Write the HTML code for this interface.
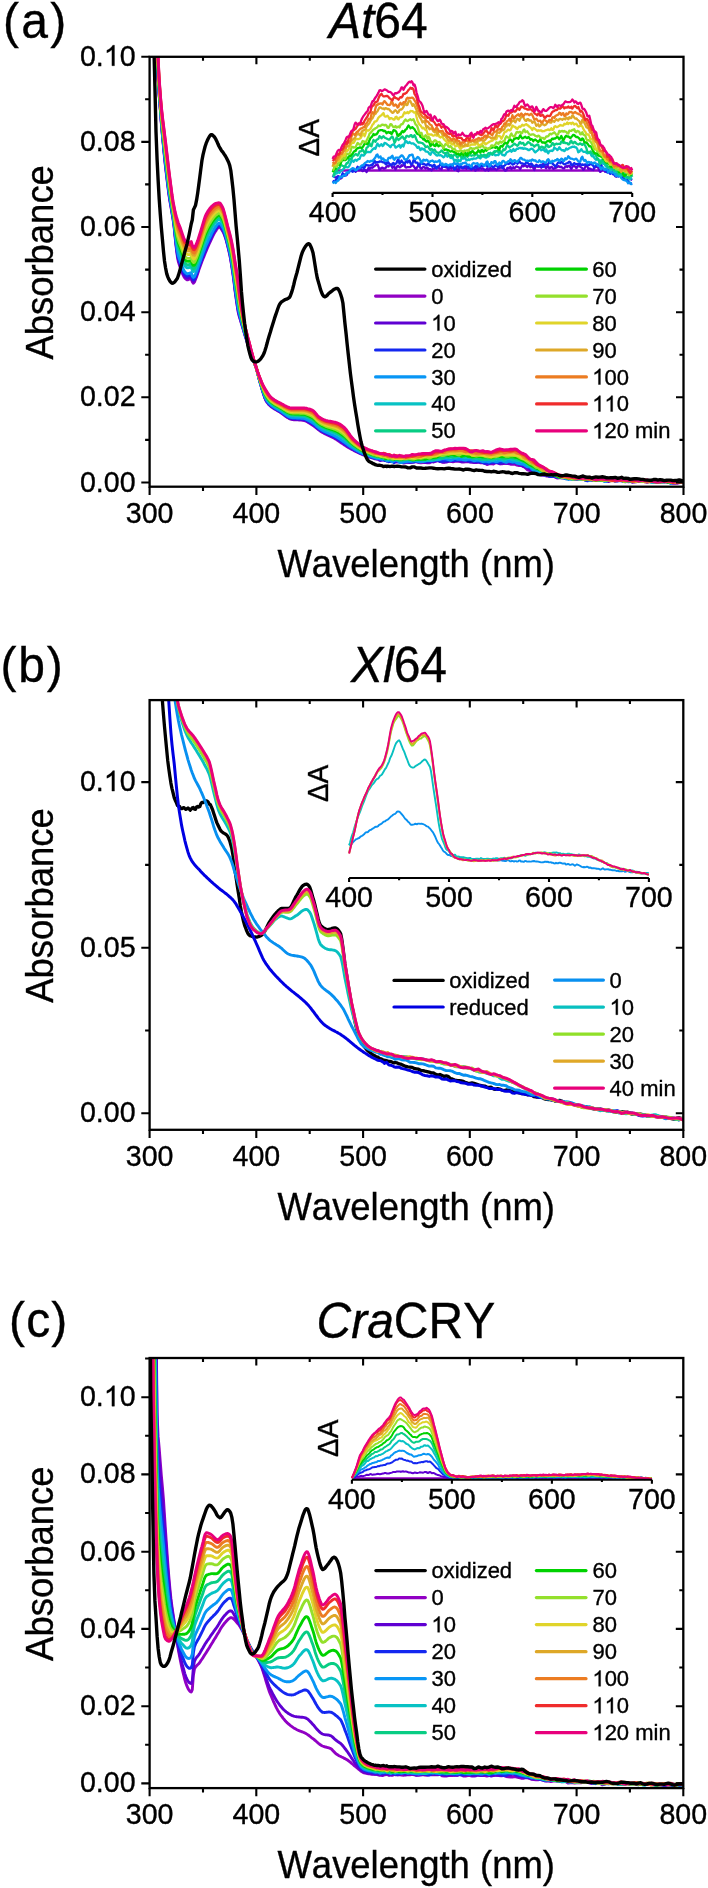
<!DOCTYPE html>
<html><head><meta charset="utf-8"><style>
html,body{margin:0;padding:0;background:#fff;}
svg{display:block;will-change:transform;}
text{font-family:"Liberation Sans", sans-serif;fill:#000;font-kerning:none;white-space:pre;stroke:#000;stroke-width:0.35px;}
</style></head><body>
<svg width="708" height="1888" viewBox="0 0 708 1888">
<rect width="708" height="1888" fill="#fff"/>
<defs><clipPath id="ca"><rect x="149.6" y="56.8" width="533.9" height="429.9"/></clipPath><clipPath id="cb"><rect x="149.6" y="700.1" width="533.7" height="429.6"/></clipPath><clipPath id="cc"><rect x="149.6" y="1358.0" width="533.7" height="430.1"/></clipPath></defs>
<path d="M149.6 -315.9l1.1 53.3l1 53.2l1.1 53.2l1.1 53.2l1 53.2l1.1 63l1.1 43.5l1 22.8l1.1 16.7l1.1 13.5l1 13.1l1.1 12.6l1.1 11.5l1 10.7l1.1 9.9l1.1 9.5l1.1 8.8l1 8.1l1.1 7.2l1.1 6.2l1 5.9l1.1 6.4l1.1 8.3l1 10.1l1.1 10.2l1.1 8.5l1 5.2l1.1 3.5l1.1 2.8l1 2.9l1.1 3.1l1.1 2.2l1 1.5l1.1 1.2l1.1 .7l1 -.1l1.1 -.5l1.1 -.4l1 -.3l1.1 3.4l1.1 1.3l1 -1.1l1.1 -2.6l1.1 -2.7l1.1 -3.2l1 -3.3l1.1 -3.1l1.1 -2.9l1 -2.8l1.1 -2.8l1.1 -2.6l1 -2.7l1.1 -2.5l1.1 -2.6l1 -2.4l1.1 -2.4l1.1 -2.4l1 -2.3l1.1 -2.3l1.1 -2.1l1 -1.9l1.1 -1.6l1.1 -1.8l1 -1.4l1.1 -.7l1.1 .4l1 1.3l1.1 1.7l1.1 1.9l1 2.4l1.1 3.1l1.1 3.6l1 4.1l1.1 4.4l1.1 4.7l1.1 5.7l1 6.5l1.1 7.1l1.1 8.1l1 8.6l1.1 7.9l1.1 7.6l1 6.1l1.1 4.4l1.1 3.6l1 3.3l1.1 3.6l1.1 3.6l1 3.5l1.1 3.4l1.1 3.4l1 3.4l1.1 3.3l1.1 3.3l1 3.2l1.1 3.1l1.1 2.8l1 2.5l1.1 2.6l1.1 3l1 4l1.1 4.4l1.1 4.4l1.1 3.7l1 3.6l1.1 3.6l1.1 3.4l1 2.9l1.1 2.5l1.1 1.7l1 1.3l1.1 1.2l1.1 1l1 .9l1.1 .8l1.1 .7l1 .7l1.1 .6l1.1 .6l1 .6l1.1 .7l1.1 .6l1 .7l1.1 .8l1.1 .8l1 .8l1.1 .8l1.1 .7l1 .8l1.1 .6l1.1 .6l1 .4l1.1 .3l1.1 .2l1.1 .1l1 .1l1.1 0l1.1 .1l1 0l1.1 .1l1.1 0l1 .1l1.1 .1l1.1 .1l1 .3l1.1 .4l1.1 .5l1 .5l1.1 .7l1.1 .7l1 .7l1.1 .7l1.1 .6l1 .8l1.1 .8l1.1 .9l1 .8l1.1 .9l1.1 .8l1 .8l1.1 .7l1.1 .6l1.1 .6l1 .6l1.1 .5l1.1 .5l1 .5l1.1 .5l1.1 .5l1 .5l1.1 .5l1.1 .6l1 .5l1.1 .7l1.1 .6l1 .7l1.1 .7l1.1 .7l1 .8l1.1 .7l1.1 .7l1 .8l1.1 .7l1.1 .7l1 .7l1.1 .6l1.1 .6l1 .6l1.1 .6l1.1 .6l1 .5l1.1 .6l1.1 .5l1.1 .6l1 .5l1.1 .5l1.1 .5l1 .5l1.1 .4l1.1 .4l1 .4l1.1 .4l1.1 .4l1 .4l1.1 .4l1.1 .3l1 .2l1.1 .5l1.1 .3l1 .2l1.1 .6l1.1 0l1 -.4l1.1 .6l1.1 .7l1 .1l1.1 .1l1.1 0l1 -.4l1.1 .3l1.1 .4l1.1 -.4l1 .7l1.1 .8l1.1 .1l1 -.3l1.1 -.3l1.1 .1l1 0l1.1 .6l2.1 .1l2.2 .2l2.1 .5l2.1 .7l2.2 -.6l2.1 -.4l2.1 .5l2.2 -.3l2.1 -.5l2.2 -.1l2.1 .9l2.1 .1l2.2 -.2l2.1 -.1l2.1 .4l2.2 .1l2.1 -1.3l2.1 -.4l2.2 0l2.1 -1.1l2.1 .4l2.2 1.7l2.1 0l2.1 -1.1l2.2 -.5l2.1 .8l2.2 .4l2.1 -.5l2.1 -.1l2.2 0l2.1 .5l2.1 .3l2.2 -.1l2.1 -.4l2.1 .3l2.2 .3l2.1 .5l2.1 -.1l2.2 -.3l2.1 .7l2.2 -.4l2.1 .8l2.1 1.2l2.2 -.7l2.1 -.2l2.1 .5l2.2 -1.3l2.1 0l2.1 1l2.2 0l2.1 -.4l2.1 -.2l2.2 .4l2.1 .6l2.2 .2l2.1 -.3l2.1 1l2.2 .4l2.1 0l2.1 .5l2.2 1.9l2.1 2l2.1 .6l2.2 .7l2.1 .5l2.1 .6l2.2 .6l2.1 .5l2.2 .7l2.1 1.2l2.1 .8l2.2 -.1l2.1 0l2.1 .2l2.2 1.1l2.1 .8l2.1 -.3l2.2 -.1l2.1 -.2l2.1 .3l2.2 1l2.1 0l2.1 -.2l2.2 .2l2.1 .3l2.2 -.5l2.1 0l2.1 .4l2.2 .5l2.1 .1l2.1 0l2.2 .9l2.1 -.2l2.1 -.8l2.2 .3l2.1 .3l2.1 -.4l2.2 .2l2.1 1.2l2.2 -.2l2.1 -.8l2.1 -.3l2.2 .3l2.1 0l2.1 -.5l2.2 1l2.1 .2l2.1 -.1l2.2 1l2.1 -.2l2.1 -.3l2.2 .7l2.1 -.2l2.2 -.9l2.1 -.4l2.1 .3l2.2 1.2l2.1 .4l2.1 -.9l2.2 -.6l2.1 .2l2.1 .5l2.2 .2l2.1 .1l2.1 .2l2.2 -.1l2.1 -.1l2.2 .3l2.1 0l2.1 .2l2.2 .9l2.1 .1l2.1 -.7l2.2 -.8l2.1 .2" stroke="#9100c4" stroke-width="2.90" fill="none" stroke-linejoin="round" stroke-linecap="round" clip-path="url(#ca)"/>
<path d="M149.6 -318.7l1.1 53.3l1 53.2l1.1 53.3l1.1 53.2l1 53.3l1.1 62.5l1.1 44.5l1 23.8l1.1 17l1.1 13.5l1 13.1l1.1 12.5l1.1 11.4l1 10.4l1.1 10l1.1 9.4l1.1 8.8l1 8.2l1.1 7.3l1.1 6.2l1 6l1.1 6.5l1.1 8.1l1 9.9l1.1 9.9l1.1 8.3l1 5.1l1.1 3.4l1.1 2.8l1 3l1.1 3l1.1 2.3l1 1.5l1.1 1.2l1.1 .7l1 -.1l1.1 -.4l1.1 -.4l1 -.3l1.1 3.4l1.1 1.3l1 -1l1.1 -2.6l1.1 -2.7l1.1 -3.1l1 -3.4l1.1 -3.1l1.1 -2.9l1 -2.8l1.1 -2.8l1.1 -2.8l1 -2.6l1.1 -2.6l1.1 -2.5l1 -2.4l1.1 -2.3l1.1 -2.3l1 -2.3l1.1 -2.2l1.1 -2.1l1 -1.8l1.1 -1.6l1.1 -1.7l1 -1.3l1.1 -.7l1.1 .4l1 1.3l1.1 1.7l1.1 1.9l1 2.5l1.1 3.1l1.1 3.7l1 4.1l1.1 4.3l1.1 4.7l1.1 5.7l1 6.4l1.1 7l1.1 8l1 8.6l1.1 7.8l1.1 7.5l1 6.2l1.1 4.6l1.1 3.8l1 3.6l1.1 3.7l1.1 3.7l1 3.6l1.1 3.5l1.1 3.4l1 3.4l1.1 3.4l1.1 3.3l1 3.3l1.1 3.1l1.1 2.8l1 2.6l1.1 2.6l1.1 3.1l1 3.9l1.1 4.4l1.1 4.3l1.1 3.6l1 3.6l1.1 3.5l1.1 3.3l1 3l1.1 2.4l1.1 1.7l1 1.3l1.1 1.2l1.1 1l1 .9l1.1 .8l1.1 .7l1 .7l1.1 .7l1.1 .6l1 .6l1.1 .6l1.1 .7l1 .6l1.1 .8l1.1 .8l1 .8l1.1 .8l1.1 .7l1 .7l1.1 .7l1.1 .5l1 .5l1.1 .2l1.1 .2l1.1 .1l1 .1l1.1 0l1.1 .1l1 0l1.1 .1l1.1 0l1 .1l1.1 .1l1.1 .1l1 .3l1.1 .3l1.1 .5l1 .6l1.1 .6l1.1 .7l1 .6l1.1 .7l1.1 .7l1 .7l1.1 .9l1.1 .9l1 .9l1.1 .8l1.1 .9l1 .7l1.1 .7l1.1 .6l1.1 .6l1 .6l1.1 .5l1.1 .5l1 .5l1.1 .5l1.1 .5l1 .4l1.1 .5l1.1 .6l1 .5l1.1 .6l1.1 .7l1 .6l1.1 .7l1.1 .7l1 .8l1.1 .7l1.1 .8l1 .7l1.1 .7l1.1 .8l1 .7l1.1 .6l1.1 .7l1 .6l1.1 .7l1.1 .6l1 .6l1.1 .6l1.1 .5l1.1 .6l1 .5l1.1 .6l1.1 .5l1 .5l1.1 .4l1.1 .5l1 .4l1.1 .4l1.1 .4l1 .3l1.1 .4l1.1 .4l1 .2l1.1 .3l1.1 .4l1 .1l1.1 .3l1.1 .7l1 .3l1.1 .1l1.1 .7l1 .6l1.1 -.3l1.1 -.4l1 -.2l1.1 -.1l1.1 .8l1.1 .6l1 0l1.1 .4l1.1 -.2l1 -.3l1.1 .7l1.1 .4l1 .2l1.1 0l2.1 -.4l2.2 .1l2.1 -.2l2.1 -.8l2.2 .7l2.1 .7l2.1 -.1l2.2 -.6l2.1 -.3l2.2 .5l2.1 -.2l2.1 -.7l2.2 .3l2.1 1.2l2.1 .2l2.2 -.6l2.1 -.2l2.1 .4l2.2 -1.2l2.1 -.4l2.1 1.1l2.2 .1l2.1 .4l2.1 0l2.2 -.7l2.1 -.4l2.2 .1l2.1 -.4l2.1 -.4l2.2 .6l2.1 .9l2.1 -.3l2.2 -.6l2.1 .3l2.1 .8l2.2 .1l2.1 .3l2.1 -.2l2.2 -.5l2.1 .5l2.2 .5l2.1 .6l2.1 -.8l2.2 -.6l2.1 .8l2.1 .2l2.2 -.7l2.1 .7l2.1 .8l2.2 -.3l2.1 -.3l2.1 .2l2.2 .1l2.1 0l2.2 -.3l2.1 -.5l2.1 .9l2.2 .7l2.1 .9l2.1 1.4l2.2 .5l2.1 .9l2.1 1.2l2.2 1.2l2.1 .7l2.1 .3l2.2 1.5l2.1 1.7l2.2 .9l2.1 -.2l2.1 -.1l2.2 1.1l2.1 .3l2.1 -.5l2.2 .4l2.1 .9l2.1 0l2.2 -.6l2.1 .1l2.1 1.1l2.2 .5l2.1 -.2l2.1 .6l2.2 .4l2.1 -.1l2.2 .1l2.1 -.1l2.1 -.2l2.2 0l2.1 .7l2.1 .4l2.2 -.6l2.1 -.1l2.1 .3l2.2 .5l2.1 -.5l2.1 -.6l2.2 .5l2.1 1.5l2.2 .5l2.1 -.9l2.1 -.1l2.2 .9l2.1 -.3l2.1 -.9l2.2 .7l2.1 .3l2.1 -.1l2.2 -.3l2.1 .5l2.1 1l2.2 -.5l2.1 -.3l2.2 -1l2.1 .1l2.1 .8l2.2 -.1l2.1 .5l2.1 -.3l2.2 -.8l2.1 .3l2.1 .4l2.2 -.2l2.1 .2l2.1 0l2.2 -.6l2.1 .7l2.2 1.1l2.1 0l2.1 .7l2.2 -.3l2.1 -1.4l2.1 -.3l2.2 .3l2.1 .2" stroke="#5f00d2" stroke-width="2.90" fill="none" stroke-linejoin="round" stroke-linecap="round" clip-path="url(#ca)"/>
<path d="M149.6 -321.5l1.1 53.3l1 53.3l1.1 53.2l1.1 53.3l1 53.3l1.1 62l1.1 45.6l1 24.8l1.1 17.2l1.1 13.7l1 12.9l1.1 12.4l1.1 11.3l1 10.3l1.1 9.9l1.1 9.4l1.1 8.9l1 8.1l1.1 7.4l1.1 6.4l1 6.1l1.1 6.5l1.1 8l1 9.6l1.1 9.6l1.1 8l1 5.1l1.1 3.3l1.1 2.8l1 3l1.1 3l1.1 2.4l1 1.5l1.1 1.2l1.1 .7l1 -.1l1.1 -.4l1.1 -.3l1 -.4l1.1 3.4l1.1 1.4l1 -.9l1.1 -2.6l1.1 -2.7l1.1 -3.1l1 -3.3l1.1 -3.1l1.1 -3l1 -2.8l1.1 -2.9l1.1 -2.8l1 -2.7l1.1 -2.5l1.1 -2.5l1 -2.3l1.1 -2.3l1.1 -2.3l1 -2.2l1.1 -2.2l1.1 -2l1 -1.7l1.1 -1.6l1.1 -1.6l1 -1.3l1.1 -.6l1.1 .4l1 1.3l1.1 1.7l1.1 1.9l1 2.6l1.1 3.2l1.1 3.7l1 4.1l1.1 4.3l1.1 4.7l1.1 5.5l1 6.4l1.1 6.9l1.1 8l1 8.4l1.1 7.7l1.1 7.5l1 6.3l1.1 4.9l1.1 4l1 3.7l1.1 3.9l1.1 3.8l1 3.6l1.1 3.6l1.1 3.5l1 3.4l1.1 3.5l1.1 3.3l1 3.3l1.1 3.2l1.1 2.9l1 2.6l1.1 2.7l1.1 3.1l1 3.9l1.1 4.3l1.1 4.2l1.1 3.6l1 3.5l1.1 3.5l1.1 3.2l1 2.9l1.1 2.4l1.1 1.7l1 1.3l1.1 1.2l1.1 1l1 .9l1.1 .8l1.1 .8l1 .7l1.1 .6l1.1 .6l1 .6l1.1 .7l1.1 .6l1 .7l1.1 .7l1.1 .8l1 .8l1.1 .7l1.1 .8l1 .7l1.1 .6l1.1 .6l1 .4l1.1 .3l1.1 .1l1.1 .1l1 .1l1.1 0l1.1 .1l1 0l1.1 .1l1.1 0l1 .1l1.1 .1l1.1 .1l1 .2l1.1 .4l1.1 .4l1 .6l1.1 .6l1.1 .7l1 .6l1.1 .7l1.1 .6l1 .8l1.1 .9l1.1 .9l1 .9l1.1 .9l1.1 .8l1 .8l1.1 .6l1.1 .7l1.1 .5l1 .6l1.1 .5l1.1 .5l1 .5l1.1 .4l1.1 .5l1 .5l1.1 .5l1.1 .5l1 .5l1.1 .6l1.1 .6l1 .7l1.1 .6l1.1 .8l1 .7l1.1 .7l1.1 .8l1 .7l1.1 .8l1.1 .7l1 .8l1.1 .7l1.1 .7l1 .7l1.1 .6l1.1 .7l1 .6l1.1 .6l1.1 .6l1.1 .6l1 .6l1.1 .5l1.1 .5l1 .5l1.1 .5l1.1 .5l1 .4l1.1 .4l1.1 .4l1 .4l1.1 .3l1.1 .5l1 .3l1.1 .3l1.1 .5l1 .2l1.1 .2l1.1 .4l1 .1l1.1 .1l1.1 .3l1 .4l1.1 0l1.1 0l1 .7l1.1 .5l1.1 0l1.1 .6l1 0l1.1 .6l1.1 -.4l1 -.5l1.1 .3l1.1 .6l1 .8l1.1 -1.4l2.1 -.9l2.2 1.1l2.1 .8l2.1 .1l2.2 -.3l2.1 -.1l2.1 .3l2.2 -.2l2.1 .1l2.2 -.8l2.1 -.2l2.1 .5l2.2 .1l2.1 .3l2.1 -.7l2.2 .1l2.1 -.1l2.1 -.6l2.2 -.4l2.1 .2l2.1 .6l2.2 .3l2.1 -.4l2.1 -.2l2.2 -.1l2.1 -.5l2.2 .1l2.1 .4l2.1 -.4l2.2 -.5l2.1 .2l2.1 .2l2.2 -.1l2.1 .6l2.1 .4l2.2 0l2.1 .1l2.1 .1l2.2 .7l2.1 -.2l2.2 .8l2.1 .5l2.1 0l2.2 .3l2.1 -.9l2.1 -.4l2.2 .4l2.1 .2l2.1 -.2l2.2 -.1l2.1 -.8l2.1 0l2.2 -.1l2.1 .2l2.2 .6l2.1 -.2l2.1 .7l2.2 1l2.1 .3l2.1 .3l2.2 1.3l2.1 .8l2.1 1l2.2 2.3l2.1 .9l2.1 .5l2.2 .6l2.1 .6l2.2 1.1l2.1 .5l2.1 1l2.2 1.2l2.1 .4l2.1 -.2l2.2 0l2.1 .5l2.1 .6l2.2 .4l2.1 .4l2.1 .6l2.2 -.6l2.1 -.6l2.1 1.3l2.2 .1l2.1 -.5l2.2 .2l2.1 -.1l2.1 .2l2.2 1.6l2.1 .5l2.1 -1.3l2.2 -.7l2.1 .3l2.1 .8l2.2 -.1l2.1 -.6l2.1 .7l2.2 .7l2.1 -.4l2.2 -.7l2.1 -.4l2.1 .2l2.2 -.2l2.1 .6l2.1 .7l2.2 -.1l2.1 1.1l2.1 .3l2.2 -1.1l2.1 -.1l2.1 1l2.2 -.5l2.1 -.8l2.2 .3l2.1 -.2l2.1 .7l2.2 -.2l2.1 -1l2.1 .9l2.2 .4l2.1 .3l2.1 .2l2.2 0l2.1 .4l2.1 -.7l2.2 -.4l2.1 .6l2.2 .1l2.1 .5l2.1 -.4l2.2 -.2l2.1 .7l2.1 .4l2.2 -.5l2.1 .7" stroke="#1428f0" stroke-width="2.90" fill="none" stroke-linejoin="round" stroke-linecap="round" clip-path="url(#ca)"/>
<path d="M149.6 -324.8l1.1 53.3l1 53.3l1.1 53.3l1.1 53.3l1 53.3l1.1 61.4l1.1 46.9l1 26l1.1 17.5l1.1 13.7l1 12.9l1.1 12.3l1.1 11.1l1 10.2l1.1 9.7l1.1 9.5l1.1 8.8l1 8.3l1.1 7.4l1.1 6.6l1 6.2l1.1 6.5l1.1 7.9l1 9.3l1.1 9.2l1.1 7.7l1 4.9l1.1 3.3l1.1 2.8l1 3l1.1 3.1l1.1 2.4l1 1.6l1.1 1.1l1.1 .7l1 0l1.1 -.4l1.1 -.3l1 -.4l1.1 3.4l1.1 1.4l1 -.8l1.1 -2.5l1.1 -2.7l1.1 -3.1l1 -3.3l1.1 -3.1l1.1 -3l1 -2.9l1.1 -2.9l1.1 -2.9l1 -2.7l1.1 -2.5l1.1 -2.4l1 -2.4l1.1 -2.2l1.1 -2.2l1 -2.2l1.1 -2l1.1 -2l1 -1.7l1.1 -1.4l1.1 -1.5l1 -1.3l1.1 -.6l1.1 .5l1 1.2l1.1 1.8l1.1 1.9l1 2.6l1.1 3.3l1.1 3.8l1 4.1l1.1 4.3l1.1 4.6l1.1 5.5l1 6.2l1.1 6.8l1.1 7.9l1 8.3l1.1 7.7l1.1 7.4l1 6.4l1.1 5.2l1.1 4.3l1 3.9l1.1 4l1.1 3.9l1 3.8l1.1 3.7l1.1 3.5l1 3.5l1.1 3.5l1.1 3.4l1 3.4l1.1 3.2l1.1 3l1 2.6l1.1 2.8l1.1 3.1l1 3.8l1.1 4.3l1.1 4l1.1 3.6l1 3.4l1.1 3.4l1.1 3.2l1 2.8l1.1 2.3l1.1 1.8l1 1.3l1.1 1.2l1.1 1l1 1l1.1 .8l1.1 .7l1 .7l1.1 .7l1.1 .6l1 .6l1.1 .6l1.1 .6l1 .7l1.1 .7l1.1 .8l1 .8l1.1 .7l1.1 .8l1 .7l1.1 .6l1.1 .5l1 .4l1.1 .3l1.1 .1l1.1 .1l1 .1l1.1 0l1.1 .1l1 0l1.1 .1l1.1 0l1 .1l1.1 .1l1.1 .1l1 .2l1.1 .3l1.1 .5l1 .5l1.1 .6l1.1 .6l1 .6l1.1 .7l1.1 .6l1 .8l1.1 .9l1.1 .9l1 1l1.1 .9l1.1 .8l1 .8l1.1 .6l1.1 .7l1.1 .5l1 .6l1.1 .5l1.1 .5l1 .4l1.1 .5l1.1 .4l1 .5l1.1 .4l1.1 .5l1 .5l1.1 .6l1.1 .6l1 .6l1.1 .7l1.1 .7l1 .7l1.1 .8l1.1 .7l1 .8l1.1 .7l1.1 .8l1 .8l1.1 .8l1.1 .7l1 .8l1.1 .7l1.1 .7l1 .7l1.1 .6l1.1 .6l1.1 .6l1 .6l1.1 .6l1.1 .5l1 .5l1.1 .5l1.1 .5l1 .4l1.1 .4l1.1 .4l1 .4l1.1 .4l1.1 .4l1 .3l1.1 .3l1.1 .4l1 .3l1.1 .5l1.1 .3l1 .2l1.1 -.1l1.1 .3l1 .5l1.1 0l1.1 .5l1 -1l1.1 -.2l1.1 1.2l1.1 1.1l1 .2l1.1 -.4l1.1 -.5l1 .6l1.1 1.3l1.1 -.4l1 -.7l1.1 -.5l2.1 .5l2.2 1.8l2.1 0l2.1 -.5l2.2 -.1l2.1 -.8l2.1 .3l2.2 -.1l2.1 -.6l2.2 .5l2.1 .5l2.1 0l2.2 -.2l2.1 -.5l2.1 -.7l2.2 .2l2.1 .1l2.1 -.7l2.2 -.3l2.1 .1l2.1 -.4l2.2 -.5l2.1 -.1l2.1 .4l2.2 .6l2.1 .6l2.2 -.9l2.1 -1.1l2.1 .9l2.2 .2l2.1 -.4l2.1 .9l2.2 .2l2.1 -.9l2.1 -.1l2.2 .8l2.1 .9l2.1 -.5l2.2 -.3l2.1 .9l2.2 .7l2.1 -.3l2.1 .1l2.2 .6l2.1 -.9l2.1 -.3l2.2 .9l2.1 -.2l2.1 -1l2.2 .1l2.1 1.1l2.1 .7l2.2 -1.2l2.1 .4l2.2 .4l2.1 -.4l2.1 1.4l2.2 .7l2.1 .4l2.1 .2l2.2 1.4l2.1 1.2l2.1 -.3l2.2 2.3l2.1 2.2l2.1 .5l2.2 .2l2.1 .7l2.2 1.7l2.1 .7l2.1 0l2.2 -.5l2.1 .5l2.1 .1l2.2 -.2l2.1 1.3l2.1 .7l2.2 .2l2.1 .6l2.1 1.1l2.2 .8l2.1 -.6l2.1 .2l2.2 -.2l2.1 -.4l2.2 .7l2.1 -.2l2.1 -.4l2.2 .1l2.1 .2l2.1 1.3l2.2 -.3l2.1 -.4l2.1 0l2.2 -.5l2.1 -.1l2.1 1.1l2.2 1.5l2.1 -.3l2.2 -1.2l2.1 .2l2.1 .2l2.2 .1l2.1 .3l2.1 -.2l2.2 .2l2.1 -.3l2.1 -.3l2.2 -.4l2.1 .1l2.1 .2l2.2 .2l2.1 .2l2.2 .2l2.1 .6l2.1 -.5l2.2 -.5l2.1 .3l2.1 .7l2.2 1.1l2.1 .1l2.1 -.8l2.2 .4l2.1 -.4l2.1 0l2.2 .4l2.1 -1.6l2.2 1.4l2.1 1.7l2.1 -1.3l2.2 -.5l2.1 .4l2.1 0l2.2 -.4l2.1 -.3" stroke="#0896f5" stroke-width="2.90" fill="none" stroke-linejoin="round" stroke-linecap="round" clip-path="url(#ca)"/>
<path d="M149.6 -333.7l1.1 53.3l1 53.4l1.1 53.4l1.1 53.3l1 53.4l1.1 60l1.1 50.1l1 29.3l1.1 18.2l1.1 14l1 12.8l1.1 11.9l1.1 10.6l1 9.8l1.1 9.6l1.1 9.3l1.1 9l1 8.4l1.1 7.6l1.1 7l1 6.5l1.1 6.7l1.1 7.4l1 8.4l1.1 8.3l1.1 7l1 4.5l1.1 3.2l1.1 2.8l1 3l1.1 3.1l1.1 2.5l1 1.7l1.1 1.2l1.1 .7l1 0l1.1 -.2l1.1 -.3l1 -.5l1.1 3.5l1.1 1.4l1 -.6l1.1 -2.3l1.1 -2.7l1.1 -2.9l1 -3.3l1.1 -3.2l1.1 -3.1l1 -3l1.1 -3.1l1.1 -3l1 -2.8l1.1 -2.5l1.1 -2.3l1 -2.2l1.1 -2.1l1.1 -2.1l1 -1.9l1.1 -1.9l1.1 -1.7l1 -1.5l1.1 -1.3l1.1 -1.3l1 -1.1l1.1 -.4l1.1 .4l1 1.3l1.1 1.7l1.1 2.1l1 2.7l1.1 3.5l1.1 3.9l1 4.1l1.1 4.3l1.1 4.5l1.1 5.3l1 5.9l1.1 6.6l1.1 7.7l1 8l1.1 7.4l1.1 7.2l1 6.7l1.1 5.9l1.1 5.1l1 4.5l1.1 4.4l1.1 4.3l1 4.1l1.1 3.9l1.1 3.7l1 3.6l1.1 3.5l1.1 3.6l1 3.5l1.1 3.4l1.1 3.1l1 2.9l1.1 2.9l1.1 3.2l1 3.7l1.1 4l1.1 3.8l1.1 3.4l1 3.3l1.1 3.2l1.1 2.9l1 2.7l1.1 2.2l1.1 1.7l1 1.4l1.1 1.2l1.1 1.1l1 1l1.1 .8l1.1 .8l1 .7l1.1 .6l1.1 .7l1 .6l1.1 .5l1.1 .7l1 .6l1.1 .7l1.1 .7l1 .8l1.1 .7l1.1 .7l1 .7l1.1 .5l1.1 .5l1 .4l1.1 .3l1.1 .1l1.1 0l1 .1l1.1 0l1.1 .1l1 0l1.1 0l1.1 .1l1 0l1.1 .1l1.1 .1l1 .2l1.1 .3l1.1 .4l1 .4l1.1 .6l1.1 .5l1 .6l1.1 .6l1.1 .6l1 .8l1.1 1l1.1 1l1 1l1.1 .9l1.1 .9l1 .7l1.1 .7l1.1 .6l1.1 .5l1 .6l1.1 .4l1.1 .5l1 .4l1.1 .4l1.1 .4l1 .4l1.1 .5l1.1 .4l1 .4l1.1 .5l1.1 .6l1 .6l1.1 .6l1.1 .7l1 .7l1.1 .7l1.1 .8l1 .8l1.1 .8l1.1 .9l1 .9l1.1 .9l1.1 .9l1 .9l1.1 .8l1.1 .8l1 .8l1.1 .7l1.1 .7l1.1 .7l1 .6l1.1 .6l1.1 .6l1 .6l1.1 .5l1.1 .5l1 .5l1.1 .4l1.1 .4l1 .5l1.1 .3l1.1 .4l1 .4l1.1 .2l1.1 .4l1 .6l1.1 .1l1.1 .4l1 .7l1.1 -.2l1.1 .2l1 0l1.1 -.7l1.1 .2l1 .6l1.1 .5l1.1 .2l1.1 .3l1 -.5l1.1 .4l1.1 .4l1 -.3l1.1 .5l1.1 -.1l1 -.2l1.1 .1l2.1 .7l2.2 .7l2.1 .2l2.1 -.6l2.2 -.5l2.1 0l2.1 .5l2.2 -.5l2.1 .3l2.2 .5l2.1 -.8l2.1 .2l2.2 .6l2.1 0l2.1 -.1l2.2 -.2l2.1 -.1l2.1 .2l2.2 -.8l2.1 -.1l2.1 -.2l2.2 -.7l2.1 -.7l2.1 -.3l2.2 .4l2.1 -.6l2.2 -.2l2.1 .5l2.1 -.2l2.2 -.9l2.1 -.1l2.1 1.3l2.2 0l2.1 .1l2.1 -.4l2.2 .5l2.1 .9l2.1 .3l2.2 -.2l2.1 .1l2.2 .8l2.1 .1l2.1 -.1l2.2 -.5l2.1 1.2l2.1 -.1l2.2 -1.3l2.1 .2l2.1 -.3l2.2 .5l2.1 1.1l2.1 -.8l2.2 -1.4l2.1 .7l2.2 1.1l2.1 .1l2.1 .5l2.2 .1l2.1 .3l2.1 .9l2.2 .8l2.1 2l2.1 1.4l2.2 1.5l2.1 1.3l2.1 -.1l2.2 1.3l2.1 1.9l2.2 .7l2.1 -.4l2.1 .7l2.2 1.7l2.1 .3l2.1 -.3l2.2 1.2l2.1 .8l2.1 -.3l2.2 .1l2.1 .5l2.1 .6l2.2 .6l2.1 .5l2.1 .4l2.2 -.9l2.1 .1l2.2 1l2.1 .2l2.1 .1l2.2 -.3l2.1 -.6l2.1 .6l2.2 .1l2.1 -1.1l2.1 .8l2.2 .7l2.1 -.5l2.1 -.2l2.2 -.3l2.1 .2l2.2 .4l2.1 .7l2.1 -.7l2.2 .2l2.1 .5l2.1 -.6l2.2 .7l2.1 .5l2.1 -.8l2.2 .8l2.1 .4l2.1 -.6l2.2 .5l2.1 .5l2.2 -.2l2.1 -.1l2.1 0l2.2 .1l2.1 .1l2.1 -.5l2.2 1.1l2.1 .3l2.1 -.6l2.2 .8l2.1 .1l2.1 -1.1l2.2 .2l2.1 -.1l2.2 .2l2.1 1l2.1 -.6l2.2 -.6l2.1 .3l2.1 .3l2.2 -.4l2.1 .3" stroke="#08c2c4" stroke-width="2.90" fill="none" stroke-linejoin="round" stroke-linecap="round" clip-path="url(#ca)"/>
<path d="M149.6 -338.2l1.1 53.4l1 53.4l1.1 53.4l1.1 53.4l1 53.4l1.1 59.2l1.1 51.9l1 30.8l1.1 18.6l1.1 14.2l1 12.6l1.1 11.8l1.1 10.3l1 9.7l1.1 9.4l1.1 9.4l1.1 9l1 8.4l1.1 7.8l1.1 7.1l1 6.7l1.1 6.7l1.1 7.2l1 8.1l1.1 7.8l1.1 6.5l1 4.4l1.1 3.2l1.1 2.7l1 3l1.1 3.2l1.1 2.5l1 1.8l1.1 1.1l1.1 .7l1 .2l1.1 -.2l1.1 -.4l1 -.5l1.1 3.5l1.1 1.5l1 -.5l1.1 -2.2l1.1 -2.6l1.1 -3l1 -3.2l1.1 -3.3l1.1 -3.1l1 -3.1l1.1 -3.1l1.1 -3.1l1 -2.8l1.1 -2.5l1.1 -2.3l1 -2.2l1.1 -2l1.1 -1.9l1 -1.9l1.1 -1.8l1.1 -1.6l1 -1.4l1.1 -1.2l1.1 -1.2l1 -.9l1.1 -.5l1.1 .5l1 1.3l1.1 1.7l1.1 2.1l1 2.8l1.1 3.6l1.1 3.9l1 4.2l1.1 4.3l1.1 4.4l1.1 5.2l1 5.8l1.1 6.4l1.1 7.6l1 7.8l1.1 7.3l1.1 7.2l1 6.8l1.1 6.3l1.1 5.4l1 4.8l1.1 4.7l1.1 4.4l1 4.3l1.1 4l1.1 3.8l1 3.6l1.1 3.6l1.1 3.6l1 3.6l1.1 3.5l1.1 3.2l1 3l1.1 3l1.1 3.2l1 3.6l1.1 3.9l1.1 3.7l1.1 3.3l1 3.2l1.1 3.1l1.1 2.8l1 2.6l1.1 2.2l1.1 1.7l1 1.4l1.1 1.3l1.1 1.1l1 .9l1.1 .9l1.1 .8l1 .7l1.1 .6l1.1 .6l1 .6l1.1 .6l1.1 .6l1 .7l1.1 .6l1.1 .7l1 .8l1.1 .7l1.1 .7l1 .6l1.1 .6l1.1 .4l1 .4l1.1 .2l1.1 .1l1.1 .1l1 0l1.1 .1l1.1 0l1 0l1.1 .1l1.1 0l1 .1l1.1 0l1.1 .1l1 .2l1.1 .2l1.1 .4l1 .5l1.1 .5l1.1 .5l1 .6l1.1 .5l1.1 .6l1 .9l1.1 .9l1.1 1.1l1 1l1.1 1l1.1 .8l1 .7l1.1 .7l1.1 .6l1.1 .6l1 .5l1.1 .4l1.1 .5l1 .4l1.1 .4l1.1 .3l1 .4l1.1 .4l1.1 .4l1 .4l1.1 .5l1.1 .5l1 .6l1.1 .6l1.1 .7l1 .7l1.1 .7l1.1 .8l1 .8l1.1 .8l1.1 .9l1 1l1.1 1l1.1 1l1 .9l1.1 .9l1.1 .9l1 .8l1.1 .7l1.1 .8l1.1 .7l1 .7l1.1 .6l1.1 .6l1 .6l1.1 .6l1.1 .5l1 .5l1.1 .4l1.1 .5l1 .4l1.1 .4l1.1 .3l1 .3l1.1 .6l1.1 .2l1 .6l1.1 .4l1.1 -.2l1 .3l1.1 .2l1.1 -.1l1 .6l1.1 .3l1.1 -.1l1 .9l1.1 .8l1.1 -.2l1.1 .1l1 0l1.1 .5l1.1 0l1 .3l1.1 -.2l1.1 -.7l1 -.1l1.1 .1l2.1 .9l2.2 .7l2.1 -.4l2.1 -.5l2.2 .1l2.1 -.4l2.1 -.3l2.2 .2l2.1 -.2l2.2 -.1l2.1 .6l2.1 -.4l2.2 -.5l2.1 -.4l2.1 1l2.2 -.1l2.1 -.4l2.1 .6l2.2 -1.1l2.1 -.9l2.1 .3l2.2 .8l2.1 -1l2.1 -1l2.2 .5l2.1 .1l2.2 .1l2.1 -.4l2.1 -.7l2.2 -.2l2.1 .7l2.1 .4l2.2 -1.4l2.1 .5l2.1 1.1l2.2 1.1l2.1 .1l2.1 -.5l2.2 .6l2.1 .8l2.2 0l2.1 -.1l2.1 .3l2.2 -.5l2.1 -.2l2.1 .1l2.2 -.6l2.1 .4l2.1 -.3l2.2 -.1l2.1 .8l2.1 -.5l2.2 -.7l2.1 -.1l2.2 .5l2.1 .6l2.1 .4l2.2 .8l2.1 .5l2.1 .9l2.2 .9l2.1 1.4l2.1 1.8l2.2 .6l2.1 1.5l2.1 1.5l2.2 -.5l2.1 .7l2.2 1.5l2.1 1.2l2.1 2.4l2.2 .1l2.1 -.3l2.1 .7l2.2 .7l2.1 .9l2.1 .9l2.2 -.2l2.1 .4l2.1 .4l2.2 -.3l2.1 1.1l2.1 .3l2.2 -.6l2.1 -.4l2.2 .3l2.1 .4l2.1 .7l2.2 -.4l2.1 -.1l2.1 .8l2.2 .1l2.1 0l2.1 .5l2.2 .1l2.1 -.2l2.1 .1l2.2 .4l2.1 -.9l2.2 -.1l2.1 .7l2.1 -.5l2.2 -.2l2.1 -.6l2.1 .3l2.2 .5l2.1 .5l2.1 -.3l2.2 .5l2.1 .7l2.1 -.6l2.2 -.3l2.1 -.1l2.2 -.1l2.1 .1l2.1 .6l2.2 .2l2.1 -.5l2.1 0l2.2 .3l2.1 .2l2.1 1.1l2.2 .3l2.1 -.8l2.1 -.8l2.2 -.4l2.1 0l2.2 .9l2.1 .5l2.1 -.3l2.2 .2l2.1 0l2.1 .8l2.2 -.2l2.1 -.6" stroke="#08cd84" stroke-width="2.90" fill="none" stroke-linejoin="round" stroke-linecap="round" clip-path="url(#ca)"/>
<path d="M149.6 -343.2l1.1 53.4l1 53.5l1.1 53.4l1.1 53.4l1 53.5l1.1 58.4l1.1 53.7l1 32.7l1.1 19l1.1 14.2l1 12.6l1.1 11.6l1.1 10.1l1 9.4l1.1 9.3l1.1 9.4l1.1 9l1 8.5l1.1 7.9l1.1 7.3l1 7l1.1 6.7l1.1 7l1 7.5l1.1 7.3l1.1 6.1l1 4.2l1.1 3.1l1.1 2.8l1 3l1.1 3.1l1.1 2.7l1 1.8l1.1 1.1l1.1 .7l1 .2l1.1 -.1l1.1 -.3l1 -.6l1.1 3.5l1.1 1.5l1 -.3l1.1 -2.1l1.1 -2.7l1.1 -2.9l1 -3.2l1.1 -3.3l1.1 -3.2l1 -3.1l1.1 -3.2l1.1 -3.2l1 -2.8l1.1 -2.5l1.1 -2.3l1 -2.1l1.1 -1.9l1.1 -1.9l1 -1.7l1.1 -1.7l1.1 -1.5l1 -1.3l1.1 -1.1l1.1 -1l1 -.9l1.1 -.4l1.1 .5l1 1.3l1.1 1.7l1.1 2.2l1 2.9l1.1 3.7l1.1 4l1 4.2l1.1 4.2l1.1 4.4l1.1 5l1 5.7l1.1 6.3l1.1 7.4l1 7.7l1.1 7.1l1.1 7.2l1 6.9l1.1 6.8l1.1 5.8l1 5.1l1.1 4.9l1.1 4.7l1 4.4l1.1 4.1l1.1 3.9l1 3.7l1.1 3.6l1.1 3.7l1 3.7l1.1 3.6l1.1 3.3l1 3.1l1.1 3l1.1 3.2l1 3.6l1.1 3.8l1.1 3.6l1.1 3.2l1 3.1l1.1 2.9l1.1 2.8l1 2.4l1.1 2.1l1.1 1.8l1 1.4l1.1 1.3l1.1 1.1l1 1l1.1 .9l1.1 .7l1 .7l1.1 .7l1.1 .6l1 .6l1.1 .6l1.1 .6l1 .6l1.1 .7l1.1 .7l1 .7l1.1 .7l1.1 .6l1 .6l1.1 .6l1.1 .5l1 .3l1.1 .2l1.1 .1l1.1 0l1 .1l1.1 0l1.1 0l1 .1l1.1 0l1.1 0l1 .1l1.1 0l1.1 .1l1 .1l1.1 .3l1.1 .3l1 .4l1.1 .5l1.1 .5l1 .6l1.1 .5l1.1 .6l1 .8l1.1 1l1.1 1.1l1 1.1l1.1 1l1.1 .8l1 .7l1.1 .7l1.1 .6l1.1 .5l1 .5l1.1 .5l1.1 .4l1 .4l1.1 .4l1.1 .3l1 .4l1.1 .3l1.1 .4l1 .4l1.1 .4l1.1 .5l1 .5l1.1 .6l1.1 .7l1 .7l1.1 .7l1.1 .8l1 .8l1.1 .9l1.1 .9l1 1.1l1.1 1l1.1 1.1l1 1l1.1 1l1.1 .9l1 .9l1.1 .8l1.1 .7l1.1 .8l1 .7l1.1 .7l1.1 .7l1 .6l1.1 .6l1.1 .5l1 .5l1.1 .4l1.1 .5l1 .4l1.1 .4l1.1 .4l1 .4l1.1 .3l1.1 .4l1 .3l1.1 .2l1.1 .5l1 .3l1.1 .1l1.1 -.1l1 .3l1.1 .7l1.1 0l1 -.2l1.1 .5l1.1 1.5l1.1 -.2l1 -.6l1.1 .4l1.1 -1l1 .1l1.1 .9l1.1 .6l1 .3l1.1 -.8l2.1 .2l2.2 .4l2.1 -.1l2.1 -.1l2.2 -.3l2.1 -.1l2.1 .7l2.2 .8l2.1 -.1l2.2 -.8l2.1 .1l2.1 .2l2.2 0l2.1 -.1l2.1 -.8l2.2 -.5l2.1 -.1l2.1 -.3l2.2 -.3l2.1 -.7l2.1 -1.2l2.2 -.3l2.1 -.2l2.1 0l2.2 .6l2.1 -1l2.2 .1l2.1 .8l2.1 -.3l2.2 .4l2.1 .8l2.1 -.9l2.2 -.1l2.1 1l2.1 .1l2.2 .4l2.1 -.2l2.1 -.3l2.2 .2l2.1 .1l2.2 .5l2.1 -.1l2.1 -.3l2.2 .8l2.1 .3l2.1 -.2l2.2 -.9l2.1 -.6l2.1 .4l2.2 .2l2.1 -.1l2.1 .3l2.2 .2l2.1 -.4l2.2 0l2.1 .5l2.1 .3l2.2 .9l2.1 1.2l2.1 .8l2.2 1.2l2.1 1.4l2.1 1.5l2.2 1.3l2.1 .9l2.1 1.2l2.2 1l2.1 1.2l2.2 .9l2.1 -.3l2.1 1.4l2.2 1.6l2.1 -.3l2.1 .6l2.2 .7l2.1 1.5l2.1 1.1l2.2 -1l2.1 .4l2.1 .8l2.2 .8l2.1 0l2.1 -1.4l2.2 .6l2.1 .9l2.2 -.1l2.1 -.5l2.1 .4l2.2 1.6l2.1 -.8l2.1 -.1l2.2 .6l2.1 .6l2.1 .4l2.2 -.9l2.1 .4l2.1 .3l2.2 -.6l2.1 .2l2.2 .1l2.1 -.9l2.1 1l2.2 .7l2.1 -1l2.1 .3l2.2 -.3l2.1 -.5l2.1 .4l2.2 .4l2.1 .3l2.1 .7l2.2 -.1l2.1 -.2l2.2 .5l2.1 -.5l2.1 -.1l2.2 .1l2.1 .4l2.1 .6l2.2 -.3l2.1 -.7l2.1 .1l2.2 .3l2.1 .3l2.1 .3l2.2 -.5l2.1 .5l2.2 .6l2.1 -.5l2.1 .2l2.2 .1l2.1 -.5l2.1 .2l2.2 -.1l2.1 -.2" stroke="#00d200" stroke-width="2.90" fill="none" stroke-linejoin="round" stroke-linecap="round" clip-path="url(#ca)"/>
<path d="M149.6 -347.7l1.1 53.5l1 53.5l1.1 53.4l1.1 53.5l1 53.5l1.1 57.6l1.1 55.4l1 34.3l1.1 19.4l1.1 14.4l1 12.5l1.1 11.3l1.1 9.9l1 9.2l1.1 9.3l1.1 9.3l1.1 9.1l1 8.6l1.1 8l1.1 7.5l1 7.1l1.1 6.8l1.1 6.7l1 7.2l1.1 6.8l1.1 5.7l1 4l1.1 3.1l1.1 2.7l1 3l1.1 3.2l1.1 2.7l1 1.9l1.1 1.1l1.1 .7l1 .2l1.1 0l1.1 -.3l1 -.7l1.1 3.6l1.1 1.5l1 -.2l1.1 -2l1.1 -2.6l1.1 -2.9l1 -3.2l1.1 -3.3l1.1 -3.3l1 -3.1l1.1 -3.3l1.1 -3.3l1 -2.9l1.1 -2.5l1.1 -2.2l1 -2l1.1 -1.9l1.1 -1.7l1 -1.7l1.1 -1.5l1.1 -1.5l1 -1.2l1.1 -1l1.1 -.9l1 -.8l1.1 -.3l1.1 .4l1 1.4l1.1 1.7l1.1 2.2l1 3l1.1 3.8l1.1 4.1l1 4.2l1.1 4.2l1.1 4.3l1.1 4.9l1 5.5l1.1 6.2l1.1 7.3l1 7.5l1.1 7.1l1.1 7l1 7.1l1.1 7.1l1.1 6.2l1 5.4l1.1 5.2l1.1 4.8l1 4.5l1.1 4.3l1.1 3.9l1 3.8l1.1 3.7l1.1 3.8l1 3.7l1.1 3.7l1.1 3.4l1 3.1l1.1 3.2l1.1 3.2l1 3.6l1.1 3.6l1.1 3.4l1.1 3.2l1 3l1.1 2.8l1.1 2.7l1 2.3l1.1 2.1l1.1 1.7l1 1.5l1.1 1.3l1.1 1.2l1 1l1.1 .8l1.1 .8l1 .7l1.1 .7l1.1 .6l1 .6l1.1 .6l1.1 .6l1 .6l1.1 .6l1.1 .7l1 .7l1.1 .6l1.1 .7l1 .6l1.1 .5l1.1 .5l1 .3l1.1 .2l1.1 .1l1.1 0l1 0l1.1 .1l1.1 0l1 0l1.1 0l1.1 .1l1 0l1.1 0l1.1 .1l1 .1l1.1 .3l1.1 .3l1 .4l1.1 .4l1.1 .5l1 .5l1.1 .5l1.1 .6l1 .8l1.1 1.1l1.1 1.1l1 1.1l1.1 1l1.1 .9l1 .7l1.1 .6l1.1 .6l1.1 .5l1 .5l1.1 .5l1.1 .4l1 .3l1.1 .4l1.1 .3l1 .3l1.1 .4l1.1 .3l1 .4l1.1 .4l1.1 .4l1 .5l1.1 .6l1.1 .6l1 .7l1.1 .8l1.1 .8l1 .8l1.1 .9l1.1 1l1 1.1l1.1 1.1l1.1 1.2l1 1.1l1.1 1l1.1 1l1 .9l1.1 .8l1.1 .8l1.1 .8l1 .8l1.1 .7l1.1 .7l1 .6l1.1 .6l1.1 .6l1 .5l1.1 .4l1.1 .5l1 .4l1.1 .4l1.1 .5l1 .4l1.1 .3l1.1 .6l1 .4l1.1 .1l1.1 .4l1 .5l1.1 -.2l1.1 .1l1 .5l1.1 .3l1.1 -.1l1 .7l1.1 0l1.1 -.7l1.1 .8l1 .8l1.1 .3l1.1 -.5l1 .2l1.1 .7l1.1 .4l1 -.6l1.1 -.5l2.1 .6l2.2 -.7l2.1 -.1l2.1 1l2.2 .1l2.1 -.8l2.1 .4l2.2 .6l2.1 -.1l2.2 -.8l2.1 -.5l2.1 .5l2.2 -.3l2.1 -.9l2.1 .4l2.2 .7l2.1 -1l2.1 -1.9l2.2 -.5l2.1 .3l2.1 .1l2.2 .4l2.1 -.3l2.1 -.8l2.2 -.2l2.1 -.3l2.2 -.3l2.1 -.1l2.1 1l2.2 .6l2.1 -1.3l2.1 -.4l2.2 .4l2.1 .1l2.1 .2l2.2 .7l2.1 .8l2.1 .4l2.2 -.4l2.1 -.1l2.2 0l2.1 .7l2.1 .5l2.2 .4l2.1 -.2l2.1 -.2l2.2 .1l2.1 -.6l2.1 -1.1l2.2 -.6l2.1 1l2.1 .9l2.2 -.2l2.1 -.3l2.2 -.2l2.1 -.3l2.1 .5l2.2 1.3l2.1 1.2l2.1 .7l2.2 1.2l2.1 1.6l2.1 1.4l2.2 .7l2.1 1.7l2.1 1.7l2.2 .5l2.1 1.6l2.2 1.5l2.1 .3l2.1 .7l2.2 .5l2.1 .3l2.1 .2l2.2 1.4l2.1 .8l2.1 .4l2.2 .9l2.1 -.2l2.1 .6l2.2 .8l2.1 .5l2.1 .8l2.2 .1l2.1 -.2l2.2 -.2l2.1 0l2.1 .4l2.2 -.3l2.1 0l2.1 .2l2.2 .3l2.1 .2l2.1 -.2l2.2 -.3l2.1 .5l2.1 -.3l2.2 -.4l2.1 1.3l2.2 -.7l2.1 -.8l2.1 1.4l2.2 -.3l2.1 .8l2.1 -.3l2.2 -.4l2.1 1.7l2.1 -.1l2.2 -.6l2.1 -.2l2.1 -.2l2.2 .3l2.1 0l2.2 -.4l2.1 .9l2.1 -.2l2.2 -.5l2.1 .6l2.1 -.4l2.2 .5l2.1 .7l2.1 -1l2.2 -.1l2.1 .4l2.1 -.2l2.2 .4l2.1 0l2.2 .4l2.1 .1l2.1 0l2.2 .3l2.1 0l2.1 -.1l2.2 -.5l2.1 -.2" stroke="#94e02c" stroke-width="2.90" fill="none" stroke-linejoin="round" stroke-linecap="round" clip-path="url(#ca)"/>
<path d="M149.6 -353.5l1.1 53.5l1 53.5l1.1 53.5l1.1 53.5l1 53.5l1.1 56.7l1.1 57.6l1 36.4l1.1 19.9l1.1 14.5l1 12.4l1.1 11.2l1.1 9.6l1 8.9l1.1 9.1l1.1 9.3l1.1 9.2l1 8.6l1.1 8.2l1.1 7.7l1 7.3l1.1 6.9l1.1 6.5l1 6.6l1.1 6.1l1.1 5.3l1 3.8l1.1 2.9l1.1 2.8l1 3l1.1 3.2l1.1 2.8l1 1.9l1.1 1.1l1.1 .7l1 .3l1.1 .1l1.1 -.3l1 -.8l1.1 3.6l1.1 1.6l1 0l1.1 -1.9l1.1 -2.7l1.1 -2.8l1 -3.2l1.1 -3.3l1.1 -3.3l1 -3.2l1.1 -3.4l1.1 -3.4l1 -3l1.1 -2.4l1.1 -2.2l1 -1.9l1.1 -1.8l1.1 -1.6l1 -1.6l1.1 -1.4l1.1 -1.3l1 -1.1l1.1 -.9l1.1 -.7l1 -.7l1.1 -.3l1.1 .5l1 1.3l1.1 1.8l1.1 2.2l1 3.2l1.1 3.8l1.1 4.2l1 4.3l1.1 4.1l1.1 4.3l1.1 4.7l1 5.3l1.1 6.1l1.1 7.2l1 7.3l1.1 6.8l1.1 7l1 7.3l1.1 7.6l1.1 6.7l1 5.7l1.1 5.5l1.1 5l1 4.8l1.1 4.4l1.1 4l1 3.9l1.1 3.7l1.1 3.9l1 3.8l1.1 3.8l1.1 3.5l1 3.3l1.1 3.2l1.1 3.3l1 3.5l1.1 3.4l1.1 3.3l1.1 3.1l1 2.9l1.1 2.7l1.1 2.5l1 2.2l1.1 2l1.1 1.8l1 1.4l1.1 1.4l1.1 1.2l1 1l1.1 .9l1.1 .8l1 .7l1.1 .6l1.1 .7l1 .5l1.1 .6l1.1 .6l1 .6l1.1 .6l1.1 .6l1 .7l1.1 .7l1.1 .6l1 .6l1.1 .5l1.1 .4l1 .3l1.1 .2l1.1 0l1.1 .1l1 0l1.1 0l1.1 0l1 .1l1.1 0l1.1 0l1 0l1.1 .1l1.1 0l1 .1l1.1 .2l1.1 .3l1 .3l1.1 .4l1.1 .5l1 .5l1.1 .5l1.1 .5l1 .9l1.1 1.1l1.1 1.1l1 1.2l1.1 1l1.1 .9l1 .7l1.1 .6l1.1 .6l1.1 .5l1 .5l1.1 .4l1.1 .4l1 .3l1.1 .4l1.1 .3l1 .2l1.1 .3l1.1 .3l1 .4l1.1 .3l1.1 .5l1 .4l1.1 .6l1.1 .6l1 .7l1.1 .7l1.1 .8l1 .8l1.1 1l1.1 1l1 1.2l1.1 1.2l1.1 1.3l1 1.2l1.1 1.1l1.1 1.1l1 .9l1.1 .9l1.1 .8l1.1 .9l1 .8l1.1 .7l1.1 .8l1 .7l1.1 .6l1.1 .6l1 .5l1.1 .4l1.1 .5l1 .4l1.1 .5l1.1 .4l1 .3l1.1 .5l1.1 .4l1 0l1.1 .2l1.1 .5l1 .5l1.1 .2l1.1 .4l1 .6l1.1 .1l1.1 -.1l1 0l1.1 .4l1.1 .7l1.1 0l1 0l1.1 0l1.1 -.5l1 -.1l1.1 1l1.1 .7l1 .4l1.1 0l2.1 -.2l2.2 .6l2.1 0l2.1 -.7l2.2 -.5l2.1 .2l2.1 -.5l2.2 .1l2.1 .6l2.2 -.5l2.1 .2l2.1 -.1l2.2 -1.1l2.1 -.1l2.1 -.4l2.2 0l2.1 0l2.1 .1l2.2 -.1l2.1 -.9l2.1 -.7l2.2 -1.1l2.1 -.2l2.1 -.1l2.2 .1l2.1 0l2.2 0l2.1 .1l2.1 -.4l2.2 -.2l2.1 0l2.1 .4l2.2 .6l2.1 -.2l2.1 .2l2.2 1.6l2.1 0l2.1 -.8l2.2 0l2.1 -.2l2.2 .9l2.1 .8l2.1 -.3l2.2 .7l2.1 .7l2.1 -1.3l2.2 -.8l2.1 .3l2.1 -.5l2.2 -.2l2.1 -.2l2.1 .3l2.2 .2l2.1 -.5l2.2 .2l2.1 .4l2.1 .3l2.2 .5l2.1 1.4l2.1 1.3l2.2 .8l2.1 .8l2.1 1.2l2.2 1.1l2.1 1.5l2.1 1.8l2.2 .5l2.1 1.1l2.2 2.2l2.1 1.1l2.1 .3l2.2 1.3l2.1 1l2.1 -.3l2.2 .6l2.1 1.3l2.1 1.4l2.2 1l2.1 .1l2.1 -.5l2.2 -.1l2.1 .4l2.1 .4l2.2 -.1l2.1 .2l2.2 1.1l2.1 0l2.1 .1l2.2 -.2l2.1 -.6l2.1 .2l2.2 1.1l2.1 .7l2.1 -.5l2.2 .2l2.1 .1l2.1 .2l2.2 .4l2.1 -.7l2.2 .2l2.1 0l2.1 -.6l2.2 -.2l2.1 .5l2.1 .6l2.2 0l2.1 -.1l2.1 .7l2.2 .1l2.1 -.8l2.1 .7l2.2 .9l2.1 -.3l2.2 -1.1l2.1 -.3l2.1 1l2.2 .3l2.1 .4l2.1 -.5l2.2 -.2l2.1 .3l2.1 .3l2.2 .3l2.1 -.1l2.1 -.1l2.2 -.9l2.1 -.2l2.2 .4l2.1 .1l2.1 .7l2.2 1l2.1 -.3l2.1 -.9l2.2 -.2l2.1 .2" stroke="#e0d42a" stroke-width="2.90" fill="none" stroke-linejoin="round" stroke-linecap="round" clip-path="url(#ca)"/>
<path d="M149.6 -358.8l1.1 53.5l1 53.6l1.1 53.5l1.1 53.6l1 53.5l1.1 55.8l1.1 59.6l1 38.3l1.1 20.4l1.1 14.7l1 12.2l1.1 11l1.1 9.3l1 8.7l1.1 9l1.1 9.3l1.1 9.2l1 8.7l1.1 8.3l1.1 7.9l1 7.6l1.1 6.9l1.1 6.2l1 6.1l1.1 5.6l1.1 4.8l1 3.6l1.1 2.9l1.1 2.7l1 3l1.1 3.3l1.1 2.8l1 2l1.1 1.1l1.1 .7l1 .4l1.1 .1l1.1 -.3l1 -.8l1.1 3.6l1.1 1.7l1 .1l1.1 -1.8l1.1 -2.6l1.1 -2.8l1 -3.2l1.1 -3.3l1.1 -3.4l1 -3.3l1.1 -3.5l1.1 -3.4l1 -3.1l1.1 -2.4l1.1 -2.1l1 -1.9l1.1 -1.7l1.1 -1.5l1 -1.4l1.1 -1.3l1.1 -1.2l1 -1.1l1.1 -.7l1.1 -.6l1 -.5l1.1 -.3l1.1 .5l1 1.3l1.1 1.8l1.1 2.3l1 3.3l1.1 3.9l1.1 4.3l1 4.3l1.1 4.1l1.1 4.2l1.1 4.6l1 5.1l1.1 6l1.1 7l1 7.1l1.1 6.7l1.1 6.9l1 7.4l1.1 8.1l1.1 7.1l1 6.1l1.1 5.7l1.1 5.3l1 4.9l1.1 4.5l1.1 4.2l1 3.9l1.1 3.8l1.1 3.9l1 4l1.1 3.8l1.1 3.6l1 3.4l1.1 3.4l1.1 3.3l1 3.4l1.1 3.3l1.1 3.2l1.1 2.9l1 2.8l1.1 2.6l1.1 2.4l1 2.1l1.1 2l1.1 1.7l1 1.5l1.1 1.4l1.1 1.2l1 1l1.1 .9l1.1 .8l1 .7l1.1 .7l1.1 .6l1 .6l1.1 .5l1.1 .6l1 .6l1.1 .6l1.1 .6l1 .7l1.1 .6l1.1 .6l1 .6l1.1 .4l1.1 .4l1 .3l1.1 .2l1.1 0l1.1 .1l1 0l1.1 0l1.1 0l1 0l1.1 0l1.1 .1l1 0l1.1 0l1.1 0l1 .1l1.1 .2l1.1 .2l1 .4l1.1 .3l1.1 .4l1 .5l1.1 .5l1.1 .5l1 .9l1.1 1.1l1.1 1.2l1 1.2l1.1 1.1l1.1 .8l1 .7l1.1 .6l1.1 .6l1.1 .5l1 .5l1.1 .4l1.1 .4l1 .3l1.1 .3l1.1 .2l1 .3l1.1 .3l1.1 .2l1 .3l1.1 .4l1.1 .3l1 .5l1.1 .5l1.1 .6l1 .7l1.1 .7l1.1 .8l1 .9l1.1 .9l1.1 1.2l1 1.2l1.1 1.3l1.1 1.3l1 1.3l1.1 1.3l1.1 1.1l1 .9l1.1 1l1.1 .9l1.1 .8l1 .9l1.1 .8l1.1 .8l1 .7l1.1 .6l1.1 .6l1 .5l1.1 .5l1.1 .5l1 .4l1.1 .5l1.1 .4l1 .4l1.1 .3l1.1 .5l1 .6l1.1 .2l1.1 -.1l1 -.1l1.1 .3l1.1 .6l1 -.4l1.1 .4l1.1 1.1l1 -.1l1.1 -.2l1.1 .2l1.1 .6l1 0l1.1 -.2l1.1 1.5l1 .3l1.1 -.4l1.1 0l1 -.5l1.1 .2l2.1 .8l2.2 -.4l2.1 0l2.1 .8l2.2 .3l2.1 -1.2l2.1 -1l2.2 -.1l2.1 .6l2.2 .7l2.1 -.3l2.1 -.8l2.2 -1l2.1 .2l2.1 .3l2.2 -.7l2.1 -.3l2.1 .2l2.2 -.4l2.1 -1.1l2.1 -1.3l2.2 0l2.1 .5l2.1 -.3l2.2 -.6l2.1 -.5l2.2 .2l2.1 0l2.1 -.3l2.2 -.4l2.1 -.1l2.1 .7l2.2 .2l2.1 -.1l2.1 .6l2.2 1.3l2.1 .4l2.1 .4l2.2 .2l2.1 -.4l2.2 -.3l2.1 0l2.1 1.2l2.2 .3l2.1 -.4l2.1 -.2l2.2 -.6l2.1 -.6l2.1 -.2l2.2 .2l2.1 0l2.1 -.2l2.2 -.2l2.1 -.5l2.2 -.2l2.1 .2l2.1 1l2.2 .4l2.1 .4l2.1 3l2.2 1.5l2.1 0l2.1 1.5l2.2 2.2l2.1 1.3l2.1 1.1l2.2 1.5l2.1 .9l2.2 2.4l2.1 1.3l2.1 -.4l2.2 .7l2.1 1.2l2.1 1.2l2.2 .9l2.1 .7l2.1 -.1l2.2 .7l2.1 .9l2.1 .1l2.2 -.2l2.1 .2l2.1 .5l2.2 .4l2.1 -.1l2.2 .2l2.1 .7l2.1 -.3l2.2 -.2l2.1 .2l2.1 .7l2.2 -.5l2.1 -.4l2.1 .4l2.2 .1l2.1 1l2.1 0l2.2 -.2l2.1 0l2.2 .8l2.1 .8l2.1 -.2l2.2 -.8l2.1 -.8l2.1 1l2.2 .4l2.1 -.4l2.1 .3l2.2 -.3l2.1 .2l2.1 .6l2.2 -.1l2.1 -.1l2.2 0l2.1 .1l2.1 .2l2.2 .8l2.1 .1l2.1 -.2l2.2 -.1l2.1 -1.1l2.1 .1l2.2 1l2.1 -.2l2.1 0l2.2 -.5l2.1 -.1l2.2 .9l2.1 .8l2.1 -.5l2.2 -.9l2.1 .9l2.1 0l2.2 .3l2.1 .4" stroke="#dea828" stroke-width="2.90" fill="none" stroke-linejoin="round" stroke-linecap="round" clip-path="url(#ca)"/>
<path d="M149.6 -362.7l1.1 53.6l1 53.5l1.1 53.6l1.1 53.6l1 53.6l1.1 55.1l1.1 61l1 39.8l1.1 20.7l1.1 14.8l1 12.2l1.1 10.7l1.1 9.2l1 8.5l1.1 8.9l1.1 9.3l1.1 9.2l1 8.8l1.1 8.3l1.1 8.2l1 7.7l1.1 6.9l1.1 6.1l1 5.7l1.1 5.2l1.1 4.4l1 3.5l1.1 2.8l1.1 2.7l1 3l1.1 3.3l1.1 2.9l1 2.1l1.1 1l1.1 .7l1 .5l1.1 .2l1.1 -.3l1 -.9l1.1 3.7l1.1 1.6l1 .3l1.1 -1.7l1.1 -2.7l1.1 -2.7l1 -3.2l1.1 -3.4l1.1 -3.4l1 -3.3l1.1 -3.6l1.1 -3.5l1 -3l1.1 -2.5l1.1 -2l1 -1.9l1.1 -1.6l1.1 -1.5l1 -1.3l1.1 -1.2l1.1 -1.1l1 -1l1.1 -.6l1.1 -.5l1 -.5l1.1 -.2l1.1 .5l1 1.4l1.1 1.7l1.1 2.4l1 3.3l1.1 4l1.1 4.4l1 4.3l1.1 4l1.1 4.2l1.1 4.5l1 5l1.1 5.8l1.1 7l1 6.9l1.1 6.6l1.1 6.9l1 7.5l1.1 8.5l1.1 7.4l1 6.3l1.1 5.9l1.1 5.4l1 5.1l1.1 4.6l1.1 4.2l1 4l1.1 3.9l1.1 4l1 3.9l1.1 3.9l1.1 3.7l1 3.5l1.1 3.4l1.1 3.4l1 3.3l1.1 3.2l1.1 3.1l1.1 2.8l1 2.8l1.1 2.5l1.1 2.3l1 2l1.1 1.9l1.1 1.8l1 1.5l1.1 1.4l1.1 1.2l1 1.1l1.1 .9l1.1 .8l1 .7l1.1 .6l1.1 .7l1 .5l1.1 .6l1.1 .6l1 .5l1.1 .6l1.1 .6l1 .7l1.1 .6l1.1 .6l1 .5l1.1 .5l1.1 .4l1 .3l1.1 .1l1.1 0l1.1 .1l1 0l1.1 0l1.1 0l1 0l1.1 0l1.1 0l1 0l1.1 0l1.1 .1l1 0l1.1 .2l1.1 .2l1 .3l1.1 .4l1.1 .4l1 .4l1.1 .4l1.1 .6l1 .8l1.1 1.2l1.1 1.2l1 1.3l1.1 1.1l1.1 .8l1 .7l1.1 .6l1.1 .5l1.1 .6l1 .4l1.1 .4l1.1 .4l1 .3l1.1 .2l1.1 .3l1 .2l1.1 .3l1.1 .2l1 .3l1.1 .3l1.1 .4l1 .4l1.1 .5l1.1 .6l1 .7l1.1 .7l1.1 .8l1 .9l1.1 .9l1.1 1.2l1 1.3l1.1 1.3l1.1 1.4l1 1.4l1.1 1.3l1.1 1.2l1 1l1.1 .9l1.1 .9l1.1 1l1 .8l1.1 .9l1.1 .7l1 .8l1.1 .7l1.1 .6l1 .5l1.1 .5l1.1 .5l1 .4l1.1 .5l1.1 .4l1 .4l1.1 .4l1.1 .3l1 .5l1.1 .5l1.1 .4l1 .3l1.1 0l1.1 -.1l1 .4l1.1 .2l1.1 0l1 .9l1.1 .4l1.1 -.8l1.1 .4l1 1.3l1.1 .1l1.1 -.1l1 0l1.1 -.5l1.1 0l1 .3l1.1 1.1l2.1 -.2l2.2 -.1l2.1 .1l2.1 -.8l2.2 .7l2.1 .2l2.1 -.4l2.2 -1l2.1 -.2l2.2 .1l2.1 .6l2.1 .1l2.2 -1.2l2.1 -.6l2.1 -.5l2.2 -.3l2.1 .2l2.1 0l2.2 -.6l2.1 -.6l2.1 -.9l2.2 .4l2.1 -.5l2.1 -1.6l2.2 .2l2.1 -.1l2.2 -.6l2.1 .5l2.1 -.2l2.2 0l2.1 .2l2.1 .5l2.2 1.2l2.1 -.4l2.1 -.2l2.2 .2l2.1 .4l2.1 1.1l2.2 -.4l2.1 .2l2.2 .3l2.1 -.5l2.1 -.2l2.2 1.1l2.1 .5l2.1 -1l2.2 -.6l2.1 0l2.1 -.9l2.2 -.5l2.1 1.5l2.1 -.2l2.2 -1l2.1 .4l2.2 -.4l2.1 0l2.1 1.3l2.2 .8l2.1 .7l2.1 1.1l2.2 1.6l2.1 1.6l2.1 1.8l2.2 1.6l2.1 .7l2.1 .2l2.2 1.8l2.1 2.6l2.2 .6l2.1 .1l2.1 1l2.2 2.1l2.1 1l2.1 .3l2.2 1.3l2.1 1.5l2.1 .7l2.2 .1l2.1 .2l2.1 1.1l2.2 1l2.1 -.4l2.1 -.8l2.2 -.1l2.1 1l2.2 .2l2.1 .2l2.1 .6l2.2 -.1l2.1 .2l2.1 .2l2.2 -.5l2.1 -.2l2.1 1.3l2.2 -.2l2.1 -1l2.1 .9l2.2 .2l2.1 -.6l2.2 -.4l2.1 .6l2.1 1l2.2 .5l2.1 -.3l2.1 -.1l2.2 -.3l2.1 -.3l2.1 .2l2.2 .1l2.1 .6l2.1 .5l2.2 -.6l2.1 .1l2.2 .3l2.1 -.8l2.1 .2l2.2 -.2l2.1 .2l2.1 .7l2.2 0l2.1 .2l2.1 0l2.2 -.2l2.1 -.4l2.1 .1l2.2 .3l2.1 -.2l2.2 .4l2.1 .3l2.1 -.6l2.2 -.7l2.1 .6l2.1 .8l2.2 .3l2.1 .2" stroke="#ec7c22" stroke-width="2.90" fill="none" stroke-linejoin="round" stroke-linecap="round" clip-path="url(#ca)"/>
<path d="M149.6 -367.8l1.1 53.7l1 53.6l1.1 53.6l1.1 53.6l1 53.7l1.1 54.3l1.1 62.9l1 41.5l1.1 21.1l1.1 14.9l1 12.2l1.1 10.5l1.1 8.9l1 8.3l1.1 8.8l1.1 9.3l1.1 9.2l1 8.9l1.1 8.5l1.1 8.3l1 7.9l1.1 7l1.1 5.8l1 5.3l1.1 4.6l1.1 4l1 3.3l1.1 2.8l1.1 2.7l1 3l1.1 3.3l1.1 3l1 2.1l1.1 1l1.1 .7l1 .5l1.1 .3l1.1 -.3l1 -.9l1.1 3.7l1.1 1.7l1 .3l1.1 -1.6l1.1 -2.6l1.1 -2.7l1 -3.1l1.1 -3.5l1.1 -3.4l1 -3.4l1.1 -3.7l1.1 -3.5l1 -3.2l1.1 -2.4l1.1 -2l1 -1.7l1.1 -1.6l1.1 -1.4l1 -1.2l1.1 -1.1l1.1 -1l1 -.8l1.1 -.6l1.1 -.4l1 -.3l1.1 -.2l1.1 .5l1 1.4l1.1 1.8l1.1 2.3l1 3.5l1.1 4.1l1.1 4.4l1 4.3l1.1 4.1l1.1 4.1l1.1 4.4l1 4.8l1.1 5.7l1.1 6.8l1 6.8l1.1 6.5l1.1 6.8l1 7.6l1.1 8.9l1.1 7.8l1 6.7l1.1 6.1l1.1 5.7l1 5.2l1.1 4.7l1.1 4.3l1 4l1.1 4l1.1 4l1 4.1l1.1 4l1.1 3.8l1 3.6l1.1 3.5l1.1 3.4l1 3.2l1.1 3.1l1.1 2.9l1.1 2.8l1 2.6l1.1 2.4l1.1 2.2l1 2l1.1 1.8l1.1 1.7l1 1.6l1.1 1.4l1.1 1.3l1 1l1.1 .9l1.1 .8l1 .8l1.1 .6l1.1 .7l1 .5l1.1 .6l1.1 .5l1 .6l1.1 .5l1.1 .6l1 .7l1.1 .6l1.1 .5l1 .5l1.1 .5l1.1 .4l1 .2l1.1 .2l1.1 0l1.1 0l1 0l1.1 0l1.1 0l1 0l1.1 0l1.1 0l1 0l1.1 0l1.1 .1l1 0l1.1 .1l1.1 .2l1 .3l1.1 .3l1.1 .4l1 .4l1.1 .4l1.1 .5l1 .9l1.1 1.2l1.1 1.3l1 1.2l1.1 1.2l1.1 .8l1 .6l1.1 .7l1.1 .5l1.1 .5l1 .5l1.1 .4l1.1 .3l1 .3l1.1 .2l1.1 .3l1 .2l1.1 .2l1.1 .2l1 .2l1.1 .3l1.1 .3l1 .4l1.1 .5l1.1 .6l1 .7l1.1 .7l1.1 .8l1 .9l1.1 1l1.1 1.2l1 1.3l1.1 1.5l1.1 1.5l1 1.4l1.1 1.4l1.1 1.2l1 1l1.1 1.1l1.1 .9l1.1 1l1 .9l1.1 .9l1.1 .8l1 .7l1.1 .7l1.1 .7l1 .5l1.1 .5l1.1 .5l1 .5l1.1 .4l1.1 .4l1 .2l1.1 .3l1.1 .4l1 .1l1.1 .7l1.1 .7l1 -.2l1.1 .3l1.1 .8l1 -.2l1.1 .3l1.1 0l1 -.5l1.1 .2l1.1 .2l1.1 1.2l1 .1l1.1 -.6l1.1 .3l1 .7l1.1 .5l1.1 .4l1 -.1l1.1 -.7l2.1 .3l2.2 .5l2.1 -.1l2.1 0l2.2 1l2.1 -.5l2.1 -.9l2.2 .6l2.1 -.5l2.2 -1l2.1 -.5l2.1 .3l2.2 .3l2.1 -.4l2.1 -.5l2.2 .3l2.1 -.1l2.1 -1.5l2.2 -.8l2.1 0l2.1 -.1l2.2 -.6l2.1 -.9l2.1 -.5l2.2 -.8l2.1 -.2l2.2 .2l2.1 -.1l2.1 -.3l2.2 -.3l2.1 .2l2.1 0l2.2 1.1l2.1 .6l2.1 .3l2.2 .1l2.1 .2l2.1 0l2.2 .1l2.1 .8l2.2 .6l2.1 .4l2.1 -.2l2.2 .2l2.1 -.1l2.1 -.5l2.2 -.1l2.1 -.7l2.1 -.7l2.2 0l2.1 -.2l2.1 -.1l2.2 .5l2.1 .2l2.2 -.6l2.1 -.7l2.1 .7l2.2 1.3l2.1 1.4l2.1 1.2l2.2 1.1l2.1 2l2.1 1.3l2.2 1l2.1 2.3l2.1 2.2l2.2 1.1l2.1 .9l2.2 .7l2.1 1.4l2.1 1.5l2.2 .9l2.1 .7l2.1 .8l2.2 1.1l2.1 1l2.1 1.4l2.2 .7l2.1 -.7l2.1 -.1l2.2 .4l2.1 .3l2.1 1.1l2.2 .6l2.1 -.3l2.2 .2l2.1 0l2.1 -.5l2.2 -.1l2.1 .3l2.1 1.2l2.2 0l2.1 0l2.1 1.1l2.2 -.4l2.1 -.5l2.1 -.1l2.2 .1l2.1 .6l2.2 .1l2.1 .2l2.1 .6l2.2 -.2l2.1 -.2l2.1 -.1l2.2 .1l2.1 -.3l2.1 .1l2.2 .6l2.1 -.5l2.1 .9l2.2 0l2.1 -1.1l2.2 .6l2.1 -.4l2.1 -.3l2.2 .2l2.1 0l2.1 .6l2.2 .6l2.1 .5l2.1 .3l2.2 0l2.1 0l2.1 -.6l2.2 .3l2.1 0l2.2 -.6l2.1 .8l2.1 .6l2.2 -.5l2.1 0l2.1 .3l2.2 -.8l2.1 -.4" stroke="#f02c2c" stroke-width="2.90" fill="none" stroke-linejoin="round" stroke-linecap="round" clip-path="url(#ca)"/>
<path d="M149.6 -371.7l1.1 53.7l1 53.6l1.1 53.7l1.1 53.6l1 53.7l1.1 53.6l1.1 64.4l1 43l1.1 21.4l1.1 15.1l1 12l1.1 10.4l1.1 8.7l1 8.1l1.1 8.7l1.1 9.3l1.1 9.3l1 8.9l1.1 8.6l1.1 8.5l1 8l1.1 7l1.1 5.7l1 4.9l1.1 4.2l1.1 3.6l1 3.2l1.1 2.7l1.1 2.7l1 3l1.1 3.3l1.1 3.1l1 2.2l1.1 .9l1.1 .8l1 .5l1.1 .3l1.1 -.3l1 -.9l1.1 3.7l1.1 1.7l1 .5l1.1 -1.5l1.1 -2.7l1.1 -2.6l1 -3.1l1.1 -3.5l1.1 -3.5l1 -3.4l1.1 -3.8l1.1 -3.6l1 -3.1l1.1 -2.4l1.1 -2l1 -1.7l1.1 -1.5l1.1 -1.3l1 -1.2l1.1 -1l1.1 -.9l1 -.8l1.1 -.4l1.1 -.3l1 -.2l1.1 -.1l1.1 .4l1 1.4l1.1 1.8l1.1 2.4l1 3.5l1.1 4.2l1.1 4.5l1 4.3l1.1 4.1l1.1 4l1.1 4.3l1 4.7l1.1 5.6l1.1 6.7l1 6.6l1.1 6.4l1.1 6.8l1 7.7l1.1 9.2l1.1 8.2l1 6.9l1.1 6.3l1.1 5.8l1 5.3l1.1 4.9l1.1 4.3l1 4.1l1.1 4l1.1 4.1l1 4.2l1.1 4l1.1 3.9l1 3.7l1.1 3.6l1.1 3.4l1 3.2l1.1 2.9l1.1 2.9l1.1 2.7l1 2.5l1.1 2.3l1.1 2.1l1 1.9l1.1 1.8l1.1 1.7l1 1.6l1.1 1.4l1.1 1.3l1 1.1l1.1 .9l1.1 .8l1 .7l1.1 .7l1.1 .6l1 .6l1.1 .5l1.1 .6l1 .5l1.1 .6l1.1 .6l1 .6l1.1 .5l1.1 .6l1 .5l1.1 .4l1.1 .4l1 .2l1.1 .2l1.1 0l1.1 0l1 0l1.1 0l1.1 0l1 0l1.1 0l1.1 0l1 0l1.1 0l1.1 0l1 0l1.1 .1l1.1 .2l1 .3l1.1 .3l1.1 .3l1 .3l1.1 .4l1.1 .6l1 .9l1.1 1.2l1.1 1.3l1 1.3l1.1 1.1l1.1 .8l1 .7l1.1 .6l1.1 .6l1.1 .5l1 .4l1.1 .4l1.1 .3l1 .3l1.1 .2l1.1 .2l1 .2l1.1 .2l1.1 .2l1 .2l1.1 .2l1.1 .3l1 .4l1.1 .5l1.1 .5l1 .7l1.1 .8l1.1 .8l1 .8l1.1 1.1l1.1 1.2l1 1.4l1.1 1.5l1.1 1.6l1 1.5l1.1 1.4l1.1 1.3l1 1.1l1.1 1l1.1 1l1.1 1l1 .9l1.1 .9l1.1 .9l1 .7l1.1 .8l1.1 .6l1 .6l1.1 .5l1.1 .5l1 .5l1.1 .4l1.1 .5l1 .3l1.1 .3l1.1 .5l1 .4l1.1 .2l1.1 0l1 .5l1.1 .8l1.1 .1l1 .5l1.1 0l1.1 -.2l1 .6l1.1 .5l1.1 -.2l1.1 .1l1 .1l1.1 .5l1.1 .7l1 -.1l1.1 .6l1.1 -.5l1 -.7l1.1 1.4l2.1 .1l2.2 -1.2l2.1 .7l2.1 .7l2.2 -1.1l2.1 0l2.1 -.1l2.2 -1.1l2.1 .2l2.2 0l2.1 -.6l2.1 -.2l2.2 -.3l2.1 -.1l2.1 .1l2.2 0l2.1 -.6l2.1 -1.3l2.2 -.9l2.1 -.1l2.1 .6l2.2 0l2.1 -1.2l2.1 -.4l2.2 -.6l2.1 -.3l2.2 -.1l2.1 -.3l2.1 .2l2.2 -.4l2.1 .1l2.1 0l2.2 .3l2.1 1.2l2.1 2.1l2.2 .2l2.1 -1.3l2.1 -.3l2.2 .7l2.1 0l2.2 -.5l2.1 1l2.1 -.1l2.2 .3l2.1 .7l2.1 -1.2l2.2 -1.1l2.1 -.7l2.1 -.7l2.2 .5l2.1 .7l2.1 -.2l2.2 -.2l2.1 -.4l2.2 0l2.1 -.2l2.1 .5l2.2 2l2.1 1.4l2.1 .6l2.2 1l2.1 2.3l2.1 2.3l2.2 .3l2.1 .6l2.1 2.2l2.2 2.3l2.1 1.1l2.2 1.1l2.1 1.5l2.1 1.9l2.2 1.3l2.1 0l2.1 .7l2.2 1.4l2.1 1.3l2.1 0l2.2 .5l2.1 .4l2.1 .1l2.2 .3l2.1 .1l2.1 .5l2.2 .3l2.1 .7l2.2 .8l2.1 -.1l2.1 -.6l2.2 .5l2.1 -.2l2.1 -1l2.2 1.2l2.1 1.1l2.1 .2l2.2 -.2l2.1 -.8l2.1 0l2.2 .8l2.1 -.1l2.2 -.4l2.1 -.1l2.1 -.1l2.2 1l2.1 .7l2.1 -.7l2.2 -.5l2.1 .3l2.1 .7l2.2 -.1l2.1 -.2l2.1 -.3l2.2 -.4l2.1 1.1l2.2 .9l2.1 -.5l2.1 -.6l2.2 .8l2.1 .2l2.1 -.4l2.2 .4l2.1 .3l2.1 .3l2.2 .3l2.1 -.6l2.1 -.3l2.2 .2l2.1 -.4l2.2 -.4l2.1 1l2.1 -.2l2.2 0l2.1 .8l2.1 -.5l2.2 .2l2.1 .2" stroke="#e8007c" stroke-width="2.90" fill="none" stroke-linejoin="round" stroke-linecap="round" clip-path="url(#ca)"/>
<path d="M149.6 -321.2l1.1 90.5l1 90.5l1.1 90.4l1.1 96.9l1 38.9l1.1 45.7l1.1 28l1 20l1.1 19.3l1.1 15.3l1 12.8l1.1 12.1l1.1 12.3l1 9.5l1.1 7l1.1 5.6l1.1 3.3l1 2.3l1.1 1.9l1.1 1.3l1 .8l1.1 -.1l1.1 -.7l1 -1.1l1.1 -1.5l1.1 -1.6l1 -2.8l1.1 -3.7l1.1 -4l1 -3.8l1.1 -4l1.1 -4.1l1 -4l1.1 -3.8l1.1 -3.9l1 -4.4l1.1 -5.1l1.1 -5.5l1 -5.1l1.1 -4.2l1.1 -10.1l1 -1.9l1.1 -2.4l1.1 -5.5l1.1 -7l1 -7.3l1.1 -8.5l1.1 -8.7l1 -7.7l1.1 -5.8l1.1 -4.5l1 -3.9l1.1 -3.3l1.1 -2.6l1 -2.1l1.1 -2l1.1 -1.4l1 -.5l1.1 .5l1.1 1.1l1 1.2l1.1 1.8l1.1 2.2l1 2.4l1.1 2.4l1.1 2l1 1.7l1.1 1.5l1.1 1.4l1 1.6l1.1 1.6l1.1 2l1 2l1.1 2.3l1.1 3.1l1.1 5.1l1 8.2l1.1 9.5l1.1 11.5l1 12.5l1.1 13.6l1.1 11.7l1 11l1.1 12.3l1.1 15.2l1 15.2l1.1 12.2l1.1 10.7l1 9.2l1.1 8.1l1.1 7.5l1 6.4l1.1 4.8l1.1 4.2l1 3.4l1.1 2.2l1.1 1l1 .7l1.1 .3l1.1 0l1 -.4l1.1 -.6l1.1 -.9l1.1 -1.1l1 -1.5l1.1 -1.6l1.1 -2.2l1 -2.9l1.1 -3.5l1.1 -3.9l1 -3.9l1.1 -3.7l1.1 -3.4l1 -3.5l1.1 -3.5l1.1 -3.5l1 -3.4l1.1 -3.3l1.1 -3.1l1 -3l1.1 -3l1.1 -2.2l1 -1.2l1.1 -1l1.1 -.7l1 -.7l1.1 -.6l1.1 -.4l1 -.4l1.1 -.6l1.1 -.8l1 -2l1.1 -3l1.1 -3.7l1.1 -4.2l1 -4.3l1.1 -4l1.1 -3.7l1 -4.2l1.1 -4.3l1.1 -4.3l1 -4l1.1 -3.3l1.1 -2.4l1 -1.8l1.1 -1.8l1.1 -1.4l1 -1l1.1 -.4l1.1 .8l1 2.1l1.1 2.7l1.1 3.5l1 5.8l1.1 7l1.1 6.8l1 5.4l1.1 3.9l1.1 3.8l1 3.7l1.1 3.1l1.1 2.5l1.1 1.6l1 .5l1.1 -.4l1.1 -.8l1 -1.2l1.1 -1.1l1.1 -.9l1 -.8l1.1 -.8l1.1 -.9l1 -.7l1.1 -.5l1.1 -.3l1 .1l1.1 1.2l1.1 2l1 2.8l1.1 3.4l1.1 5.1l1 10l1.1 11l1.1 9.7l1 10l1.1 10l1.1 9.8l1 9.1l1.1 8.5l1.1 8.1l1 7.8l1.1 7.4l1.1 7l1.1 6.6l1 6.5l1.1 6.4l1.1 5.8l1 5.1l1.1 4l1.1 3.4l1 3.2l1.1 2.9l1.1 2.4l1 1.9l1.1 1.4l1.1 .7l1 .5l1.1 .6l1.1 .7l1 .3l1.1 .7l1.1 .3l1 .3l1.1 .3l1.1 -.2l1 .2l1.1 .2l1.1 .3l1 .6l1.1 -.2l1.1 -.1l1.1 .3l1 -.3l1.1 .2l1.1 .1l1 -.1l1.1 -.2l1.1 -.1l1 .5l1.1 -.2l2.1 -.2l2.2 .2l2.1 .5l2.1 0l2.2 .1l2.1 .9l2.1 0l2.2 -1l2.1 0l2.2 1.1l2.1 -.1l2.1 .1l2.2 .4l2.1 -.1l2.1 -.2l2.2 -.2l2.1 0l2.1 .3l2.2 .4l2.1 .2l2.1 -.2l2.2 0l2.1 .3l2.1 -.5l2.2 -.3l2.1 .4l2.2 .3l2.1 .3l2.1 0l2.2 -.1l2.1 .4l2.1 .6l2.2 -.8l2.1 0l2.1 .3l2.2 .7l2.1 .4l2.1 -.7l2.2 .4l2.1 .1l2.2 .1l2.1 .8l2.1 .2l2.2 -.1l2.1 .4l2.1 -.5l2.2 .3l2.1 .8l2.1 -.2l2.2 -.4l2.1 .1l2.1 .6l2.2 -.3l2.1 .8l2.2 .5l2.1 -.8l2.1 0l2.2 .6l2.1 .4l2.1 .1l2.2 .1l2.1 .5l2.1 -.8l2.2 -.5l2.1 .2l2.1 .3l2.2 1l2.1 .3l2.2 -.7l2.1 -.2l2.1 .8l2.2 .1l2.1 -.3l2.1 .4l2.2 -.5l2.1 .3l2.1 .9l2.2 0l2.1 -.3l2.1 -.4l2.2 .3l2.1 .4l2.1 .4l2.2 0l2.1 .8l2.2 .5l2.1 -.8l2.1 -.6l2.2 1l2.1 .2l2.1 0l2.2 .8l2.1 -.6l2.1 -.5l2.2 .3l2.1 -.1l2.1 -.3l2.2 .3l2.1 .7l2.2 .1l2.1 -.3l2.1 .1l2.2 -.3l2.1 .8l2.1 -.2l2.2 -.7l2.1 1.1l2.1 -.2l2.2 .2l2.1 1l2.1 -.4l2.2 -.3l2.1 0l2.2 .2l2.1 .5l2.1 0l2.2 .5l2.1 .2l2.1 .1l2.2 .1l2.1 -.8l2.1 -.1l2.2 .7l2.1 -.5l2.1 .4l2.2 .6l2.1 -.3l2.2 -.2l2.1 0l2.1 .5l2.2 -.1l2.1 0l2.1 -.6l2.2 .6l2.1 .4" stroke="#000" stroke-width="3.40" fill="none" stroke-linejoin="round" stroke-linecap="round" clip-path="url(#ca)"/>
<rect x="149.6" y="56.8" width="533.9" height="429.9" fill="none" stroke="#000" stroke-width="2.3"/>
<path d="M149.6 486.7v8.2M256.4 486.7v8.2M256.4 56.8v7.5M363.2 486.7v8.2M363.2 56.8v7.5M469.9 486.7v8.2M469.9 56.8v7.5M576.7 486.7v8.2M576.7 56.8v7.5M683.5 486.7v8.2M203.0 486.7v4.3M203.0 56.8v4M309.8 486.7v4.3M309.8 56.8v4M416.5 486.7v4.3M416.5 56.8v4M523.3 486.7v4.3M523.3 56.8v4M630.1 486.7v4.3M630.1 56.8v4M149.6 482.5h-8.3M683.5 482.5h-7.5M149.6 397.3h-8.3M683.5 397.3h-7.5M149.6 312.2h-8.3M683.5 312.2h-7.5M149.6 227.0h-8.3M683.5 227.0h-7.5M149.6 141.9h-8.3M683.5 141.9h-7.5M149.6 56.7h-8.3M149.6 439.9h-4.5M683.5 439.9h-4M149.6 354.8h-4.5M683.5 354.8h-4M149.6 269.6h-4.5M683.5 269.6h-4M149.6 184.4h-4.5M683.5 184.4h-4M149.6 99.3h-4.5M683.5 99.3h-4" stroke="#000" stroke-width="2.1" fill="none"/>
<g transform="translate(135.60 491.50) scale(1.0000 1.040)"><text x="-55.66" y="0" font-size="28.60">0.00</text></g>
<g transform="translate(135.60 406.34) scale(1.0000 1.040)"><text x="-55.66" y="0" font-size="28.60">0.02</text></g>
<g transform="translate(135.60 321.18) scale(1.0000 1.040)"><text x="-55.66" y="0" font-size="28.60">0.04</text></g>
<g transform="translate(135.60 236.02) scale(1.0000 1.040)"><text x="-55.66" y="0" font-size="28.60">0.06</text></g>
<g transform="translate(135.60 150.86) scale(1.0000 1.040)"><text x="-55.66" y="0" font-size="28.60">0.08</text></g>
<g transform="translate(135.60 65.70) scale(1.0000 1.040)"><text x="-55.66" y="0" font-size="28.60">0. 0</text><path transform="translate(-31.81 0) scale(0.01396 -0.01396)" stroke="#000" stroke-width="25.06" d="M763 0H583V1098Q518 1038 412 979Q307 920 223 891V1058Q374 1126 487 1222Q600 1319 647 1409H763Z"/></g>
<g transform="translate(149.60 522.90) scale(1.0000 1.040)"><text x="-23.86" y="0" font-size="28.60">300</text></g>
<g transform="translate(256.38 522.90) scale(1.0000 1.040)"><text x="-23.86" y="0" font-size="28.60">400</text></g>
<g transform="translate(363.16 522.90) scale(1.0000 1.040)"><text x="-23.86" y="0" font-size="28.60">500</text></g>
<g transform="translate(469.94 522.90) scale(1.0000 1.040)"><text x="-23.86" y="0" font-size="28.60">600</text></g>
<g transform="translate(576.72 522.90) scale(1.0000 1.040)"><text x="-23.86" y="0" font-size="28.60">700</text></g>
<g transform="translate(683.50 522.90) scale(1.0000 1.040)"><text x="-23.86" y="0" font-size="28.60">800</text></g>
<g transform="translate(416.20 576.50) scale(0.9850 1.040)"><text x="-140.85" y="0" font-size="37.00">Wavelength (nm)</text></g>
<g transform="translate(52.60 262.35) rotate(-90) scale(0.9850 1.040)"><text x="-98.73" y="0" font-size="37.00">Absorbance</text></g>
<path d="M332.6 170.5l1 0l1 0l1 0l1 0l1 0l1 0l1 0l1 0l1 0l1 0l1 0l1 0l1 0l1 0l1 0l1 0l1 0l1 0l1 0l1 0l1 0l1 0l1 0l1 0l1 0l1 0l1 0l1 0l1 0l1 0l1 0l1 0l1 0l1 0l1 0l1 0l1 0l.9 0l1 0l1 0l1 0l1 0l1 0l1 0l1 0l1 0l1 0l1 0l1 0l1 0l1 0l1 0l1 0l1 0l1 0l1 0l1 0l1 0l1 0l1 0l1 0l1 0l1 0l1 0l1 0l1 0l1 0l1 0l1 0l1 0l1 0l1 0l1 0l1 0l1 0l1 0l1 0l1 0l1 0l1 0l1 0l1 0l1 0l1 0l1 0l1 0l1 0l1 0l1 0l1 0l1 0l1 0l1 0l1 0l1 0l1 0l1 0l1 0l1 0l1 0l1 0l1 0l1 0l1 0l1 0l1 0l1 0l1 0l1 0l1 0l1 0l1 0l.9 0l1 0l1 0l1 0l1 0l1 0l1 0l1 0l1 0l1 0l1 0l1 0l1 0l1 0l1 0l1 0l1 0l1 0l1 0l1 0l1 0l1 0l1 0l1 0l1 0l1 0l1 0l1 0l1 0l1 0l1 0l1 0l1 0l1 0l1 0l1 0l1 0l1 0l1 0l1 0l1 0l1 0l1 0l1 0l1 0l1 0l1 0l1 0l1 0l1 0l1 0l1 0l1 0l1 0l1 0l1 0l1 0l1 0l1 0l1 0l1 0l1 0l1 0l1 0l1 0l1 0l1 0l1 0l1 0l1 0l1 0l1 0l1 0l1 0l1 0l.9 0l1 0l1 0l1 0l1 0l1 0l1 0l1 0l1 0l1 0l1 0l1 0l1 0l1 0l1 0l1 0l1 0l1 0l1 0l1 0l1 0l1 0l1 0l1 0l1 0l1 0l1 0l1 0l1 0l1 0l1 0l1 0l1 0l1 0l1 0l1 0l1 0l1 0l1 0l1 0l1 0l1 0l1 0l1 0l1 0l1 0l1 0l1 0l1 0l1 0l1 0l1 0l1 0l1 0l1 0l1 0l1 0l1 0l1 0l1 0l1 0l1 0l1 0l1 0l1 0l1 0l1 0l1 0l1 0l1 0l1 0l1 0l1 0l1 0l1 0l.9 0l1 0l1 0l1 0l1 0l1 0l1 0l1 0l1 0l1 0l1 0l1 0l1 0l1 0l1 0l1 0l1 0l1 0l1 0l1 0l1 0l1 0l1 0l1 0l1 0l1 0l1 0l1 0l1 0l1 0l1 0l1 0l1 0l1 0l1 0l1 0l1 0l1 0" stroke="#9100c4" stroke-width="2.3" fill="none" stroke-linejoin="round"/>
<path d="M332.6 177.1l1 -1.2l1 .8l1 1l1 -.5l1 -.6l1 -.4l1 1.4l1 1l1 -.6l1 -1.7l1 -1.5l1 -.3l1 -.4l1 1.1l1 -2.2l1 -2l1 .1l1 -.7l1 .1l1 .1l1 -.9l1 .7l1 1.5l1 -1.5l1 -1.2l1 .9l1 .1l1 -.9l1 .7l1 1.2l1 -.4l1 -1.2l1 .9l1 1.5l1 -2.3l1 -1.9l1 1.2l.9 -.8l1 -.9l1 .5l1 -1.1l1 -.4l1 -1l1 -.4l1 -.5l1 2.4l1 3.1l1 -1l1 -1.1l1 -.2l1 .9l1 0l1 -.3l1 -1.7l1 -.4l1 .4l1 -1.4l1 -.5l1 1.4l1 1.9l1 -1.5l1 .6l1 2.5l1 -1.9l1 -1.7l1 .2l1 1.3l1 -.3l1 -1.9l1 .6l1 -.9l1 -.2l1 2.7l1 .1l1 -.4l1 .1l1 0l1 -.3l1 -1.4l1 -.2l1 .7l1 1.4l1 1.6l1 -.6l1 -1.9l1 -.9l1 .6l1 2l1 .6l1 -1.2l1 -.9l1 .8l1 1l1 -.7l1 -.1l1 1.6l1 -.2l1 0l1 1.3l1 -1.4l1 -.3l1 -.1l1 -1.5l1 -.1l1 0l1 .7l1 .8l1 .1l1 .7l1 -3.2l1 -.4l1 1.2l.9 0l1 .8l1 0l1 2l1 -1.5l1 -1l1 1.4l1 -1.8l1 .7l1 1.7l1 -1l1 -.6l1 3.3l1 .4l1 -4.4l1 -.5l1 1.3l1 .4l1 .3l1 -.6l1 .5l1 .5l1 -1.7l1 -.3l1 .8l1 1.5l1 .7l1 -1l1 -.5l1 .5l1 1.8l1 -.8l1 -1.4l1 1.2l1 -1.2l1 -.5l1 .9l1 -.6l1 .4l1 1.3l1 .5l1 -1.1l1 -.9l1 2.2l1 -1.1l1 -1.9l1 1.7l1 -.1l1 -.2l1 0l1 0l1 1l1 -.9l1 -1l1 .1l1 -.6l1 0l1 -.7l1 .6l1 2.5l1 .7l1 -.4l1 -2.5l1 .2l1 .2l1 -1.4l1 2.2l1 -.9l1 -.9l1 1.1l1 -.9l1 -1l1 .4l1 .4l1 .5l.9 1.4l1 -2.1l1 -1.6l1 1l1 -.6l1 -.7l1 1.2l1 .8l1 -1.5l1 -.3l1 2l1 -.6l1 -1.2l1 2.5l1 2l1 -2.9l1 -2.3l1 1.8l1 .2l1 -.6l1 .7l1 .8l1 -1.9l1 -2.4l1 1.1l1 2.9l1 .9l1 -2.4l1 .5l1 2.1l1 -.7l1 -.9l1 .5l1 1.4l1 -.3l1 -.6l1 -.2l1 -.9l1 -.7l1 .5l1 .5l1 -.4l1 1.1l1 .6l1 -.1l1 -1.8l1 -.3l1 .9l1 -1.3l1 -.2l1 1.8l1 1.5l1 -1.8l1 -1.7l1 .7l1 .6l1 1.4l1 -.8l1 -3.1l1 1.2l1 1.6l1 .4l1 .7l1 1.8l1 -.9l1 -2.2l1 -1.2l1 .8l1 2.4l1 -.3l1 .4l1 .4l1 .4l1 .3l1 -2.1l.9 -.8l1 -.3l1 -.9l1 1.8l1 2.5l1 1.7l1 -.6l1 -1.8l1 -.7l1 1.4l1 1.6l1 -1.2l1 .5l1 1.3l1 -1.9l1 .4l1 2.1l1 -.7l1 -.2l1 2.2l1 2l1 .4l1 -2l1 -1.9l1 2.1l1 -.1l1 -1.1l1 -.2l1 2.6l1 2.9l1 -.9l1 -.4l1 -.4l1 -.1l1 1.2l1 .1l1 1l1 .5" stroke="#5f00d2" stroke-width="2.3" fill="none" stroke-linejoin="round"/>
<path d="M332.6 180.7l1 .6l1 .1l1 -1.2l1 -.7l1 -3l1 .3l1 .3l1 -.1l1 -.7l1 -3.1l1 1.1l1 1.6l1 -.7l1 -2l1 .2l1 -.7l1 -1.7l1 .1l1 -.4l1 1l1 -.7l1 -.7l1 .8l1 -2.3l1 -2l1 .8l1 .2l1 .3l1 -1.5l1 0l1 2l1 -1.1l1 -2.3l1 -.2l1 .4l1 .1l1 .1l.9 -.2l1 -.7l1 .3l1 -2l1 -2.4l1 2.2l1 -.7l1 0l1 .1l1 -.7l1 .2l1 -.5l1 1l1 .3l1 -.4l1 2l1 .4l1 -2.8l1 .9l1 1.6l1 .3l1 .9l1 -1.9l1 -.6l1 1.8l1 -.9l1 -.8l1 -2.7l1 -.7l1 4.1l1 -1.1l1 -2.1l1 1.7l1 .9l1 1.1l1 -2.2l1 -1.6l1 2.2l1 -1.3l1 -.8l1 2.9l1 1.2l1 -1.1l1 -3.3l1 -.5l1 2.9l1 .1l1 0l1 3.3l1 .1l1 -3.4l1 .6l1 .7l1 -.3l1 .3l1 1.1l1 .4l1 -1.6l1 -.2l1 1.6l1 -.2l1 .6l1 1.2l1 -1.8l1 -.3l1 2.6l1 1.2l1 -1.8l1 -.5l1 -.5l1 -2l1 1.1l1 1.6l1 .1l1 -.1l.9 -.1l1 -.3l1 .2l1 1.2l1 -.4l1 .1l1 -1.5l1 -1.3l1 2.9l1 2.3l1 -1l1 -1.6l1 -1.2l1 .4l1 1.9l1 -1.6l1 -.2l1 1.7l1 -.1l1 -1.5l1 .1l1 -.4l1 .8l1 1.4l1 -2.3l1 1l1 2l1 -1.8l1 .9l1 -.3l1 -1.7l1 1.9l1 -2.3l1 -.2l1 1.9l1 -.9l1 -.9l1 .3l1 -.1l1 -1.2l1 .6l1 -.3l1 1.7l1 -.1l1 -2.1l1 .8l1 .6l1 1l1 .6l1 -1l1 -1.1l1 .2l1 1.1l1 .5l1 -1.3l1 -2.5l1 2.3l1 2.5l1 -1.8l1 -.7l1 -.8l1 -1.4l1 .1l1 .5l1 -.3l1 -1.2l1 .3l1 1.7l1 -.2l1 -.6l1 -1.4l1 -.3l1 1.7l1 -1l1 -1.5l.9 1.4l1 .8l1 0l1 .4l1 .1l1 .1l1 -1.8l1 .3l1 1.1l1 .7l1 0l1 -.9l1 1.2l1 1.4l1 0l1 -.1l1 -.2l1 -.2l1 .4l1 -.2l1 -.7l1 -.2l1 2.1l1 -.1l1 -2.3l1 -.4l1 .2l1 .4l1 -1l1 -2l1 1.1l1 .3l1 -.1l1 1.5l1 .7l1 1.3l1 -.7l1 -2l1 -1.4l1 -.3l1 1.1l1 -1.2l1 0l1 1.8l1 .5l1 -.3l1 -.5l1 -.4l1 -.5l1 -.9l1 .5l1 2.9l1 0l1 -1.1l1 -1l1 1l1 .3l1 -.5l1 .8l1 -1.5l1 .9l1 1l1 -.6l1 .5l1 -.1l1 -.5l1 .6l1 .2l1 -.1l1 -.1l1 -1.2l1 .3l1 1l1 .9l1 1.7l.9 -1.3l1 -.8l1 -.2l1 -.8l1 1.9l1 -.8l1 -.8l1 2.5l1 2.1l1 .1l1 -.4l1 2.4l1 1l1 -2.3l1 2l1 1.7l1 -1.3l1 .9l1 .9l1 0l1 .5l1 -1l1 1.1l1 1.5l1 -1.3l1 -.4l1 2.2l1 .8l1 -.3l1 1.4l1 .6l1 -1.5l1 1l1 2.7l1 .7l1 1.1l1 0l1 -.2" stroke="#1428f0" stroke-width="2.3" fill="none" stroke-linejoin="round"/>
<path d="M332.6 183.3l1 -.9l1 -.6l1 1.2l1 -1.5l1 -.6l1 -.6l1 -3l1 -.4l1 .4l1 -1.2l1 -.8l1 .2l1 -.3l1 -2.4l1 -.7l1 .6l1 -1.7l1 -1.7l1 -.3l1 -.8l1 .1l1 1l1 .9l1 -.3l1 -1.1l1 -.5l1 -.1l1 -1.7l1 -1l1 .2l1 -1.2l1 -1.1l1 -.9l1 -.3l1 -1.2l1 .3l1 .6l.9 -.9l1 -.1l1 .1l1 -1.3l1 -1.1l1 -1.3l1 -2.2l1 -.6l1 3l1 -.1l1 -1l1 2.9l1 -.8l1 .2l1 2.1l1 -.6l1 .5l1 -.2l1 -2.7l1 -.1l1 .4l1 -1.6l1 -.7l1 3.2l1 .7l1 -2l1 -.1l1 .1l1 .3l1 -.6l1 -1l1 -1l1 .3l1 1.3l1 2.3l1 .5l1 -.4l1 -.7l1 -1.8l1 -1.7l1 .1l1 -.6l1 -.1l1 3.5l1 .8l1 -.1l1 -.2l1 -1.6l1 .4l1 1.3l1 1.8l1 2.4l1 -1.5l1 -1.8l1 .7l1 .2l1 -.8l1 .6l1 1.6l1 .4l1 -1.2l1 -.3l1 -.3l1 1l1 .7l1 -.9l1 .5l1 -.2l1 -.5l1 -.9l1 2.5l1 2l1 -1.2l1 1.8l1 -.1l.9 -1.2l1 .2l1 .7l1 .6l1 -.7l1 -.5l1 0l1 1.4l1 -2l1 -1.1l1 1.6l1 0l1 -1.3l1 1l1 1.1l1 -.8l1 .3l1 -1.3l1 0l1 -.2l1 -.5l1 1.3l1 .8l1 .3l1 -.2l1 1.8l1 .4l1 -3l1 -.9l1 .4l1 .3l1 0l1 -.6l1 2l1 .7l1 -1.8l1 -.3l1 .1l1 1.4l1 .6l1 -.4l1 -3.2l1 -.8l1 3.6l1 1.4l1 -1l1 -3.3l1 .4l1 .9l1 -2.2l1 -.1l1 2.4l1 1.5l1 -.4l1 -2.1l1 1.5l1 -.2l1 -2.5l1 -.5l1 1l1 1.4l1 -.6l1 -.5l1 -1l1 -.1l1 -1.7l1 .6l1 2.4l1 -1.3l1 -.9l1 .5l1 1.3l1 0l1 -1.5l1 -.9l.9 -1.5l1 -.1l1 1.3l1 .4l1 0l1 .9l1 .4l1 -.3l1 .3l1 0l1 -.5l1 .4l1 -1.4l1 .7l1 .5l1 -.3l1 1.2l1 .4l1 .1l1 -1.8l1 1l1 1.1l1 -.8l1 -.1l1 .8l1 .6l1 -.7l1 -2.2l1 -.7l1 1.4l1 1.8l1 .1l1 -1.8l1 .6l1 -.1l1 -1.1l1 .2l1 -1.4l1 .7l1 1.6l1 -1.1l1 -1.4l1 .3l1 2.3l1 -.8l1 -2.3l1 1l1 -.6l1 -2.3l1 1l1 1.3l1 .1l1 .1l1 .5l1 .3l1 -.7l1 -.2l1 1.2l1 1.4l1 .4l1 -.1l1 -3.6l1 -1.3l1 2.8l1 1.3l1 -.8l1 1.4l1 2l1 -1.5l1 .2l1 .6l1 -.5l1 1.1l1 .6l1 -1.4l.9 .2l1 1.5l1 0l1 1.6l1 .4l1 1l1 2.2l1 -1.9l1 -.2l1 2.4l1 .2l1 -1.6l1 .7l1 3.3l1 -.9l1 -.7l1 1.8l1 -.1l1 .2l1 .3l1 1.8l1 1.4l1 -1.3l1 1.4l1 .2l1 -.2l1 1.8l1 1l1 .7l1 .4l1 .2l1 .5l1 .9l1 1.6l1 -.4l1 -.3l1 1.6l1 -.3" stroke="#0896f5" stroke-width="2.3" fill="none" stroke-linejoin="round"/>
<path d="M332.6 176.9l1 -.4l1 -1.6l1 -2.4l1 1.1l1 -.9l1 -.2l1 .3l1 -1.8l1 -.5l1 -.6l1 -1.1l1 -1.5l1 -.6l1 .4l1 .3l1 -.6l1 -1.5l1 -2.2l1 -2.7l1 -.1l1 1.5l1 -1.5l1 -.6l1 1.1l1 -1.1l1 -.6l1 -.2l1 -2.9l1 -1.2l1 .6l1 .3l1 -1.1l1 -1.6l1 -.8l1 -.4l1 .2l1 .2l.9 0l1 -1.5l1 -1.2l1 -.7l1 -.8l1 .7l1 -2.9l1 -2.2l1 1.9l1 .7l1 -1.4l1 -.6l1 1.8l1 -.7l1 -2.3l1 .1l1 .7l1 1l1 .4l1 1.1l1 1l1 -2.1l1 -.5l1 -.2l1 .8l1 2.3l1 -.5l1 -.6l1 -.8l1 -.7l1 2.7l1 -1.8l1 -1.3l1 1.9l1 -3l1 -2.7l1 .4l1 1.7l1 .2l1 -1.2l1 1.1l1 .5l1 -.1l1 0l1 1.2l1 .2l1 1.5l1 1.5l1 -1.1l1 1.7l1 1.7l1 -1.8l1 .3l1 1l1 -.5l1 2.3l1 .3l1 0l1 .8l1 1.8l1 .5l1 -2.4l1 -.7l1 .5l1 1.3l1 .9l1 .9l1 .3l1 -.6l1 .3l1 -.1l1 .3l1 1.1l1 .7l1 -.8l.9 -1.9l1 .1l1 2.1l1 -1.3l1 -.4l1 2.8l1 .1l1 -1.2l1 2.2l1 2.4l1 -1.5l1 .2l1 1.6l1 -2l1 1.3l1 .3l1 -2.7l1 -.1l1 .2l1 -.3l1 -.2l1 2.1l1 .1l1 -1.3l1 1l1 -.6l1 -.6l1 .4l1 -.8l1 .2l1 -.1l1 -.2l1 -.9l1 -.5l1 1l1 .3l1 -1.5l1 -.6l1 .3l1 .5l1 .6l1 0l1 -.9l1 -.2l1 -.8l1 -2.7l1 1l1 .9l1 -1l1 .3l1 1.2l1 -.2l1 -.5l1 .4l1 -1.6l1 -1.2l1 1.3l1 1.4l1 -.2l1 .8l1 -1l1 -1.9l1 -.8l1 -.4l1 -.5l1 -1.1l1 1.9l1 -1.1l1 -1.7l1 1.9l1 -.3l1 -1.5l1 -.5l1 .2l1 -1l.9 .1l1 .5l1 -.5l1 1l1 -.4l1 -.1l1 .6l1 .2l1 .8l1 0l1 -.7l1 -.7l1 .2l1 1l1 1.6l1 1l1 -1l1 -.7l1 -.8l1 -1.9l1 .8l1 1.5l1 -.5l1 -1l1 1.9l1 .8l1 -2.1l1 2.6l1 1.4l1 -2.5l1 .1l1 -.6l1 .6l1 -.9l1 -2.7l1 1.1l1 .3l1 1.3l1 -.9l1 -2l1 1.5l1 1.1l1 .6l1 -.3l1 1l1 -.8l1 -1.9l1 1.1l1 -.5l1 -1.1l1 -.2l1 -.3l1 -.7l1 .1l1 -.3l1 .9l1 .1l1 1.7l1 3.1l1 -.5l1 -1.4l1 -1.2l1 1.6l1 1l1 0l1 -.2l1 1.1l1 .6l1 -.3l1 -.2l1 0l1 2.6l1 .9l1 -.2l1 1.8l.9 1l1 1.1l1 -1.4l1 .1l1 3.4l1 -1.1l1 -.8l1 2.8l1 .9l1 -.6l1 2.1l1 .9l1 .5l1 .2l1 .4l1 2.3l1 .7l1 -2.3l1 .9l1 2.5l1 -.8l1 1.8l1 -.2l1 .9l1 1.5l1 .2l1 1l1 -2.1l1 .6l1 2l1 .9l1 1.1l1 -.8l1 0l1 1.9l1 -.2l1 -1l1 -.2" stroke="#08c2c4" stroke-width="2.3" fill="none" stroke-linejoin="round"/>
<path d="M332.6 175.1l1 -.2l1 -2.2l1 -2.8l1 1l1 -1.1l1 -1.8l1 -.2l1 -2.5l1 0l1 .5l1 .3l1 1.3l1 -2.3l1 -1.9l1 .2l1 -2.3l1 -2.6l1 .8l1 -.5l1 -2.3l1 -.8l1 -.7l1 -.9l1 .3l1 1.2l1 -1.4l1 -2.7l1 -.1l1 -.6l1 -1.2l1 1.7l1 1.8l1 -1.5l1 -3.8l1 -.5l1 -1.9l1 -2.1l.9 2.5l1 .4l1 -3.4l1 -2.9l1 1.2l1 .7l1 -2l1 -.4l1 -.7l1 -2.6l1 1l1 1.2l1 -1.5l1 -.5l1 1.1l1 .6l1 .4l1 .6l1 .5l1 .1l1 -1.4l1 -1.2l1 -.3l1 2.4l1 3.7l1 -1.7l1 -3.6l1 1.3l1 1.2l1 -1.1l1 -.6l1 -1.2l1 -.7l1 1.8l1 1.2l1 -1.4l1 -2.2l1 .1l1 .8l1 -.1l1 -1.5l1 .1l1 1.9l1 -.5l1 -1.5l1 1.9l1 2.8l1 1.8l1 1.1l1 -.4l1 .3l1 .3l1 .2l1 1l1 .9l1 2l1 -.2l1 -.6l1 1l1 1.8l1 1.2l1 -1.3l1 .8l1 .7l1 -.9l1 1.5l1 1.2l1 .3l1 .6l1 -.7l1 -.6l1 -1.4l1 .9l1 1.5l1 .4l.9 .3l1 -.8l1 -.5l1 1.5l1 2.3l1 -.6l1 -.5l1 1.7l1 -.9l1 -1.2l1 0l1 1.6l1 1.5l1 -1.2l1 -1.5l1 .3l1 2.3l1 -.1l1 -1.4l1 .8l1 -.9l1 -.6l1 1.5l1 -.9l1 -1.4l1 .8l1 .5l1 -.5l1 .1l1 .3l1 -1.1l1 -.9l1 1.1l1 1.5l1 .7l1 -1.8l1 -.3l1 1.3l1 -1.1l1 -.4l1 .6l1 .9l1 -1.8l1 -1.3l1 .6l1 -.9l1 .9l1 .7l1 -2.1l1 -1.1l1 .8l1 -1.2l1 .3l1 1l1 -.9l1 0l1 1.1l1 -.7l1 -2.4l1 .9l1 -.8l1 -2.6l1 -1.3l1 .9l1 1.2l1 -.8l1 -.4l1 -.8l1 -1l1 -.8l1 .8l1 .6l1 .7l1 -1.1l1 -2.1l.9 -.5l1 1.5l1 -.2l1 -.5l1 2.4l1 -.6l1 -.4l1 -1.5l1 -.8l1 .7l1 .7l1 1.7l1 -.6l1 1l1 1.2l1 -1.1l1 -.5l1 -.6l1 .4l1 3.4l1 -.3l1 -1.4l1 .3l1 .4l1 .9l1 -1l1 -2.1l1 -.4l1 2.3l1 -.1l1 -.8l1 -.5l1 -2.5l1 .5l1 1.7l1 -1l1 -.7l1 .6l1 -.4l1 0l1 .2l1 -2.5l1 0l1 1.4l1 -.7l1 .8l1 .2l1 0l1 1.3l1 -.4l1 -2.4l1 -.9l1 2.2l1 .4l1 -1.5l1 .3l1 1.3l1 .6l1 .4l1 -.6l1 -.5l1 .9l1 .6l1 -1.1l1 .5l1 1.4l1 2.2l1 3.4l1 1l1 .2l1 -1.1l1 .9l1 1.1l1 .6l1 .2l.9 -.2l1 2l1 2.9l1 .5l1 1.4l1 3.3l1 -2.2l1 -1.6l1 1.1l1 .7l1 1.1l1 .7l1 2.1l1 1.5l1 0l1 -.2l1 .5l1 .8l1 1l1 .5l1 .5l1 -.6l1 .8l1 3.2l1 -.1l1 -2.3l1 1.5l1 1.4l1 -3.4l1 .5l1 3.6l1 1l1 1l1 .6l1 -.6l1 -1.9l1 -.7l1 2.3" stroke="#08cd84" stroke-width="2.3" fill="none" stroke-linejoin="round"/>
<path d="M332.6 172.2l1 -1.9l1 -2l1 .4l1 -2.1l1 -3l1 .5l1 1l1 -1.2l1 -3.1l1 -.5l1 -.1l1 -.4l1 .2l1 -1.3l1 -.3l1 -1.7l1 -1l1 .5l1 -1.5l1 -.9l1 -1.8l1 -1.1l1 .2l1 -2.2l1 -.7l1 0l1 -.9l1 .1l1 .9l1 -1.1l1 -1.6l1 -1.9l1 -.9l1 1.3l1 -.3l1 -1.5l1 -2.2l.9 -2.2l1 -.6l1 -1.3l1 -2l1 1.1l1 -.6l1 -.1l1 -1.4l1 -2.1l1 -.4l1 -.4l1 .1l1 0l1 .9l1 -.4l1 .7l1 1.9l1 -.9l1 -.4l1 .8l1 -.6l1 2.1l1 -1.8l1 -2.4l1 .3l1 .4l1 1.4l1 3.5l1 .3l1 -2l1 .5l1 -2.4l1 -1.2l1 1.3l1 -.8l1 -1.8l1 -.4l1 -2.1l1 -1.6l1 1.4l1 1.3l1 -.7l1 -.3l1 1.2l1 .8l1 1.8l1 1.7l1 1.3l1 .3l1 .2l1 2.4l1 .4l1 .7l1 1.5l1 -.3l1 1.7l1 .7l1 -.7l1 .5l1 1.4l1 3.4l1 -1.4l1 -2l1 2l1 1.1l1 .1l1 -2.8l1 1.7l1 1.4l1 -.9l1 0l1 -.5l1 1.2l1 2.2l1 1.7l.9 -.7l1 .2l1 .6l1 0l1 .8l1 .8l1 -.4l1 -.4l1 1.1l1 .4l1 -.5l1 1.8l1 .6l1 -.5l1 .8l1 .4l1 -2.1l1 .7l1 1.6l1 -3l1 .2l1 2.9l1 .1l1 -3.2l1 -1l1 2.1l1 -.9l1 -1.5l1 .8l1 1.9l1 -.1l1 -.9l1 -.5l1 -1.9l1 1.3l1 1.2l1 -2.5l1 -.2l1 2l1 -1.3l1 -.6l1 .6l1 -.9l1 -1l1 -.4l1 0l1 -.8l1 -.1l1 -.4l1 -.1l1 1l1 -1.3l1 .5l1 2.3l1 .1l1 -3.3l1 -.4l1 .8l1 -1.8l1 -1.5l1 -.7l1 .9l1 -.1l1 -2.1l1 -1.5l1 -.4l1 .8l1 1.8l1 -1.8l1 -1.9l1 .3l1 -.9l1 .3l1 .8l1 -2l.9 -1.7l1 2.1l1 1.1l1 -.5l1 -.6l1 -.6l1 1.1l1 .2l1 -1.1l1 .8l1 2l1 -.6l1 .4l1 1.7l1 -1.4l1 -.3l1 .9l1 .8l1 .9l1 -1.5l1 -1.5l1 2.2l1 1.4l1 -.4l1 .2l1 .9l1 -1.5l1 -.7l1 0l1 -.7l1 1.5l1 -2.2l1 -1.2l1 .6l1 -.8l1 .1l1 -.9l1 -1l1 1.3l1 1.4l1 -1.2l1 -2.1l1 2.3l1 2.1l1 -1.8l1 -2l1 -.9l1 1l1 -.4l1 1l1 .9l1 -1.1l1 -1.1l1 -1.2l1 .3l1 1.2l1 .7l1 -.2l1 .9l1 .8l1 1.5l1 .1l1 -1.7l1 .8l1 2.9l1 .5l1 -.3l1 1.2l1 1.3l1 1.5l1 -.1l1 .6l1 2.6l1 2.1l1 1.1l.9 .8l1 -.1l1 0l1 2.2l1 .4l1 .2l1 .5l1 .7l1 1.8l1 .2l1 2l1 1.2l1 -.1l1 1.2l1 .3l1 2.2l1 .8l1 -.4l1 0l1 0l1 1.5l1 .7l1 .3l1 .9l1 2.3l1 .1l1 -1l1 .2l1 2.7l1 2.1l1 -1.3l1 -.4l1 -.7l1 -.4l1 1.1l1 .6l1 -.6l1 -.6" stroke="#00d200" stroke-width="2.3" fill="none" stroke-linejoin="round"/>
<path d="M332.6 170.2l1 -.7l1 -3.3l1 -1.2l1 1.9l1 -1.7l1 -1.9l1 -1.7l1 -.5l1 -.8l1 -2.8l1 -.3l1 2.1l1 -1.3l1 -4.2l1 -.1l1 .1l1 -.1l1 -2.6l1 -4l1 -.3l1 .7l1 -.2l1 -.1l1 -2.1l1 -2.1l1 .7l1 1l1 0l1 -1.6l1 -2.1l1 .3l1 .7l1 .5l1 -2l1 -2.1l1 -1.9l1 -3l.9 -.6l1 -1l1 -1.3l1 -1.2l1 -.3l1 -.9l1 -.5l1 -.7l1 -1.6l1 .6l1 0l1 -1.1l1 -.2l1 .1l1 .6l1 -.6l1 .6l1 2.2l1 .2l1 -1.6l1 -2.1l1 .3l1 1.6l1 1.2l1 -.2l1 -1l1 1.5l1 -.4l1 -.6l1 1l1 -2.4l1 -1l1 0l1 -1.7l1 -1.7l1 -1.2l1 1.2l1 .3l1 -.6l1 -.8l1 -.4l1 1.1l1 -.5l1 -.6l1 2.5l1 2.7l1 .6l1 1.8l1 3.3l1 3.2l1 -.3l1 -.1l1 3.5l1 .3l1 .2l1 -1.6l1 .6l1 2.9l1 -2.2l1 1.3l1 3.1l1 .9l1 .6l1 -.7l1 -1.3l1 -.1l1 .8l1 1l1 -.1l1 -.1l1 1.5l1 .7l1 1.8l1 2.2l1 -2.4l.9 -1.7l1 .4l1 0l1 2l1 .6l1 -1.1l1 1l1 2l1 .2l1 -.6l1 1.4l1 1.2l1 0l1 .7l1 -1l1 -.5l1 .3l1 .6l1 1.1l1 -1.9l1 .3l1 -.3l1 -.3l1 1l1 -2l1 -1.3l1 .3l1 .8l1 -.5l1 .3l1 -.7l1 -.7l1 1.1l1 -1.7l1 .1l1 .4l1 -2.6l1 .4l1 1.8l1 1.1l1 -.4l1 .2l1 1.4l1 -.6l1 -.4l1 -1l1 -1.9l1 0l1 1l1 -.6l1 -1.4l1 -1.9l1 .4l1 1.3l1 -2.1l1 -.6l1 1.3l1 -.8l1 -.8l1 -.1l1 -2.9l1 -1.8l1 .9l1 .5l1 .3l1 -2.8l1 -1.7l1 2l1 .8l1 .5l1 -2.2l1 -2.2l1 -.5l1 .6l1 -.6l.9 0l1 1.7l1 -.7l1 -2.6l1 -.9l1 2.8l1 -.4l1 -.5l1 1.5l1 1.4l1 .6l1 -.2l1 -.3l1 0l1 .6l1 .9l1 .3l1 .5l1 -1l1 .4l1 1.6l1 .1l1 .4l1 -.2l1 1.3l1 -1.3l1 -1.4l1 0l1 -.3l1 -1.7l1 -.8l1 .7l1 -.9l1 -.3l1 -1l1 1.2l1 1.5l1 .2l1 -1.3l1 -2.9l1 .9l1 -.6l1 -.2l1 .7l1 -.7l1 .7l1 .2l1 1.3l1 .4l1 -2.9l1 .2l1 -.1l1 -.9l1 .1l1 -.8l1 2.5l1 .5l1 -1.4l1 .4l1 .8l1 2.3l1 -.2l1 -1.8l1 2.2l1 .6l1 .3l1 3.5l1 1.5l1 -.3l1 .5l1 .8l1 1.3l1 2.1l1 2.8l1 1.9l.9 -.4l1 -.3l1 2.4l1 .3l1 .3l1 2.5l1 .6l1 .5l1 2.3l1 .4l1 -.2l1 1.8l1 1.7l1 .2l1 1.6l1 1.6l1 -.4l1 .6l1 .4l1 .1l1 2.2l1 1.7l1 -.6l1 1.2l1 -.1l1 .1l1 1.1l1 -.9l1 1l1 -.1l1 .3l1 .9l1 .1l1 2.3l1 .5l1 -1.5l1 -.2l1 .4" stroke="#94e02c" stroke-width="2.3" fill="none" stroke-linejoin="round"/>
<path d="M332.6 166.7l1 -2.2l1 -.1l1 .3l1 -2.7l1 -1.7l1 .8l1 -.9l1 -2.5l1 -.4l1 -1.3l1 -1.5l1 1.3l1 -3.5l1 -2.4l1 .9l1 -1.4l1 -2.3l1 -1.9l1 -1.9l1 -.9l1 .5l1 -1.6l1 -2l1 -.4l1 .3l1 0l1 -.6l1 -.5l1 -1.7l1 -3.3l1 .7l1 2.4l1 -2.9l1 -3.1l1 .2l1 .2l1 -.9l.9 -1l1 -1.9l1 -2.1l1 -.9l1 -1.9l1 -.5l1 -.3l1 -1.5l1 -2l1 -.9l1 -.9l1 -.5l1 -1.2l1 -1.1l1 3.1l1 .6l1 -.3l1 -.8l1 1.3l1 2.2l1 -1l1 .1l1 .5l1 .9l1 0l1 -2.5l1 -.4l1 2.3l1 .4l1 -1.8l1 -.4l1 -.1l1 -.7l1 -2.2l1 -2l1 1.1l1 -.3l1 -1.1l1 1.3l1 -.9l1 -1.3l1 .2l1 -.1l1 1.2l1 .2l1 -.4l1 4.6l1 4.1l1 2.1l1 1.9l1 .5l1 1.6l1 1.5l1 -.7l1 1.3l1 1l1 0l1 3.8l1 .6l1 0l1 .3l1 -.3l1 .9l1 .3l1 -.4l1 -.8l1 1.3l1 -.2l1 -.8l1 2.3l1 .5l1 -.8l1 .2l1 1.6l1 1.4l.9 .8l1 .8l1 2l1 .3l1 -2.8l1 .9l1 2.1l1 .5l1 -1l1 1.2l1 1.8l1 -.5l1 -.8l1 .8l1 1.6l1 .9l1 -.3l1 -2.4l1 .4l1 .1l1 0l1 -.4l1 -.6l1 .5l1 -.1l1 -.5l1 -.8l1 .1l1 0l1 0l1 .1l1 -2.3l1 .1l1 2.9l1 .2l1 -.8l1 -.1l1 -1.1l1 -1.7l1 .8l1 1.8l1 -.5l1 -.9l1 -.5l1 -.7l1 -.5l1 -.3l1 -.3l1 -1.2l1 -1.1l1 .9l1 -.1l1 -3l1 0l1 -.4l1 1l1 2l1 -1.7l1 -2.2l1 -2.5l1 -.7l1 -.1l1 -1.4l1 -.6l1 .7l1 -.1l1 -1.9l1 -2.8l1 .6l1 .9l1 0l1 1.5l1 .5l1 -1.7l1 -.9l.9 .7l1 -1.1l1 -1.3l1 .8l1 -.1l1 -.9l1 -.3l1 .9l1 .5l1 1.1l1 .7l1 .9l1 1.7l1 -2l1 .2l1 1.1l1 .6l1 1.1l1 -.8l1 .4l1 -.1l1 -.1l1 1l1 -.3l1 0l1 -.8l1 -.1l1 -.5l1 -.4l1 .9l1 -.5l1 -1.4l1 1.5l1 -.2l1 -2.8l1 -.7l1 .9l1 0l1 -.6l1 -.6l1 -.8l1 .3l1 .3l1 -.1l1 -1.7l1 .5l1 -.4l1 -1.4l1 1.5l1 -.9l1 -.1l1 1.1l1 -1.5l1 .5l1 1.4l1 -.5l1 -.3l1 1.5l1 1.3l1 -.1l1 -.7l1 -.1l1 .9l1 2.2l1 2l1 1l1 2l1 .9l1 -.1l1 1.2l1 3.3l1 0l1 .1l1 3.5l1 1.2l.9 3l1 2.3l1 .2l1 -.2l1 1.2l1 1.9l1 1l1 1.7l1 .8l1 1.4l1 2.9l1 1.3l1 -.2l1 -1.6l1 1.6l1 3.3l1 -.2l1 -.5l1 1.4l1 .5l1 .8l1 .5l1 -.9l1 1.5l1 0l1 .4l1 2.1l1 -.7l1 .7l1 1.1l1 0l1 1l1 -.5l1 -.3l1 -.7l1 .1l1 1l1 2.2" stroke="#e0d42a" stroke-width="2.3" fill="none" stroke-linejoin="round"/>
<path d="M332.6 166.6l1 -2.3l1 -1.5l1 .1l1 -2.2l1 -1.1l1 -.3l1 -2.1l1 -2.2l1 -.6l1 -1.9l1 -1.2l1 -.6l1 -2l1 -1.9l1 -.5l1 0l1 -1.5l1 -3.1l1 -1.2l1 -.5l1 -1.4l1 -.2l1 -2l1 -1.7l1 -.3l1 -1.1l1 1.6l1 .9l1 -3.9l1 -1.3l1 -.1l1 -.7l1 -.8l1 -2.5l1 -1.4l1 -.9l1 -1.4l.9 -2l1 -1.6l1 -.8l1 -2.3l1 -1.8l1 -.5l1 -1.7l1 -.8l1 -2l1 -1.9l1 0l1 .8l1 .4l1 -.2l1 .9l1 -1.2l1 .2l1 .9l1 -.4l1 .9l1 1.2l1 1l1 1l1 -.4l1 -1.8l1 -.5l1 1l1 1.6l1 -.6l1 -2.2l1 -.6l1 .1l1 -1l1 -1.7l1 -2.9l1 -.7l1 1.9l1 -.3l1 -3.4l1 -.5l1 .5l1 2.1l1 2.4l1 -1.7l1 1.5l1 2l1 2.2l1 3.4l1 1.1l1 2.5l1 1.4l1 1.8l1 2.4l1 -.9l1 -.6l1 3.2l1 3.6l1 -1.5l1 1l1 2l1 -.8l1 .5l1 .6l1 1.8l1 .8l1 -2.3l1 1.9l1 2.6l1 -2.3l1 -.7l1 .6l1 1l1 1.7l1 1l1 0l.9 0l1 2l1 1.2l1 1.8l1 -.1l1 -.7l1 1.2l1 -.8l1 1.5l1 1.2l1 -1.4l1 .2l1 2.2l1 -.3l1 .6l1 1.7l1 -1.4l1 .5l1 1.5l1 -.8l1 -1.6l1 .8l1 .9l1 -2.6l1 -1.6l1 .4l1 -.4l1 -1.3l1 .8l1 1.1l1 -.9l1 .9l1 -.7l1 -1.4l1 .5l1 -.5l1 -.5l1 .8l1 -.2l1 .2l1 -.9l1 -1.3l1 -1l1 -.6l1 .2l1 .8l1 .8l1 -1.1l1 .5l1 .4l1 -1.3l1 -2.2l1 -2.3l1 0l1 .4l1 -1.1l1 -.6l1 -1.6l1 .4l1 -.8l1 -3l1 .2l1 -1.9l1 -.5l1 1.5l1 -1.5l1 -2.2l1 -.6l1 -1l1 1.1l1 1.1l1 -2.3l1 -1.3l1 .5l1 1.4l.9 -1.9l1 -2.1l1 -.5l1 1.1l1 1.8l1 1.6l1 .2l1 -1.8l1 0l1 1.6l1 -.3l1 .3l1 2l1 -.7l1 -.6l1 1.7l1 2.7l1 -.8l1 -.7l1 2.2l1 -.7l1 -1.4l1 -.3l1 .2l1 1l1 -.3l1 -.8l1 -1.4l1 -1.1l1 0l1 1l1 -.2l1 -1.9l1 .5l1 .8l1 -1.5l1 -1.2l1 .9l1 .5l1 -1.5l1 -.3l1 .5l1 .5l1 -.9l1 -.4l1 .9l1 -1.7l1 .3l1 1.4l1 -2.1l1 .7l1 0l1 -2.5l1 .7l1 1.5l1 1l1 -.4l1 1.2l1 .9l1 .7l1 2.8l1 -.3l1 -3.8l1 .4l1 2.5l1 1.9l1 2.6l1 .5l1 .4l1 2.4l1 2.3l1 -.4l1 2.6l1 3.9l1 .8l.9 1.8l1 .7l1 1.4l1 3.5l1 2.6l1 1.2l1 .3l1 .4l1 2.6l1 2.4l1 -.3l1 -1.2l1 .7l1 1.2l1 2.7l1 2.7l1 -.8l1 .5l1 3.7l1 2.1l1 -2.7l1 -.4l1 .7l1 -.8l1 1.6l1 4l1 1.7l1 -1.7l1 -1.2l1 .5l1 1.6l1 -1.1l1 -2.2l1 3.2l1 2.2l1 0l1 .1l1 0" stroke="#dea828" stroke-width="2.3" fill="none" stroke-linejoin="round"/>
<path d="M332.6 163.6l1 -.9l1 .6l1 -.9l1 -3.1l1 -1.4l1 -1.5l1 -3.4l1 -.3l1 1.1l1 -1.1l1 -3.6l1 -1.4l1 .3l1 -2.5l1 -4.2l1 -.2l1 1.3l1 -2.2l1 -3.9l1 -3.3l1 1.1l1 .9l1 -1.2l1 -1.6l1 -.7l1 -.7l1 -1.2l1 -.9l1 -.3l1 -.6l1 -.6l1 -.3l1 -3l1 -.6l1 -1.8l1 -2.7l1 .5l.9 -.8l1 -4.5l1 -1.8l1 1.4l1 -1.1l1 -4.4l1 -3.4l1 .3l1 -1.3l1 .2l1 -.6l1 0l1 1.2l1 -2.2l1 -1.2l1 1.1l1 1.2l1 1.5l1 0l1 .2l1 -.8l1 -3.2l1 1.3l1 3.2l1 .1l1 -1.3l1 .7l1 2.5l1 -.8l1 -2.9l1 -1.1l1 1.7l1 -.2l1 -2.1l1 .2l1 -.6l1 -3l1 -1.1l1 .8l1 -.7l1 .3l1 -.4l1 -.1l1 1l1 1.8l1 1.6l1 2.3l1 2.6l1 2.4l1 2.8l1 1.6l1 1.9l1 1.2l1 .8l1 -.5l1 2.2l1 2.2l1 -.2l1 .8l1 2l1 .7l1 .4l1 2.5l1 1.6l1 .5l1 -.5l1 -1.7l1 .9l1 2.5l1 0l1 .1l1 0l1 -.4l1 1.8l1 2.5l.9 -1l1 .6l1 1.8l1 .6l1 .6l1 .8l1 1.2l1 .3l1 -1.6l1 .4l1 1.8l1 -1.1l1 1.2l1 .3l1 .5l1 2.8l1 -1.2l1 -.8l1 .6l1 -.4l1 -1.8l1 -.3l1 1l1 -.2l1 -.3l1 .1l1 -.1l1 -.6l1 .7l1 -.7l1 -.5l1 -.2l1 -.6l1 -.9l1 .1l1 1.3l1 -1l1 -.6l1 .2l1 -1.9l1 -.5l1 1.8l1 -1.2l1 -3.1l1 .1l1 .6l1 1l1 .2l1 -2.1l1 -1l1 -.2l1 -.4l1 -1.5l1 -.2l1 -.5l1 .6l1 -1l1 -2.1l1 -.7l1 -2.5l1 .7l1 -1.9l1 -1.4l1 -.3l1 -1.8l1 2.6l1 -2.5l1 -3.6l1 2.5l1 .9l1 -2.1l1 -.8l1 -.9l1 -.5l1 1.5l.9 -.9l1 -1.5l1 1.2l1 1.7l1 -1.3l1 -1.2l1 .5l1 -.3l1 .6l1 .6l1 -.7l1 -.7l1 1.3l1 2.2l1 2.2l1 -.2l1 -.7l1 1.4l1 1.3l1 -.3l1 -.4l1 2.1l1 -.1l1 -1.9l1 -1l1 .7l1 .8l1 .9l1 -.7l1 -1.6l1 .4l1 .1l1 -2.6l1 -.6l1 .7l1 -1.7l1 -.6l1 -.6l1 -.3l1 -1.9l1 .4l1 1.9l1 -1.5l1 -.4l1 2.7l1 .1l1 -2.5l1 1l1 -.6l1 -1.8l1 .1l1 -.2l1 1l1 .7l1 -1.2l1 -.4l1 1.1l1 .3l1 .5l1 .5l1 .2l1 1.4l1 .6l1 1.4l1 2l1 .5l1 1.3l1 2.1l1 2.1l1 2.1l1 1.7l1 .9l1 3.1l1 3.3l1 .7l.9 1.7l1 2l1 .8l1 1.6l1 4.4l1 2.5l1 .3l1 .3l1 1l1 3.6l1 1.1l1 .2l1 1.9l1 .6l1 1.3l1 .6l1 0l1 .1l1 2.8l1 1.6l1 -1.4l1 1.6l1 .2l1 -.7l1 .3l1 .4l1 .8l1 .8l1 .7l1 -.6l1 .2l1 .7l1 .1l1 1.2l1 1.3l1 -.5l1 -1.4l1 .4" stroke="#ec7c22" stroke-width="2.3" fill="none" stroke-linejoin="round"/>
<path d="M332.6 161.1l1 -1.2l1 -.3l1 -2.1l1 -2.1l1 -1.6l1 1l1 -1l1 -3.4l1 -.4l1 -.9l1 -1.4l1 -2.9l1 -3.3l1 2.3l1 -.6l1 -4.7l1 -1.6l1 -.8l1 -2.9l1 -2.3l1 -.5l1 -.8l1 -.7l1 -1.7l1 -1.5l1 -2.2l1 1l1 .2l1 -2l1 1.6l1 -1.3l1 -2.4l1 -1.4l1 -1.6l1 -1.5l1 -2.6l1 -.5l.9 -1.5l1 -4l1 -1.8l1 -.1l1 -2.3l1 -1.4l1 0l1 -.7l1 -2.8l1 -2.4l1 -1.4l1 -.8l1 1.7l1 .9l1 0l1 -.2l1 -.2l1 -.1l1 1.1l1 1.2l1 .7l1 .7l1 .7l1 -2.2l1 -1.4l1 1.4l1 0l1 .8l1 .8l1 -1.5l1 -1.1l1 .4l1 -1.3l1 -2.4l1 .1l1 -.5l1 -.7l1 -1.3l1 -1.4l1 -1.1l1 -1.2l1 1l1 -.6l1 1.5l1 4.3l1 1.6l1 1.9l1 4.2l1 3.3l1 2.3l1 3.6l1 1.4l1 .3l1 1.1l1 .7l1 .9l1 1l1 1.7l1 -.4l1 -.1l1 2.8l1 .4l1 .1l1 .8l1 1l1 1.8l1 1.2l1 .1l1 -1.4l1 .2l1 1.6l1 1.7l1 -1.4l1 .1l1 1.3l.9 1.3l1 2.8l1 .7l1 1l1 .6l1 -.7l1 .6l1 2.1l1 .1l1 -.4l1 -.3l1 1.6l1 1.3l1 -1.1l1 .5l1 0l1 .1l1 1.7l1 .7l1 -.1l1 .3l1 -2.3l1 -1.1l1 1.7l1 1.3l1 -2.7l1 -3.5l1 1.3l1 .7l1 -1.5l1 .3l1 -.1l1 -2.4l1 .4l1 1.8l1 .4l1 .4l1 -.6l1 -1.3l1 -1.1l1 -1.5l1 -.3l1 1.8l1 .4l1 .4l1 -1.1l1 -3.7l1 .3l1 1.9l1 -2.1l1 -2.8l1 .6l1 1.4l1 -1.7l1 -1.5l1 -.4l1 -1.5l1 -1.5l1 -.1l1 -.7l1 -2.2l1 -3.3l1 .8l1 .4l1 -2.4l1 -.8l1 -.1l1 -.9l1 -.7l1 .6l1 .1l1 -1.4l1 -2l1 .1l1 1.6l.9 -1.6l1 -1.9l1 .6l1 .1l1 1.3l1 .3l1 .1l1 .7l1 -.2l1 .2l1 -.3l1 .4l1 1.2l1 .5l1 1.7l1 1.1l1 .2l1 1.1l1 -1.9l1 -.1l1 2.4l1 -.2l1 -.8l1 .7l1 2.1l1 .3l1 -1.4l1 -.8l1 .2l1 .3l1 -.5l1 -2.2l1 -1.6l1 -.6l1 -.3l1 -1l1 .1l1 -.5l1 -1.6l1 .6l1 -.1l1 -.8l1 -1.5l1 .6l1 1.6l1 -1l1 .1l1 .1l1 -1.2l1 1.3l1 .1l1 -1.1l1 1.9l1 -1.4l1 -1.4l1 .1l1 1.3l1 1l1 -1.2l1 2.2l1 2.6l1 -1l1 1.2l1 2l1 2.8l1 3.1l1 -.9l1 .2l1 1.6l1 2.2l1 2.6l1 2.4l1 2l1 .1l1 1.2l.9 4.4l1 3.6l1 .7l1 .9l1 2l1 2.1l1 .6l1 2.3l1 2.4l1 .8l1 -.2l1 1.4l1 4.5l1 -.9l1 1.2l1 3.3l1 -.9l1 -.8l1 2.5l1 2.5l1 .3l1 .3l1 -.5l1 1.6l1 .3l1 .5l1 -.2l1 -1.1l1 .5l1 2.3l1 .1l1 -1.7l1 2.3l1 1.4l1 1.5l1 1.6l1 -1.3l1 -.9" stroke="#f02c2c" stroke-width="2.3" fill="none" stroke-linejoin="round"/>
<path d="M332.6 159.0l1 -2.3l1 -.2l1 -.9l1 -2.4l1 -2.1l1 -1.1l1 .2l1 -.5l1 -2.7l1 -2.1l1 -1l1 -2l1 -2l1 -2.5l1 -.8l1 .5l1 -2.1l1 -2.4l1 -1.9l1 -.4l1 -1.7l1 -4l1 -2l1 1l1 1.2l1 -.6l1 -.8l1 -1.2l1 -2.8l1 -1.9l1 -1.6l1 -1.3l1 -1.3l1 -1.4l1 -.7l1 -3.5l1 -1l.9 .5l1 -3.6l1 -2.4l1 -.1l1 -2.1l1 -1.5l1 -1.4l1 -1.7l1 -1.8l1 -2.3l1 -.2l1 .9l1 -.1l1 -.8l1 -.7l1 .3l1 .4l1 .8l1 .9l1 .1l1 .3l1 .7l1 1.6l1 1l1 -1.8l1 -.6l1 .3l1 -.7l1 -.3l1 -1l1 -1.6l1 -2.4l1 .3l1 2l1 -2l1 -1.7l1 -.9l1 -1.4l1 -1.3l1 -.8l1 .8l1 -1.2l1 1.3l1 3l1 -1l1 2.8l1 5.2l1 3.1l1 3.8l1 2l1 .7l1 1.6l1 2.1l1 3.7l1 3.2l1 -1.1l1 -.7l1 1.8l1 2l1 .2l1 -.3l1 3.1l1 2.6l1 -2.3l1 -1.8l1 1.1l1 2.1l1 1.6l1 0l1 -1.4l1 1.1l1 2.6l1 .8l1 .1l1 1.6l.9 1.4l1 -.4l1 1l1 .6l1 1.4l1 2.2l1 -1.1l1 .4l1 2.5l1 -1.4l1 -.6l1 4l1 -.5l1 -.9l1 .5l1 .3l1 -.9l1 -1.5l1 1.4l1 1.3l1 .4l1 0l1 .3l1 -.1l1 -.6l1 -1.7l1 -1.1l1 3.3l1 1.7l1 -2.3l1 -1.6l1 -.1l1 -1.2l1 .6l1 -.2l1 -2l1 1.9l1 -2l1 -1.8l1 -.1l1 -1.3l1 .9l1 -.2l1 -.3l1 -.9l1 -.7l1 -.9l1 -.7l1 -.7l1 .4l1 -.5l1 -.5l1 .1l1 -1.5l1 .7l1 -.4l1 -3.5l1 -.7l1 -2.3l1 -1.7l1 .5l1 -3l1 -.9l1 -.2l1 .9l1 -.8l1 -.7l1 1l1 -2.7l1 -2.5l1 1.1l1 -.1l1 -1.7l1 -.9l1 -1.9l.9 -.7l1 -.2l1 -1.1l1 .6l1 3.2l1 2.1l1 -1.1l1 -.7l1 1.1l1 1.7l1 .5l1 -1.1l1 -.1l1 1.9l1 3.1l1 -1l1 -3.6l1 1.8l1 2.2l1 -.1l1 1.6l1 .3l1 -2l1 -1.6l1 1.2l1 .6l1 -.1l1 -.7l1 -1.2l1 -1l1 -.8l1 .1l1 .1l1 1l1 -1.2l1 -2.4l1 1.5l1 .8l1 -1.6l1 -.1l1 .5l1 0l1 -.9l1 -.5l1 -1.6l1 -1.4l1 .4l1 .4l1 -.1l1 0l1 -.2l1 -.8l1 -1.6l1 1.1l1 2l1 -1.2l1 .4l1 1.8l1 .3l1 -1.1l1 -.2l1 2.1l1 3.4l1 1.1l1 -.2l1 1.7l1 1.9l1 3.3l1 .6l1 -.8l1 4.4l1 4.6l1 1l1 2.9l1 3.5l.9 -.6l1 1.1l1 5l1 1.7l1 .9l1 3.5l1 2l1 -.1l1 1.2l1 1.4l1 2.6l1 1l1 1.7l1 1.3l1 .2l1 1.3l1 .7l1 3.2l1 2.2l1 1.2l1 -.2l1 -.3l1 1l1 1l1 -.1l1 .9l1 1.1l1 .4l1 .5l1 0l1 -.8l1 -.6l1 -.2l1 .3l1 1.2l1 1.1l1 -.9l1 2.2" stroke="#e8007c" stroke-width="2.3" fill="none" stroke-linejoin="round"/>
<path d="M332.6 192.9H632.2M332.6 192.9v4M432.5 192.9v4M532.3 192.9v4M632.2 192.9v4M382.5 192.9v2.2M482.4 192.9v2.2M582.3 192.9v2.2" stroke="#000" stroke-width="2.1" fill="none"/>
<g transform="translate(332.60 222.20) scale(1.0000 1.040)"><text x="-23.86" y="0" font-size="28.60">400</text></g>
<g transform="translate(432.47 222.20) scale(1.0000 1.040)"><text x="-23.86" y="0" font-size="28.60">500</text></g>
<g transform="translate(532.33 222.20) scale(1.0000 1.040)"><text x="-23.86" y="0" font-size="28.60">600</text></g>
<g transform="translate(632.20 222.20) scale(1.0000 1.040)"><text x="-23.86" y="0" font-size="28.60">700</text></g>
<g transform="translate(318.60 137.70) rotate(-90) scale(1.0000 1.040)"><text x="-18.69" y="0" font-size="28.00">ΔA</text></g>
<path d="M375.6 269.1H424.9" stroke="#000" stroke-width="3.2" stroke-linecap="round"/>
<g transform="translate(431.20 276.70) scale(1.0000 1.040)"><text x="0.00" y="0" font-size="22.00">oxidized</text></g>
<path d="M536.6 269.1H586.4" stroke="#00d200" stroke-width="3.2" stroke-linecap="round"/>
<g transform="translate(592.20 276.70) scale(1.0000 1.040)"><text x="0.00" y="0" font-size="22.00">60</text></g>
<path d="M375.6 296.1H424.9" stroke="#9100c4" stroke-width="3.2" stroke-linecap="round"/>
<g transform="translate(431.20 303.65) scale(1.0000 1.040)"><text x="0.00" y="0" font-size="22.00">0</text></g>
<path d="M536.6 296.1H586.4" stroke="#94e02c" stroke-width="3.2" stroke-linecap="round"/>
<g transform="translate(592.20 303.65) scale(1.0000 1.040)"><text x="0.00" y="0" font-size="22.00">70</text></g>
<path d="M375.6 323.0H424.9" stroke="#5f00d2" stroke-width="3.2" stroke-linecap="round"/>
<g transform="translate(431.20 330.60) scale(1.0000 1.040)"><text x="0.00" y="0" font-size="22.00"> 0</text><path transform="translate(0.00 0) scale(0.01074 -0.01074)" stroke="#000" stroke-width="32.58" d="M763 0H583V1098Q518 1038 412 979Q307 920 223 891V1058Q374 1126 487 1222Q600 1319 647 1409H763Z"/></g>
<path d="M536.6 323.0H586.4" stroke="#e0d42a" stroke-width="3.2" stroke-linecap="round"/>
<g transform="translate(592.20 330.60) scale(1.0000 1.040)"><text x="0.00" y="0" font-size="22.00">80</text></g>
<path d="M375.6 350.0H424.9" stroke="#1428f0" stroke-width="3.2" stroke-linecap="round"/>
<g transform="translate(431.20 357.55) scale(1.0000 1.040)"><text x="0.00" y="0" font-size="22.00">20</text></g>
<path d="M536.6 350.0H586.4" stroke="#dea828" stroke-width="3.2" stroke-linecap="round"/>
<g transform="translate(592.20 357.55) scale(1.0000 1.040)"><text x="0.00" y="0" font-size="22.00">90</text></g>
<path d="M375.6 376.9H424.9" stroke="#0896f5" stroke-width="3.2" stroke-linecap="round"/>
<g transform="translate(431.20 384.50) scale(1.0000 1.040)"><text x="0.00" y="0" font-size="22.00">30</text></g>
<path d="M536.6 376.9H586.4" stroke="#ec7c22" stroke-width="3.2" stroke-linecap="round"/>
<g transform="translate(592.20 384.50) scale(1.0000 1.040)"><text x="0.00" y="0" font-size="22.00"> 00</text><path transform="translate(0.00 0) scale(0.01074 -0.01074)" stroke="#000" stroke-width="32.58" d="M763 0H583V1098Q518 1038 412 979Q307 920 223 891V1058Q374 1126 487 1222Q600 1319 647 1409H763Z"/></g>
<path d="M375.6 403.9H424.9" stroke="#08c2c4" stroke-width="3.2" stroke-linecap="round"/>
<g transform="translate(431.20 411.45) scale(1.0000 1.040)"><text x="0.00" y="0" font-size="22.00">40</text></g>
<path d="M536.6 403.9H586.4" stroke="#f02c2c" stroke-width="3.2" stroke-linecap="round"/>
<g transform="translate(592.20 411.45) scale(1.0000 1.040)"><text x="0.00" y="0" font-size="22.00">  0</text><path transform="translate(0.00 0) scale(0.01074 -0.01074)" stroke="#000" stroke-width="32.58" d="M763 0H583V1098Q518 1038 412 979Q307 920 223 891V1058Q374 1126 487 1222Q600 1319 647 1409H763Z"/><path transform="translate(12.24 0) scale(0.01074 -0.01074)" stroke="#000" stroke-width="32.58" d="M763 0H583V1098Q518 1038 412 979Q307 920 223 891V1058Q374 1126 487 1222Q600 1319 647 1409H763Z"/></g>
<path d="M375.6 430.8H424.9" stroke="#08cd84" stroke-width="3.2" stroke-linecap="round"/>
<g transform="translate(431.20 438.40) scale(1.0000 1.040)"><text x="0.00" y="0" font-size="22.00">50</text></g>
<path d="M536.6 430.8H586.4" stroke="#e8007c" stroke-width="3.2" stroke-linecap="round"/>
<g transform="translate(592.20 438.40) scale(1.0000 1.040)"><text x="0.00" y="0" font-size="22.00"> 20 min</text><path transform="translate(0.00 0) scale(0.01074 -0.01074)" stroke="#000" stroke-width="32.58" d="M763 0H583V1098Q518 1038 412 979Q307 920 223 891V1058Q374 1126 487 1222Q600 1319 647 1409H763Z"/></g>
<g transform="translate(2.90 37.60) scale(1.0000 1.040)"><text x="0.00" y="0" font-size="48.00" letter-spacing="2.30">(a)</text></g>
<g transform="translate(329.00 37.60) scale(1.0000 1.040)"><text x="0.00" y="0" font-size="48.00"><tspan font-style="italic">At</tspan>64</text></g>
<path d="M149.6 423.3l1.1 23.3l1 23.3l1.1 23.3l1.1 23.3l1 23.3l1.1 23.3l1.1 23.3l1 23.4l1.1 23.3l1.1 26.8l1 23l1.1 17.9l1.1 14l1 11.9l1.1 11.8l1.1 11.5l1 10.4l1.1 8.5l1.1 7.5l1 6.7l1.1 5.5l1.1 4.4l1.1 4.6l1 2.6l1.1 2.2l1.1 3.1l1 .8l1.1 0l1.1 2.1l1 .3l1.1 -.6l1.1 -.5l1 .9l1.1 .9l1.1 -.6l1 -.8l1.1 1l1.1 1.2l1 -1l1.1 -1.3l1.1 -.4l1 1.6l1.1 .2l1.1 -2.4l1 -.5l1.1 .7l1.1 -.5l1 -2.9l1.1 -1.3l1.1 .2l1 -.6l1.1 -.8l1.1 -.3l1 .2l1.1 1.1l1.1 2l1 .5l1.1 2.6l1.1 2.4l1 3.2l1.1 3.4l1.1 3.4l1 2.9l1.1 2.4l1.1 2.3l1 2l1.1 1.7l1.1 1l1.1 .8l1 .6l1.1 .6l1.1 .8l1 1.2l1.1 2.1l1.1 2.8l1 3.6l1.1 4.1l1.1 6.3l1 7.9l1.1 7.7l1.1 7.2l1 7l1.1 7l1.1 6.9l1 6.9l1.1 6.1l1.1 5.2l1 4.6l1.1 3.9l1.1 2.9l1 2.7l1.1 2.3l1.1 1.6l1 .8l1.1 .4l1.1 .4l1 .3l1.1 .2l1.1 .1l1 .1l1.1 -.1l1.1 -.3l1 -.4l1.1 -.6l1.1 -.6l1 -.8l1.1 -1.4l1.1 -1.8l1 -2l1.1 -2.3l1.1 -2.2l1 -2l1.1 -1.7l1.1 -1.6l1.1 -1.6l1 -1.5l1.1 -1.4l1.1 -1.3l1 -1.1l1.1 -1.1l1.1 -1l1 -1l1.1 -.7l1.1 -.3l1 0l1.1 0l1.1 0l1 0l1.1 0l1.1 0l1 -.1l1.1 -.8l1.1 -1.6l1 -2.1l1.1 -2.4l1.1 -2.4l1 -2.1l1.1 -1.8l1.1 -1.9l1 -1.9l1.1 -1.9l1.1 -1.6l1 -1.4l1.1 -.9l1.1 -.6l1 -.5l1.1 -.2l1.1 .4l1 .9l1.1 1.8l1.1 2.9l1 3.6l1.1 3.9l1.1 3.7l1 3.9l1.1 4.6l1.1 4.7l1 4.4l1.1 3.7l1.1 2.5l1.1 1.2l1 .9l1.1 .7l1.1 .6l1 .5l1.1 .3l1.1 .2l1 -.1l1.1 -.2l1.1 -.4l1 -.4l1.1 -.3l1.1 -.2l1 0l1.1 .4l1.1 .8l1 1.2l1.1 1.6l1.1 2l1 4.9l1.1 7.6l1.1 8.8l1 8.6l1.1 7.1l1.1 6.8l1 6.8l1.1 6.6l1.1 6.4l1 6l1.1 5.6l1.1 5.1l1 5.1l1.1 5l1.1 4.6l1 4.1l1.1 3.4l1.1 2.6l1 2.1l1.1 1.9l1.1 1.8l1 1.6l1.1 1.4l1.1 1.3l1 1.2l1.1 1l1.1 .9l1.1 .8l1 .8l1.1 .8l1.1 .7l1 .5l1.1 .7l1.1 .4l1 .3l1.1 1l1.1 .4l1 .3l1.1 .6l1.1 .5l1 .2l1.1 .1l1.1 .6l1 .1l1.1 .3l1.1 .1l1 .2l1.1 .4l1.1 .5l1 .4l1.1 -.4l2.1 .4l2.2 1l2.1 .5l2.1 1l2.2 1l2.1 .5l2.1 .2l2.2 .3l2.1 1.1l2.1 .3l2.2 .4l2.1 1.1l2.2 .3l2.1 .6l2.1 .4l2.2 .6l2.1 .6l2.1 .1l2.2 1.4l2.1 .8l2.1 -.6l2.2 1.1l2.1 1l2.1 -.8l2.2 .8l2.1 2l2.1 .6l2.2 .8l2.1 .4l2.1 .2l2.2 .3l2.1 .4l2.2 1.3l2.1 .6l2.1 .1l2.2 -.3l2.1 .3l2.1 .7l2.2 .8l2.1 .7l2.1 .3l2.2 .3l2.1 .9l2.1 .4l2.2 -.2l2.1 1.6l2.1 .5l2.2 -.7l2.1 .5l2.1 .9l2.2 .5l2.1 -.5l2.1 .2l2.2 .3l2.1 .9l2.2 1.1l2.1 -.3l2.1 .6l2.2 .7l2.1 -.2l2.1 .8l2.2 .7l2.1 -.6l2.1 .9l2.2 1.5l2.1 .4l2.1 .2l2.2 -.2l2.1 .6l2.1 1.3l2.2 .4l2.1 .4l2.1 0l2.2 .3l2.1 1.1l2.1 -.3l2.2 -.4l2.1 .7l2.2 1.1l2.1 .8l2.1 .4l2.2 .2l2.1 .5l2.1 .5l2.2 .7l2.1 .5l2.1 .2l2.2 .4l2.1 .3l2.1 .6l2.2 .3l2.1 .7l2.1 .5l2.2 0l2.1 .1l2.1 .2l2.2 .6l2.1 .4l2.1 .1l2.2 -.1l2.1 .5l2.2 .7l2.1 .5l2.1 .6l2.2 0l2.1 -.8l2.1 .4l2.2 .3l2.1 -.1l2.1 1.1l2.2 .9l2.1 -.3l2.1 -.1l2.2 .4l2.1 -.1l2.1 .4l2.2 .7l2.1 .7l2.1 0l2.2 0l2.1 .3l2.1 .3l2.2 .1l2.1 .2l2.2 .4l2.1 -.3l2.1 .3l2.2 .7l2.1 .4l2.1 .5l2.2 .4l2.1 -1.1l2.1 -.2l2.2 .4l2.1 .2" stroke="#000" stroke-width="3.30" fill="none" stroke-linejoin="round" stroke-linecap="round" clip-path="url(#cb)"/>
<path d="M149.6 256.3l1.1 24.9l1 24.8l1.1 24.8l1.1 24.9l1 24.8l1.1 24.9l1.1 24.8l1 24.8l1.1 24.9l1.1 24.8l1 24.9l1.1 24.8l1.1 24.8l1 24.9l1.1 24.8l1.1 24.9l1 25.9l1.1 22l1.1 17l1 14.1l1.1 11.9l1.1 9.6l1.1 9.2l1 10.6l1.1 11.6l1.1 10.8l1 8.7l1.1 7.4l1.1 6.7l1 6.1l1.1 5.4l1.1 4.9l1 4.6l1.1 4.3l1.1 4l1 3.6l1.1 3.1l1.1 2.6l1 1.9l1.1 1.8l1.1 1.5l1 1.4l1.1 1.2l1.1 1.2l1 1.1l1.1 1.1l1.1 1.2l1 1.2l1.1 1.1l1.1 1.1l1 1.1l1.1 1l1.1 1.1l1 1l1.1 1l1.1 1l1 1l1.1 .9l1.1 1l1 1l1.1 .9l1.1 .9l1 .9l1.1 .9l1.1 .9l1 .9l1.1 .8l1.1 .8l1.1 .8l1 .8l1.1 .8l1.1 .8l1 .9l1.1 .9l1.1 1l1 .9l1.1 1.1l1.1 1.1l1 1.2l1.1 1.5l1.1 1.6l1 1.7l1.1 1.9l1.1 1.8l1 1.8l1.1 1.9l1.1 1.9l1 2l1.1 2l1.1 2l1 2.1l1.1 2.1l1.1 2.1l1 2.2l1.1 2.2l1.1 2.3l1 2.3l1.1 2.3l1.1 2.4l1 2.3l1.1 2.4l1.1 2.5l1 2.5l1.1 2.5l1.1 2.5l1 2.2l1.1 2.1l1.1 1.8l1 1.6l1.1 1.6l1.1 1.5l1 1.4l1.1 1.4l1.1 1.3l1.1 1.3l1 1.2l1.1 1.2l1.1 1.2l1 1.1l1.1 1.1l1.1 1.1l1 1.1l1.1 1.1l1.1 1.1l1 1l1.1 1.1l1.1 .9l1 1l1.1 .9l1.1 .9l1 .9l1.1 .9l1.1 .9l1 .8l1.1 .8l1.1 .9l1 .8l1.1 .9l1.1 .8l1 .9l1.1 .9l1.1 .9l1 .9l1.1 .9l1.1 1l1 1l1.1 1.1l1.1 1.1l1 1.1l1.1 1.3l1.1 1.3l1 1.4l1.1 1.4l1.1 1.4l1 1.5l1.1 1.4l1.1 1.4l1 1.4l1.1 1.3l1.1 1.3l1.1 1.2l1 1.1l1.1 1.1l1.1 .9l1 .8l1.1 .7l1.1 .8l1 .6l1.1 .7l1.1 .6l1 .6l1.1 .5l1.1 .6l1 .6l1.1 .5l1.1 .6l1 .6l1.1 .6l1.1 .7l1 .7l1.1 .7l1.1 .8l1 .8l1.1 .8l1.1 .9l1 .8l1.1 .9l1.1 .9l1 .9l1.1 .9l1.1 .9l1 .9l1.1 .8l1.1 .9l1 .8l1.1 .8l1.1 .8l1 .7l1.1 .7l1.1 .8l1 .7l1.1 .7l1.1 .8l1 .6l1.1 .7l1.1 .7l1.1 .6l1 .6l1.1 .6l1.1 .6l1 .4l1.1 .6l1.1 .6l1 .4l1.1 .1l1.1 0l1 .6l1.1 .6l1.1 .6l1 1.2l1.1 -.5l1.1 -.5l1 1.2l1.1 1.2l1.1 .4l1 0l1.1 .5l1.1 .4l1 .7l1.1 .4l2.1 -.3l2.2 .3l2.1 1.2l2.1 .5l2.2 .5l2.1 .7l2.1 .4l2.2 1l2.1 .7l2.1 0l2.2 .4l2.1 .9l2.2 1.4l2.1 .6l2.1 .3l2.2 .6l2.1 -.7l2.1 .5l2.2 .9l2.1 -.1l2.1 .4l2.2 1.5l2.1 .3l2.1 -.3l2.2 1.3l2.1 .8l2.1 -.4l2.2 .1l2.1 .8l2.1 .4l2.2 .9l2.1 .3l2.2 .1l2.1 1l2.1 0l2.2 -.2l2.1 1.1l2.1 .2l2.2 0l2.1 .4l2.1 .6l2.2 .7l2.1 .5l2.1 1l2.2 .1l2.1 -.1l2.1 .5l2.2 .5l2.1 -.1l2.1 .7l2.2 .8l2.1 .3l2.1 -.1l2.2 .4l2.1 1.4l2.2 .3l2.1 -.7l2.1 .2l2.2 .8l2.1 .5l2.1 .3l2.2 .5l2.1 .4l2.1 .3l2.2 .3l2.1 .4l2.1 1l2.2 .3l2.1 .3l2.1 .4l2.2 .1l2.1 .7l2.1 1l2.2 .3l2.1 .4l2.1 .3l2.2 0l2.1 1.2l2.2 .7l2.1 -.1l2.1 -.2l2.2 1.1l2.1 .4l2.1 .3l2.2 .7l2.1 .2l2.1 1.4l2.2 .9l2.1 -.1l2.1 -.5l2.2 .2l2.1 .9l2.1 .2l2.2 .8l2.1 -.1l2.1 0l2.2 .9l2.1 0l2.1 .8l2.2 .2l2.1 -.3l2.2 .7l2.1 -.4l2.1 -.2l2.2 .7l2.1 .9l2.1 .9l2.2 .2l2.1 0l2.1 -.6l2.2 .2l2.1 .8l2.1 .6l2.2 .8l2.1 .6l2.1 .1l2.2 -.2l2.1 -.3l2.1 0l2.2 .1l2.1 .5l2.1 .3l2.2 -.1l2.1 .3l2.2 .2l2.1 .6l2.1 .2l2.2 .2l2.1 .1l2.1 .6l2.2 .3l2.1 .1l2.1 1.1l2.2 -.9l2.1 -.8" stroke="#0000e2" stroke-width="3.00" fill="none" stroke-linejoin="round" stroke-linecap="round" clip-path="url(#cb)"/>
<path d="M149.6 394.0l1.1 13l1 12.9l1.1 13l1.1 13l1 12.9l1.1 13l1.1 12.9l1 13l1.1 13l1.1 12.9l1 13l1.1 12.9l1.1 13l1 13l1.1 12.9l1.1 13l1 12.9l1.1 13l1.1 13l1 12.9l1.1 13l1.1 14.6l1.1 12.4l1 8.4l1.1 7.2l1.1 6.4l1 5.6l1.1 5.2l1.1 4.7l1 4.4l1.1 4.3l1.1 4.4l1 4.2l1.1 4.1l1.1 3.9l1 3.8l1.1 3.6l1.1 3.4l1 3.2l1.1 3l1.1 2.8l1 2.6l1.1 2.2l1.1 2l1 1.9l1.1 2l1.1 2.1l1 2.4l1.1 2.4l1.1 2.6l1 2.6l1.1 2.7l1.1 2.8l1 2.9l1.1 2.8l1.1 3l1 3.2l1.1 3.3l1.1 3.5l1 3.4l1.1 3.3l1.1 3l1 2.7l1.1 2.3l1.1 2l1 1.9l1.1 1.8l1.1 1.8l1.1 1.8l1 1.7l1.1 1.6l1.1 1.6l1 1.6l1.1 1.8l1.1 2l1 2.3l1.1 2.9l1.1 3.4l1 3.7l1.1 3.4l1.1 3.5l1 3.5l1.1 3.5l1.1 3.4l1 3.1l1.1 2.9l1.1 2.7l1 2.6l1.1 2.5l1.1 2.4l1 2.3l1.1 2.4l1.1 2.2l1 2.3l1.1 2.2l1.1 2.1l1 2l1.1 1.8l1.1 1.7l1 1.7l1.1 1.6l1.1 1.5l1 1.4l1.1 1.5l1.1 1.3l1 1.4l1.1 1.3l1.1 1.3l1 1.3l1.1 1.2l1.1 1.2l1 1.1l1.1 .9l1.1 .8l1.1 .8l1 .7l1.1 .7l1.1 .6l1 .7l1.1 .6l1.1 .7l1 .8l1.1 .8l1.1 .9l1 1l1.1 1l1.1 1l1 .9l1.1 .8l1.1 .6l1 .4l1.1 .4l1.1 .3l1 .2l1.1 .2l1.1 .2l1 .2l1.1 .1l1.1 .2l1 .2l1.1 .2l1.1 .3l1 .3l1.1 .4l1.1 .6l1 .8l1.1 1l1.1 1.2l1 1.2l1.1 1.4l1.1 1.4l1 1.8l1.1 2.1l1.1 2.3l1 2.5l1.1 2.6l1.1 2.5l1 2.3l1.1 2.1l1.1 1.7l1.1 1.3l1 1.1l1.1 1l1.1 .9l1 .8l1.1 .8l1.1 .7l1 .8l1.1 .9l1.1 .9l1 1.1l1.1 1l1.1 1.1l1 1.2l1.1 1.2l1.1 1.2l1 1.3l1.1 1.4l1.1 1.4l1 1.5l1.1 1.6l1.1 1.8l1 2l1.1 2.2l1.1 2.2l1 2.3l1.1 2.3l1.1 2.2l1 2.2l1.1 2.1l1.1 2l1 2.1l1.1 2.1l1.1 2.1l1 2.1l1.1 2l1.1 1.8l1 1.7l1.1 1.3l1.1 1.1l1 .8l1.1 .7l1.1 .6l1 .6l1.1 .6l1.1 .4l1.1 .5l1 .5l1.1 .3l1.1 .4l1 .4l1.1 .5l1.1 0l1 .3l1.1 .9l1.1 .8l1 .1l1.1 -.1l1.1 .9l1 .4l1.1 0l1.1 .7l1 .6l1.1 .1l1.1 -.3l1 .7l1.1 .5l1.1 -.2l1 1l1.1 .8l2.1 -.5l2.2 0l2.1 .8l2.1 .3l2.2 -.1l2.1 1l2.1 1.3l2.2 .2l2.1 .1l2.1 .4l2.2 .8l2.1 0l2.2 .2l2.1 .6l2.1 .8l2.2 .8l2.1 -.1l2.1 .2l2.2 1.6l2.1 .4l2.1 0l2.2 .7l2.1 .9l2.1 .8l2.2 0l2.1 .2l2.1 .6l2.2 1.3l2.1 .8l2.1 -.1l2.2 .9l2.1 .9l2.2 -.2l2.1 .7l2.1 .7l2.2 .3l2.1 .6l2.1 .8l2.2 .6l2.1 .1l2.1 .9l2.2 1l2.1 .8l2.1 .9l2.2 .5l2.1 .4l2.1 .9l2.2 .4l2.1 -.1l2.1 .8l2.2 0l2.1 .4l2.1 1.5l2.2 .6l2.1 .9l2.2 1l2.1 .2l2.1 .3l2.2 .9l2.1 .5l2.1 .1l2.2 1.1l2.1 .9l2.1 1l2.2 .4l2.1 -.7l2.1 .9l2.2 1.6l2.1 .3l2.1 .6l2.2 1.2l2.1 -.1l2.1 -.3l2.2 .4l2.1 .8l2.1 1.2l2.2 .5l2.1 -.2l2.2 .1l2.1 .4l2.1 .2l2.2 .5l2.1 .5l2.1 .9l2.2 1.1l2.1 .7l2.1 .3l2.2 0l2.1 .4l2.1 .9l2.2 .3l2.1 .2l2.1 .4l2.2 .2l2.1 .5l2.1 .1l2.2 .7l2.1 .2l2.1 .1l2.2 .4l2.1 .6l2.2 1l2.1 -.4l2.1 -.2l2.2 .2l2.1 .4l2.1 .7l2.2 1.1l2.1 -.3l2.1 -.2l2.2 .5l2.1 0l2.1 .7l2.2 .3l2.1 .1l2.1 0l2.2 .2l2.1 .3l2.1 .7l2.2 -.3l2.1 -.3l2.1 .3l2.2 .1l2.1 .3l2.2 .9l2.1 1.2l2.1 .4l2.2 -.9l2.1 -.2l2.1 .2l2.2 .4l2.1 1l2.1 .2l2.2 .1l2.1 0" stroke="#0890f0" stroke-width="2.90" fill="none" stroke-linejoin="round" stroke-linecap="round" clip-path="url(#cb)"/>
<path d="M149.6 421.2l1.1 11.1l1 11.1l1.1 11.1l1.1 11.1l1 11.1l1.1 11.1l1.1 11.1l1 11.1l1.1 11.1l1.1 11.1l1 11.1l1.1 11.1l1.1 11.1l1 11.1l1.1 11.1l1.1 11.2l1 11.1l1.1 11.1l1.1 11.1l1 11.1l1.1 11.1l1.1 11.5l1.1 11.9l1 11l1.1 9l1.1 6.4l1 5l1.1 4.2l1.1 3.7l1 3.5l1.1 3.4l1.1 3.2l1 3l1.1 2.7l1.1 2.4l1 2.1l1.1 1.9l1.1 1.7l1 1.7l1.1 1.6l1.1 1.6l1 1.7l1.1 1.7l1.1 1.7l1 1.7l1.1 1.7l1.1 1.8l1 1.8l1.1 1.8l1.1 1.9l1 2l1.1 2l1.1 2l1 2l1.1 2.3l1.1 2.6l1 3.6l1.1 4.4l1.1 4.7l1 4.4l1.1 4.4l1.1 4.4l1 4.2l1.1 3.7l1.1 3l1 2.4l1.1 2l1.1 1.9l1.1 1.7l1 1.7l1.1 1.8l1.1 1.9l1 2l1.1 2l1.1 2.3l1 2.8l1.1 3.8l1.1 4.6l1 5.3l1.1 6.1l1.1 7l1 6.9l1.1 6.5l1.1 6.5l1 5.9l1.1 5.3l1.1 4.8l1 4.5l1.1 4.4l1.1 4.3l1 4l1.1 3.1l1.1 2.7l1 2.5l1.1 2.2l1.1 1.9l1 1.4l1.1 1.1l1.1 1.1l1 1l1.1 .8l1.1 .8l1 .5l1.1 .4l1.1 0l1 -.4l1.1 -.8l1.1 -1.1l1 -1.2l1.1 -1.2l1.1 -1.1l1 -1.1l1.1 -1.2l1.1 -1.2l1.1 -1.3l1 -1.2l1.1 -1.2l1.1 -1l1 -.8l1.1 -.8l1.1 -.8l1 -.6l1.1 -.3l1.1 0l1 .4l1.1 .4l1.1 .5l1 .4l1.1 .4l1.1 .4l1 .4l1.1 0l1.1 -.4l1 -.6l1.1 -.7l1.1 -.7l1 -.7l1.1 -.6l1.1 -.7l1 -.9l1.1 -1l1.1 -.9l1 -.8l1.1 -.6l1.1 -.5l1 -.3l1.1 -.1l1.1 .4l1 1.1l1.1 1.3l1.1 2l1 2.8l1.1 3.3l1.1 3.3l1 3.4l1.1 3.9l1.1 4l1 3.8l1.1 3.2l1.1 2.3l1.1 1.2l1 .9l1.1 .9l1.1 .7l1 .6l1.1 .5l1.1 .3l1 .3l1.1 .1l1.1 .1l1 .1l1.1 .2l1.1 .2l1 .3l1.1 .7l1.1 1l1 1.2l1.1 1.5l1.1 1.8l1 3.7l1.1 5.3l1.1 6.1l1 6.1l1.1 5.3l1.1 5.2l1 5.2l1.1 5.1l1.1 5l1 4.7l1.1 4.3l1.1 4.1l1 4l1.1 3.9l1.1 3.8l1 3.3l1.1 2.9l1.1 2.2l1 1.7l1.1 1.6l1.1 1.4l1 1.3l1.1 1.1l1.1 1l1 .9l1.1 .8l1.1 .7l1.1 .6l1 .8l1.1 .6l1.1 .2l1 .3l1.1 .3l1.1 .1l1 .5l1.1 .7l1.1 .6l1 0l1.1 .1l1.1 1.1l1 -.4l1.1 .1l1.1 .4l1 .2l1.1 1.3l1.1 0l1 -.2l1.1 0l1.1 .2l1 .8l1.1 0l2.1 0l2.2 .5l2.1 .6l2.1 -.4l2.2 .1l2.1 .6l2.1 .4l2.2 .8l2.1 .2l2.1 .4l2.2 -.1l2.1 -.3l2.2 .3l2.1 .5l2.1 .7l2.2 .3l2.1 0l2.1 .5l2.2 .6l2.1 .7l2.1 .5l2.2 .6l2.1 .7l2.1 -.6l2.2 .4l2.1 .6l2.1 .8l2.2 1.4l2.1 .1l2.1 .2l2.2 0l2.1 -.5l2.2 .8l2.1 1.1l2.1 .2l2.2 .6l2.1 1.1l2.1 .6l2.2 1l2.1 .6l2.1 -.1l2.2 .3l2.1 .9l2.1 .2l2.2 .8l2.1 1.2l2.1 .2l2.2 .1l2.1 2l2.1 1.2l2.2 -.2l2.1 1.1l2.1 .9l2.2 .5l2.1 .9l2.2 .7l2.1 1.1l2.1 .9l2.2 1l2.1 1.8l2.1 .4l2.2 1.5l2.1 1.1l2.1 .6l2.2 1.2l2.1 .6l2.1 .9l2.2 1.6l2.1 1.4l2.1 .6l2.2 .7l2.1 .4l2.1 .5l2.2 .3l2.1 .8l2.1 .7l2.2 .3l2.1 0l2.2 .5l2.1 1.1l2.1 .5l2.2 .3l2.1 .6l2.1 0l2.2 .2l2.1 .5l2.1 .6l2.2 .6l2.1 .8l2.1 .1l2.2 -.6l2.1 .9l2.1 .9l2.2 .1l2.1 1.3l2.1 .8l2.2 -.3l2.1 .1l2.1 .2l2.2 .3l2.1 .1l2.2 -.3l2.1 .3l2.1 1.1l2.2 .9l2.1 -.5l2.1 .2l2.2 .4l2.1 .2l2.1 .2l2.2 .2l2.1 .4l2.1 -.2l2.2 .3l2.1 .4l2.1 .1l2.2 -.3l2.1 1l2.1 .6l2.2 -.9l2.1 -.4l2.1 -.1l2.2 .8l2.1 1.6l2.2 -.1l2.1 -.3l2.1 .1l2.2 .7l2.1 1l2.1 -.1l2.2 .6l2.1 .6l2.1 .1l2.2 -.5l2.1 -.5" stroke="#08c0c0" stroke-width="2.90" fill="none" stroke-linejoin="round" stroke-linecap="round" clip-path="url(#cb)"/>
<path d="M149.6 425.9l1.1 10.7l1 10.8l1.1 10.8l1.1 10.8l1 10.8l1.1 10.8l1.1 10.8l1 10.7l1.1 10.8l1.1 10.8l1 10.8l1.1 10.8l1.1 10.8l1 10.7l1.1 10.8l1.1 10.8l1 10.8l1.1 10.8l1.1 10.8l1 10.7l1.1 10.8l1.1 11l1.1 11.8l1 11.5l1.1 9.3l1.1 6.3l1 4.9l1.1 4.1l1.1 3.5l1 3.4l1.1 3.2l1.1 3l1 2.8l1.1 2.5l1.1 2.1l1 1.8l1.1 1.6l1.1 1.4l1 1.4l1.1 1.3l1.1 1.5l1 1.5l1.1 1.6l1.1 1.6l1 1.7l1.1 1.6l1.1 1.7l1 1.8l1.1 1.7l1.1 1.8l1 1.8l1.1 1.9l1.1 1.8l1 2l1.1 2.1l1.1 2.6l1 3.6l1.1 4.6l1.1 4.9l1 4.6l1.1 4.6l1.1 4.6l1 4.5l1.1 3.9l1.1 3.2l1 2.5l1.1 2.1l1.1 1.8l1.1 1.7l1 1.7l1.1 1.9l1.1 2l1 1.9l1.1 2.1l1.1 2.4l1 2.9l1.1 3.9l1.1 4.9l1 5.5l1.1 6.6l1.1 7.7l1 7.5l1.1 7l1.1 7l1 6.5l1.1 5.6l1.1 5.2l1 4.7l1.1 4.6l1.1 4.6l1 4.1l1.1 3.1l1.1 2.7l1 2.5l1.1 2.1l1.1 1.8l1 1.3l1.1 1l1.1 1.1l1 .9l1.1 .8l1.1 .6l1 .5l1.1 .3l1.1 0l1 -.6l1.1 -.9l1.1 -1.2l1 -1.3l1.1 -1.2l1.1 -1.2l1 -1.2l1.1 -1.3l1.1 -1.3l1.1 -1.4l1 -1.3l1.1 -1.3l1.1 -1.3l1 -1.1l1.1 -1.2l1.1 -1.2l1 -1l1.1 -.8l1.1 -.5l1 -.1l1.1 0l1.1 .1l1 0l1.1 0l1.1 0l1 -.1l1.1 -.6l1.1 -1l1 -1.3l1.1 -1.4l1.1 -1.5l1 -1.4l1.1 -1.2l1.1 -1.2l1 -1.4l1.1 -1.4l1.1 -1.3l1 -1.2l1.1 -1.1l1.1 -.8l1 -.7l1.1 -.5l1.1 .1l1 .9l1.1 1.4l1.1 2l1 3.1l1.1 3.6l1.1 3.5l1 3.7l1.1 4.3l1.1 4.4l1 4.2l1.1 3.5l1.1 2.4l1.1 1.2l1 .8l1.1 .8l1.1 .6l1 .6l1.1 .3l1.1 .2l1 0l1.1 -.1l1.1 -.2l1 -.2l1.1 -.2l1.1 -.1l1 .1l1.1 .4l1.1 .9l1 1.3l1.1 1.5l1.1 1.9l1 4.3l1.1 6.6l1.1 7.5l1 7.5l1.1 6.3l1.1 6.1l1 6.1l1.1 6.1l1.1 5.8l1 5.6l1.1 5.1l1.1 4.7l1 4.8l1.1 4.6l1.1 4.3l1 3.8l1.1 3.2l1.1 2.4l1 1.9l1.1 1.7l1.1 1.5l1 1.4l1.1 1.3l1.1 1.1l1 1l1.1 .8l1.1 .8l1.1 .7l1 .5l1.1 .7l1.1 .5l1 .5l1.1 .4l1.1 .5l1 .1l1.1 .2l1.1 .1l1 -.2l1.1 .5l1.1 .4l1 .7l1.1 1.1l1.1 0l1 -.1l1.1 .3l1.1 .2l1 .3l1.1 .4l1.1 0l1 -.2l1.1 .2l2.1 .8l2.2 .4l2.1 .5l2.1 .4l2.2 .2l2.1 0l2.1 -.4l2.2 .8l2.1 .7l2.1 .1l2.2 .7l2.1 .4l2.2 -.2l2.1 .1l2.1 .8l2.2 .8l2.1 0l2.1 -.4l2.2 .5l2.1 .8l2.1 .4l2.2 .9l2.1 .1l2.1 .2l2.2 1l2.1 .5l2.1 0l2.2 .1l2.1 .4l2.1 .3l2.2 1l2.1 .9l2.2 -.2l2.1 .4l2.1 .5l2.2 -.6l2.1 1.3l2.1 1.9l2.2 -.3l2.1 -.1l2.1 1.1l2.2 .6l2.1 .3l2.1 .5l2.2 .8l2.1 .6l2.1 .7l2.2 .8l2.1 .4l2.1 .7l2.2 .5l2.1 1.3l2.1 .8l2.2 .5l2.1 1.7l2.2 1.2l2.1 1.1l2.1 1.4l2.2 .7l2.1 .7l2.1 1.4l2.2 .9l2.1 .8l2.1 1.5l2.2 .9l2.1 .3l2.1 1.1l2.2 1l2.1 1l2.1 .8l2.2 .8l2.1 .9l2.1 .7l2.2 1l2.1 .2l2.1 .7l2.2 .7l2.1 .2l2.2 .7l2.1 .2l2.1 -.2l2.2 1.1l2.1 .8l2.1 -.3l2.2 1l2.1 .7l2.1 .7l2.2 .9l2.1 0l2.1 -.1l2.2 .4l2.1 -.1l2.1 .2l2.2 .8l2.1 .1l2.1 .3l2.2 .1l2.1 .5l2.1 1.1l2.2 -.4l2.1 0l2.2 1.2l2.1 .3l2.1 -.5l2.2 -.2l2.1 .9l2.1 1.1l2.2 -.3l2.1 -.3l2.1 .3l2.2 .2l2.1 .6l2.1 .3l2.2 0l2.1 .9l2.1 .4l2.2 -.5l2.1 .7l2.1 .3l2.2 -.2l2.1 .5l2.1 0l2.2 .2l2.1 .9l2.2 .2l2.1 -.2l2.1 .1l2.2 -.3l2.1 .2l2.1 .8l2.2 .6l2.1 .2l2.1 -.2l2.2 -.1l2.1 .3" stroke="#90e028" stroke-width="2.90" fill="none" stroke-linejoin="round" stroke-linecap="round" clip-path="url(#cb)"/>
<path d="M149.6 429.1l1.1 10.6l1 10.5l1.1 10.6l1.1 10.6l1 10.5l1.1 10.6l1.1 10.5l1 10.6l1.1 10.6l1.1 10.5l1 10.6l1.1 10.6l1.1 10.5l1 10.6l1.1 10.5l1.1 10.6l1 10.6l1.1 10.5l1.1 10.6l1 10.6l1.1 10.5l1.1 10.6l1.1 11.8l1 11.8l1.1 9.5l1.1 6.3l1 4.9l1.1 3.9l1.1 3.4l1 3.3l1.1 3.1l1.1 2.9l1 2.6l1.1 2.3l1.1 2l1 1.6l1.1 1.4l1.1 1.2l1 1.2l1.1 1.2l1.1 1.3l1 1.5l1.1 1.5l1.1 1.6l1 1.7l1.1 1.6l1.1 1.7l1 1.7l1.1 1.6l1.1 1.7l1 1.8l1.1 1.8l1.1 1.8l1 1.9l1.1 2.1l1.1 2.5l1 3.7l1.1 4.7l1.1 5.1l1 4.7l1.1 4.7l1.1 4.8l1 4.6l1.1 4.1l1.1 3.4l1 2.5l1.1 2.1l1.1 1.9l1.1 1.7l1 1.7l1.1 1.9l1.1 2l1 2l1.1 2.1l1.1 2.5l1 2.9l1.1 4.1l1.1 5l1 5.6l1.1 7l1.1 7.9l1 7.9l1.1 7.4l1.1 7.2l1 6.8l1.1 5.9l1.1 5.3l1 4.9l1.1 4.8l1.1 4.7l1 4.2l1.1 3.2l1.1 2.7l1 2.5l1.1 2.1l1.1 1.7l1 1.2l1.1 1l1.1 1l1 .8l1.1 .7l1.1 .6l1 .4l1.1 .3l1.1 -.1l1 -.6l1.1 -1l1.1 -1.3l1 -1.3l1.1 -1.4l1.1 -1.2l1 -1.2l1.1 -1.3l1.1 -1.3l1.1 -1.4l1 -1.3l1.1 -1.3l1.1 -1.3l1 -1.1l1.1 -1.2l1.1 -1.2l1 -1.1l1.1 -.9l1.1 -.5l1 -.1l1.1 -.1l1.1 -.1l1 -.1l1.1 -.1l1.1 -.1l1 -.2l1.1 -.7l1.1 -1.2l1 -1.4l1.1 -1.6l1.1 -1.6l1 -1.5l1.1 -1.4l1.1 -1.3l1 -1.5l1.1 -1.4l1.1 -1.4l1 -1.3l1.1 -1.1l1.1 -.9l1 -.7l1.1 -.6l1.1 .1l1 .9l1.1 1.3l1.1 2.1l1 3.1l1.1 3.6l1.1 3.6l1 3.8l1.1 4.3l1.1 4.5l1 4.3l1.1 3.5l1.1 2.5l1.1 1.1l1 .9l1.1 .8l1.1 .6l1 .5l1.1 .3l1.1 .2l1 -.1l1.1 -.1l1.1 -.3l1 -.2l1.1 -.2l1.1 -.2l1 0l1.1 .5l1.1 .8l1 1.3l1.1 1.5l1.1 1.9l1 4.5l1.1 6.7l1.1 7.8l1 7.7l1.1 6.5l1.1 6.3l1 6.3l1.1 6.2l1.1 6l1 5.7l1.1 5.2l1.1 4.9l1 4.8l1.1 4.8l1.1 4.4l1 3.9l1.1 3.2l1.1 2.4l1 1.9l1.1 1.7l1.1 1.6l1 1.4l1.1 1.3l1.1 1.1l1 1l1.1 .9l1.1 .8l1.1 .6l1 .7l1.1 .5l1.1 .6l1 .4l1.1 .7l1.1 .6l1 -.1l1.1 .2l1.1 .3l1 .4l1.1 -.1l1.1 -.1l1 .8l1.1 .8l1.1 -.7l1 -.4l1.1 1l1.1 .9l1 .5l1.1 -.2l1.1 .2l1 .5l1.1 -.2l2.1 .4l2.2 .8l2.1 .5l2.1 .3l2.2 -.1l2.1 -.1l2.1 .1l2.2 .1l2.1 .6l2.1 .3l2.2 .6l2.1 .6l2.2 .3l2.1 .2l2.1 .5l2.2 .4l2.1 .3l2.1 .6l2.2 .3l2.1 .2l2.1 -.1l2.2 0l2.1 1.4l2.1 1.1l2.2 0l2.1 .2l2.1 .2l2.2 1.4l2.1 .3l2.1 -.5l2.2 .8l2.1 .1l2.2 0l2.1 .6l2.1 .8l2.2 .6l2.1 .8l2.1 .3l2.2 .4l2.1 1.4l2.1 .7l2.2 -.3l2.1 -.7l2.1 1.2l2.2 1.7l2.1 .1l2.1 .9l2.2 .7l2.1 .3l2.1 .5l2.2 .9l2.1 1l2.1 .6l2.2 1.5l2.1 1.3l2.2 .2l2.1 1.3l2.1 1.9l2.2 .6l2.1 .8l2.1 1.4l2.2 1l2.1 1l2.1 1.3l2.2 .7l2.1 1.4l2.1 .9l2.2 .1l2.1 1.7l2.1 1.8l2.2 .1l2.1 0l2.1 .3l2.2 1l2.1 1.1l2.1 -.1l2.2 .6l2.1 1.3l2.2 .6l2.1 .8l2.1 .6l2.2 -.1l2.1 .1l2.1 .5l2.2 .8l2.1 .5l2.1 .4l2.2 .2l2.1 .3l2.1 .7l2.2 0l2.1 -.4l2.1 .9l2.2 1l2.1 -.4l2.1 .2l2.2 .4l2.1 -.3l2.1 .3l2.2 .4l2.1 .4l2.2 .7l2.1 .6l2.1 .3l2.2 0l2.1 .2l2.1 .1l2.2 -.1l2.1 .7l2.1 .7l2.2 -.2l2.1 .3l2.1 .3l2.2 -.1l2.1 .5l2.1 .8l2.2 .1l2.1 -.6l2.1 .2l2.2 1.2l2.1 .2l2.1 .1l2.2 .4l2.1 .1l2.2 .2l2.1 -.5l2.1 .2l2.2 1.4l2.1 .3l2.1 -.3l2.2 .2l2.1 0l2.1 .4l2.2 .4l2.1 .8" stroke="#e0a828" stroke-width="2.90" fill="none" stroke-linejoin="round" stroke-linecap="round" clip-path="url(#cb)"/>
<path d="M149.6 430.2l1.1 10.5l1 10.5l1.1 10.5l1.1 10.5l1 10.4l1.1 10.5l1.1 10.5l1 10.5l1.1 10.5l1.1 10.5l1 10.5l1.1 10.5l1.1 10.4l1 10.5l1.1 10.5l1.1 10.5l1 10.5l1.1 10.5l1.1 10.5l1 10.5l1.1 10.4l1.1 10.5l1.1 11.8l1 11.9l1.1 9.5l1.1 6.4l1 4.8l1.1 3.9l1.1 3.4l1 3.2l1.1 3.1l1.1 2.8l1 2.6l1.1 2.3l1.1 1.9l1 1.5l1.1 1.3l1.1 1.2l1 1.1l1.1 1.2l1.1 1.2l1 1.5l1.1 1.5l1.1 1.6l1 1.6l1.1 1.6l1.1 1.7l1 1.6l1.1 1.7l1.1 1.7l1 1.7l1.1 1.8l1.1 1.8l1 1.8l1.1 2.1l1.1 2.5l1 3.7l1.1 4.7l1.1 5.2l1 4.8l1.1 4.7l1.1 4.8l1 4.7l1.1 4.2l1.1 3.4l1 2.5l1.1 2.1l1.1 1.9l1.1 1.7l1 1.7l1.1 1.9l1.1 2.1l1 2l1.1 2.1l1.1 2.4l1 3l1.1 4.1l1.1 5l1 5.8l1.1 7l1.1 8.1l1 8l1.1 7.5l1.1 7.4l1 6.8l1.1 6l1.1 5.4l1 5l1.1 4.8l1.1 4.9l1 4.3l1.1 3.2l1.1 2.7l1 2.5l1.1 2.1l1.1 1.6l1 1.3l1.1 .9l1.1 .9l1 .9l1.1 .7l1.1 .5l1 .4l1.1 .2l1.1 -.2l1 -.6l1.1 -1.1l1.1 -1.3l1 -1.5l1.1 -1.4l1.1 -1.2l1 -1.3l1.1 -1.4l1.1 -1.4l1.1 -1.4l1 -1.4l1.1 -1.4l1.1 -1.3l1 -1.2l1.1 -1.2l1.1 -1.3l1 -1.1l1.1 -1l1.1 -.5l1 -.2l1.1 -.2l1.1 -.1l1 -.1l1.1 -.1l1.1 -.1l1 -.3l1.1 -.7l1.1 -1.2l1 -1.5l1.1 -1.7l1.1 -1.6l1 -1.6l1.1 -1.3l1.1 -1.5l1 -1.5l1.1 -1.4l1.1 -1.5l1 -1.3l1.1 -1.2l1.1 -1l1 -.7l1.1 -.6l1.1 0l1 .9l1.1 1.3l1.1 2.1l1 3.2l1.1 3.7l1.1 3.6l1 3.8l1.1 4.4l1.1 4.6l1 4.3l1.1 3.6l1.1 2.4l1.1 1.2l1 .9l1.1 .7l1.1 .6l1 .5l1.1 .3l1.1 .2l1 -.1l1.1 -.2l1.1 -.3l1 -.3l1.1 -.2l1.1 -.2l1 0l1.1 .4l1.1 .8l1 1.3l1.1 1.5l1.1 2l1 4.5l1.1 6.9l1.1 8l1 7.9l1.1 6.6l1.1 6.4l1 6.4l1.1 6.4l1.1 6.1l1 5.8l1.1 5.3l1.1 4.9l1 5l1.1 4.8l1.1 4.5l1 4l1.1 3.2l1.1 2.4l1 1.9l1.1 1.8l1.1 1.6l1 1.4l1.1 1.3l1.1 1.1l1 1l1.1 .9l1.1 .8l1.1 .7l1 .5l1.1 .4l1.1 .5l1 .3l1.1 .6l1.1 .4l1 .1l1.1 .4l1.1 .7l1 .5l1.1 .4l1.1 .4l1 -.1l1.1 .5l1.1 .6l1 .1l1.1 -.3l1.1 .1l1 .1l1.1 .3l1.1 .6l1 .7l1.1 .6l2.1 .1l2.2 .1l2.1 .2l2.1 .9l2.2 .6l2.1 .3l2.1 -.1l2.2 -.5l2.1 .5l2.1 .2l2.2 0l2.1 0l2.2 .5l2.1 .6l2.1 .3l2.2 .3l2.1 -.4l2.1 .6l2.2 1.3l2.1 -.1l2.1 -.2l2.2 .7l2.1 .7l2.1 0l2.2 1.1l2.1 1.3l2.1 -.3l2.2 -.4l2.1 .7l2.1 1.7l2.2 .6l2.1 .2l2.2 -.2l2.1 .2l2.1 .3l2.2 1l2.1 1.2l2.1 -.8l2.2 -.3l2.1 1.4l2.1 1.1l2.2 .3l2.1 .7l2.1 1.3l2.2 .6l2.1 -.7l2.1 .5l2.2 .8l2.1 .5l2.1 1.2l2.2 1l2.1 .4l2.1 .9l2.2 1.1l2.1 1.2l2.2 1.3l2.1 1.1l2.1 1.2l2.2 1.2l2.1 1.2l2.1 .9l2.2 .9l2.1 1.1l2.1 .5l2.2 1.8l2.1 1.3l2.1 .1l2.2 1l2.1 .7l2.1 1.1l2.2 .8l2.1 .5l2.1 .4l2.2 .5l2.1 .7l2.1 1.4l2.2 .5l2.1 -.3l2.2 1l2.1 1.3l2.1 -.1l2.2 -.5l2.1 1l2.1 1.1l2.2 -.1l2.1 -.3l2.1 .6l2.2 1.2l2.1 .7l2.1 .4l2.2 .3l2.1 .1l2.1 .6l2.2 .3l2.1 .2l2.1 .1l2.2 0l2.1 .8l2.1 .4l2.2 -.1l2.1 .6l2.2 .7l2.1 .1l2.1 -.2l2.2 .6l2.1 1.3l2.1 -.3l2.2 -1l2.1 .3l2.1 .4l2.2 .1l2.1 .2l2.1 .9l2.2 .9l2.1 .5l2.1 .2l2.2 -.4l2.1 .3l2.1 .3l2.2 -.3l2.1 .1l2.1 .7l2.2 1l2.1 -.3l2.2 -.2l2.1 .4l2.1 .4l2.2 .4l2.1 .2l2.1 .1l2.2 -.3l2.1 0l2.1 .2l2.2 .8l2.1 1.3" stroke="#e8007a" stroke-width="3.00" fill="none" stroke-linejoin="round" stroke-linecap="round" clip-path="url(#cb)"/>
<rect x="149.6" y="700.1" width="533.7" height="429.7" fill="none" stroke="#000" stroke-width="2.3"/>
<path d="M149.6 1129.8v8.2M256.3 1129.8v8.2M256.3 700.1v7.5M363.1 1129.8v8.2M363.1 700.1v7.5M469.8 1129.8v8.2M469.8 700.1v7.5M576.6 1129.8v8.2M576.6 700.1v7.5M683.3 1129.8v8.2M203.0 1129.8v4.3M203.0 700.1v4M309.7 1129.8v4.3M309.7 700.1v4M416.4 1129.8v4.3M416.4 700.1v4M523.2 1129.8v4.3M523.2 700.1v4M629.9 1129.8v4.3M629.9 700.1v4M149.6 1113.3h-8.3M683.3 1113.3h-7.5M149.6 947.7h-8.3M683.3 947.7h-7.5M149.6 782.1h-8.3M683.3 782.1h-7.5M149.6 1030.5h-4.5M683.3 1030.5h-4M149.6 864.9h-4.5M683.3 864.9h-4" stroke="#000" stroke-width="2.1" fill="none"/>
<g transform="translate(135.60 1122.30) scale(1.0000 1.040)"><text x="-55.66" y="0" font-size="28.60">0.00</text></g>
<g transform="translate(135.60 956.70) scale(1.0000 1.040)"><text x="-55.66" y="0" font-size="28.60">0.05</text></g>
<g transform="translate(135.60 791.10) scale(1.0000 1.040)"><text x="-55.66" y="0" font-size="28.60">0. 0</text><path transform="translate(-31.81 0) scale(0.01396 -0.01396)" stroke="#000" stroke-width="25.06" d="M763 0H583V1098Q518 1038 412 979Q307 920 223 891V1058Q374 1126 487 1222Q600 1319 647 1409H763Z"/></g>
<g transform="translate(149.60 1166.00) scale(1.0000 1.040)"><text x="-23.86" y="0" font-size="28.60">300</text></g>
<g transform="translate(256.34 1166.00) scale(1.0000 1.040)"><text x="-23.86" y="0" font-size="28.60">400</text></g>
<g transform="translate(363.08 1166.00) scale(1.0000 1.040)"><text x="-23.86" y="0" font-size="28.60">500</text></g>
<g transform="translate(469.82 1166.00) scale(1.0000 1.040)"><text x="-23.86" y="0" font-size="28.60">600</text></g>
<g transform="translate(576.56 1166.00) scale(1.0000 1.040)"><text x="-23.86" y="0" font-size="28.60">700</text></g>
<g transform="translate(683.30 1166.00) scale(1.0000 1.040)"><text x="-23.86" y="0" font-size="28.60">800</text></g>
<g transform="translate(416.20 1219.60) scale(0.9850 1.040)"><text x="-140.85" y="0" font-size="37.00">Wavelength (nm)</text></g>
<g transform="translate(52.60 905.55) rotate(-90) scale(0.9850 1.040)"><text x="-98.73" y="0" font-size="37.00">Absorbance</text></g>
<path d="M349.1 845.2l1 -.5l1 -.4l1 -.7l1 -1.6l1 -1l1 -.9l1 -.9l1 -.4l1 -.5l1 -.3l1 -1l1 -.8l1 -.4l1 -.7l1 -.8l1 -1.3l1 -.7l1 .1l1 -.5l1 -1.2l1 -.8l1 -.2l1 -.8l1 -.5l1 -.6l1 -.8l1 -.4l1 .1l1 -.6l1 -1.3l1 -.3l1 -.6l1 -.7l1 -1.1l1 -.6l1 -.1l1 -1.1l1 -.4l1 -.5l1 -1.1l1 -1l1 -1l1 -.6l1 -.9l1 -.6l1 -.3l1 -1l1 -1.2l1 -.3l1 .2l1 .7l1 1.2l1 1.1l1 1.2l1 1.5l1 1.4l1 .8l1 1l1 1.3l1 .7l1 1.3l1 1l1 -.1l1 -.1l1 -.2l1 -.6l1 .2l1 .2l1 -.6l1 0l1 .3l1 -.1l1 0l1 .3l.9 .4l1 .5l1 .9l1 .5l1 .2l1 1.1l1 .8l1 1.3l1 1.4l1 1.2l1 1.9l1 1.9l1 2.4l1 2.4l1 1.8l1 1.2l1 1.5l1 1.8l1 1.4l1 1.9l1 1.1l1 .5l1 1l1 1.1l1 .8l1 -.1l1 .2l1 .8l1 .1l1 .4l1 .2l1 -.3l1 .3l1 .8l1 .9l1 .1l1 -.6l1 -.2l1 .4l1 .5l1 .2l1 -.2l1 -.2l1 -.2l1 .2l1 .2l1 -.7l1 .7l1 .8l1 -.2l1 0l1 -.3l1 .3l1 0l1 .3l1 .3l1 -.9l1 .3l1 1l1 -.3l1 -.1l1 0l1 -.3l1 -.5l1 .5l1 .6l1 -.2l1 -.1l1 -.2l1 .6l1 .2l1 -.4l1 -.1l1 .2l1 .5l1 -.1l1 -.2l1 -.1l1 .4l1 .2l1 -.3l1 .6l1 0l1 -.8l1 -.1l1 .3l1 .7l1 .2l1 -.5l1 .2l1 .4l1 -.4l1 0l1 .5l1 -.2l1 -.8l1 -.1l1 1l1 -.1l1 .3l1 .1l1 -.8l1 .1l1 .4l1 .1l1 -.1l1 .1l1 0l1 -.3l1 -.1l1 -.2l1 .4l1 .1l1 -.1l1 .2l1 .2l1 .3l1 .2l1 .1l1 -.1l1 -.3l1 -.4l1 .1l1 .3l1 -.3l1 .7l1 0l1 -.2l1 .7l1 -.1l1 .6l1 .1l1 -.7l1 .5l1 .1l1 -.7l1 0l1 .3l1 .3l1 .4l1 -.3l1 .1l1 1l1 -.1l1 -.5l1 .5l1 .5l1 -.2l1 -.4l1 .1l.9 .6l1 .7l1 -.7l1 -.6l1 .4l1 .4l1 .6l1 .6l1 .5l1 .3l1 -.2l1 .2l1 -.1l1 -.4l1 .3l1 .8l1 -.3l1 .2l1 .7l1 -.2l1 0l1 .2l1 .1l1 .4l1 -.2l1 .2l1 .6l1 0l1 -.6l1 -.6l1 .8l1 .5l1 -.3l1 .1l1 -.1l1 .2l1 .3l1 0l1 .4l1 0l1 .2l1 -.1l1 .4l1 .3l1 -.4l1 .7l1 -.1l1 .1l1 0l1 -.5l1 .2l1 .8l1 -.2l1 -.6l1 .1l1 .5l1 .4l1 .2l1 .2l1 -.1l1 -.6l1 .5l1 .6l1 -.3l1 0l1 -.2l1 .2l1 .5l1 .4l1 -.2l1 .2l1 -.2l1 -.3l1 0l1 .3l1 .1" stroke="#0890f0" stroke-width="1.9" fill="none" stroke-linejoin="round"/>
<path d="M349.1 845.2l1 -2.9l1 -4l1 -3.2l1 -2.6l1 -3.7l1 -3.6l1 -3l1 -3l1 -2.8l1 -2.3l1 -2.4l1 -2.8l1 -3l1 -2.3l1 -2.4l1 -2.8l1 -2.7l1 -2.5l1 -2.4l1 -1.4l1 -1.4l1 -1.7l1 -1.5l1 -.9l1 -1.3l1 -1.5l1 -1.4l1 -.8l1 -.3l1 -1.3l1 -1.5l1 -.6l1 -.9l1 -1.8l1 -1.8l1 -1.7l1 -1.1l1 -2.2l1 -2.2l1 -2.2l1 -3.2l1 -1.8l1 -2.3l1 -2.9l1 -2.8l1 -3l1 -2.2l1 -1.3l1 -1l1 -.6l1 1.5l1 2.6l1 2.6l1 2.6l1 1.9l1 2.7l1 2.9l1 2.3l1 2.9l1 2.4l1 1.5l1 .9l1 .5l1 .1l1 -.3l1 -.9l1 -.7l1 -.5l1 -.7l1 -.7l1 -.5l1 -.9l1 -1.1l1 -.8l.9 -.8l1 -.2l1 .7l1 1.5l1 1.8l1 1.7l1 1.8l1 4.3l1 6.7l1 7.3l1 6.7l1 6.5l1 6.4l1 6.7l1 7.2l1 6.3l1 5.2l1 4.5l1 4l1 2.4l1 2.3l1 2.8l1 2.5l1 1.2l1 .3l1 1.1l1 1.7l1 .8l1 .3l1 1.1l1 -.1l1 -.5l1 1.1l1 1l1 -.4l1 .2l1 .5l1 .1l1 0l1 0l1 .1l1 .3l1 .3l1 .5l1 .4l1 -.7l1 0l1 .9l1 0l1 0l1 0l1 -.1l1 -.1l1 0l1 -.1l1 .2l1 -.1l1 -.8l1 .5l1 .5l1 -.1l1 .1l1 -.1l1 -.3l1 0l1 .3l1 .1l1 .4l1 -.4l1 -.5l1 .3l1 -.2l1 -.5l1 0l1 .5l1 0l1 -.1l1 -.2l1 -.1l1 0l1 -.4l1 .2l1 .1l1 .3l1 -.4l1 -.3l1 .7l1 .1l1 -.6l1 -.7l1 -.2l1 .1l1 0l1 -.2l1 -.1l1 -.6l1 -.7l1 -.2l1 -.3l1 0l1 .2l1 .5l1 -.2l1 -.8l1 0l1 -.4l1 -.5l1 .3l1 -.1l1 -.3l1 -.4l1 -.5l1 0l1 .1l1 .1l1 .1l1 0l1 -.4l1 .2l1 .2l1 -.7l1 -.1l1 .3l1 .6l1 .4l1 -.6l1 -.1l1 .3l1 -.4l1 -.2l1 -.1l1 .1l1 -.1l1 0l1 .5l1 .1l1 .1l1 .5l1 .2l1 -.2l1 .3l1 .3l1 0l1 -.3l1 -.4l1 0l1 .3l1 .2l1 .2l1 .4l.9 0l1 .3l1 .4l1 -.5l1 0l1 -.5l1 .2l1 1l1 -.2l1 -.3l1 .7l1 .5l1 -.4l1 .6l1 .2l1 -.2l1 .5l1 .2l1 .3l1 .6l1 .4l1 0l1 .4l1 .7l1 .5l1 .1l1 .4l1 .7l1 .2l1 .1l1 .5l1 .8l1 .2l1 0l1 .6l1 1.2l1 .7l1 .3l1 .5l1 .2l1 .3l1 .2l1 .5l1 .5l1 0l1 -.1l1 .3l1 .4l1 .1l1 .7l1 .1l1 -.1l1 .7l1 .5l1 0l1 0l1 .4l1 -.2l1 -.4l1 0l1 .9l1 .7l1 -.4l1 0l1 .4l1 .3l1 .2l1 .9l1 -.1l1 -.4l1 .2l1 -.1l1 .1l1 .3l1 .2l1 .2" stroke="#08c0c0" stroke-width="1.9" fill="none" stroke-linejoin="round"/>
<path d="M349.1 852.7l1 -4.1l1 -3.5l1 -4.1l1 -4.6l1 -3.3l1 -4.8l1 -4.9l1 -4l1 -4.2l1 -4.2l1 -2.7l1 -2.3l1 -3.2l1 -2.2l1 -2.5l1 -2.3l1 -2.2l1 -2.2l1 -2.2l1 -2.3l1 -1.9l1 -2l1 -1.6l1 -1.7l1 -1.8l1 -1.4l1 -1.7l1 -2.2l1 -1.4l1 -.8l1 -1.1l1 -1.2l1 -1.5l1 -2l1 -2.2l1 -3.1l1 -3.5l1 -3.6l1 -4.6l1 -5.4l1 -5.9l1 -4.8l1 -3.5l1 -3.5l1 -2.6l1 -1.6l1 -1.4l1 -1.5l1 -1.4l1 0l1 1.2l1 1.6l1 1.9l1 2.6l1 3l1 3.1l1 3l1 2.9l1 2.8l1 2.8l1 2.2l1 1.7l1 .9l1 -.3l1 -1.3l1 -1.3l1 -1.3l1 -1.1l1 -.4l1 -.9l1 -.5l1 0l1 -1.1l1 -.6l.9 -.5l1 -.4l1 .9l1 1.6l1 1.8l1 2l1 3.3l1 6l1 6.5l1 7.6l1 8.1l1 7.3l1 7l1 6.7l1 7.6l1 7.6l1 6.6l1 6.4l1 5.4l1 5.5l1 4.6l1 3.3l1 3.4l1 2.3l1 1.7l1 1.2l1 1.2l1 1.3l1 1.3l1 1.2l1 1.4l1 1.1l1 .1l1 -.2l1 .5l1 .9l1 0l1 -.3l1 .3l1 .7l1 -.4l1 0l1 .1l1 0l1 1l1 .1l1 -.3l1 0l1 -.1l1 .6l1 .4l1 -.7l1 -.4l1 .1l1 .6l1 .1l1 -.3l1 -.1l1 -.6l1 .4l1 .3l1 -.5l1 -.2l1 0l1 0l1 -.2l1 .5l1 .4l1 -.1l1 -.2l1 -.3l1 .1l1 .1l1 .1l1 -.4l1 -.5l1 -.5l1 -.2l1 0l1 0l1 -.3l1 .4l1 .2l1 -1.1l1 -.4l1 0l1 .2l1 .4l1 -.5l1 -.3l1 -.1l1 -.1l1 .2l1 -.4l1 -.4l1 -.3l1 -.5l1 -.5l1 -.1l1 .1l1 -.4l1 -.2l1 -.2l1 -.4l1 -.3l1 .4l1 -.1l1 -.1l1 -.4l1 -.9l1 .2l1 .4l1 -.3l1 -.1l1 .3l1 .1l1 -.2l1 -.3l1 -.3l1 .1l1 .6l1 .5l1 -.3l1 -.4l1 .2l1 .6l1 -.2l1 -.4l1 1.3l1 .6l1 -.8l1 0l1 .6l1 .2l1 -.2l1 -.3l1 .3l1 .2l1 0l1 .1l1 -.3l1 .3l1 0l1 -.2l1 -.1l1 -.1l1 .1l1 -.1l1 .2l1 .5l.9 .4l1 0l1 -.4l1 0l1 .2l1 .1l1 -.4l1 0l1 .2l1 -.1l1 .2l1 0l1 .1l1 -.6l1 0l1 .5l1 .4l1 -.2l1 0l1 .8l1 .7l1 .7l1 .3l1 .1l1 .7l1 .7l1 .6l1 .4l1 .4l1 .4l1 .4l1 .8l1 .5l1 .3l1 .3l1 .5l1 .5l1 .8l1 1.2l1 .2l1 -.2l1 .3l1 .4l1 .4l1 .3l1 .3l1 .6l1 .5l1 -.8l1 0l1 .7l1 -.4l1 0l1 .6l1 .3l1 .4l1 -.1l1 .4l1 .8l1 .1l1 -.1l1 .1l1 .1l1 .5l1 .4l1 .4l1 -.1l1 .1l1 .1l1 -.3l1 .1l1 .3l1 .3l1 .2l1 .5l1 0" stroke="#90e028" stroke-width="1.9" fill="none" stroke-linejoin="round"/>
<path d="M349.1 853.4l1 -3.7l1 -4.1l1 -4.5l1 -4.1l1 -4l1 -4.5l1 -4.8l1 -5.1l1 -4.1l1 -2.9l1 -3.3l1 -3l1 -2.6l1 -2.6l1 -1.9l1 -2.2l1 -2.9l1 -2l1 -1.8l1 -1.9l1 -2.4l1 -2.4l1 -1.6l1 -2l1 -1.6l1 -1.9l1 -2.1l1 -1.4l1 -1.3l1 -.7l1 -1.2l1 -1.4l1 -1.6l1 -2.4l1 -2.2l1 -2.9l1 -3.9l1 -4l1 -4.6l1 -5.2l1 -6l1 -4.7l1 -3.4l1 -3.5l1 -2.7l1 -2.1l1 -1.8l1 -1l1 -1.1l1 -.4l1 1.3l1 1.5l1 2.3l1 2.6l1 3.1l1 3.4l1 3l1 3.1l1 2.3l1 1.7l1 2.4l1 2.1l1 1.4l1 -.4l1 -1.3l1 -.8l1 -.7l1 -1.2l1 -1.4l1 -.9l1 -1l1 -.9l1 -.6l1 .2l.9 0l1 -.4l1 .7l1 1.2l1 1.8l1 2.3l1 3.1l1 6l1 6.4l1 7.3l1 8.9l1 7.4l1 6.8l1 7.4l1 7.4l1 7.7l1 7.2l1 6.5l1 5.9l1 4.9l1 4.4l1 3.6l1 2.4l1 2.3l1 2.2l1 1.8l1 1.5l1 1.5l1 1.6l1 1.4l1 1l1 .4l1 0l1 .7l1 .5l1 .2l1 .3l1 -.1l1 .5l1 .6l1 -.6l1 -.3l1 .5l1 .4l1 .1l1 -.4l1 .2l1 .3l1 .1l1 .2l1 -.1l1 .2l1 -.1l1 -.3l1 0l1 .2l1 -.6l1 -.1l1 .2l1 .2l1 .3l1 -.4l1 0l1 .3l1 -.5l1 .2l1 .1l1 -.5l1 .3l1 .5l1 -.5l1 0l1 .3l1 -.5l1 .1l1 0l1 -.6l1 -.7l1 0l1 .2l1 -.2l1 -.4l1 0l1 .7l1 0l1 -1.2l1 -.5l1 .6l1 -1.1l1 -.4l1 .5l1 .3l1 -.4l1 -.6l1 0l1 -.2l1 -.3l1 -.1l1 .1l1 -.8l1 -.2l1 0l1 -.6l1 .3l1 0l1 -.4l1 0l1 -.1l1 -.5l1 -.6l1 .2l1 .3l1 -.2l1 -.4l1 .1l1 0l1 -.5l1 .1l1 .6l1 .2l1 -.3l1 -.2l1 .4l1 .3l1 0l1 .5l1 .3l1 .4l1 .1l1 .1l1 .3l1 .3l1 -.1l1 -.6l1 .3l1 0l1 -.5l1 .3l1 .2l1 -.4l1 0l1 .3l1 -.1l1 .1l1 0l1 .2l1 .2l1 -.3l1 -.1l1 .4l.9 .1l1 .1l1 -.2l1 -.2l1 .5l1 0l1 -.1l1 .3l1 -.5l1 -.5l1 .3l1 .3l1 -.3l1 -.1l1 .5l1 .6l1 -.1l1 .3l1 .4l1 .4l1 .5l1 .4l1 -.3l1 .7l1 1.2l1 .3l1 .7l1 .1l1 -.6l1 1.2l1 1.3l1 -.2l1 .3l1 1l1 .3l1 .5l1 1.2l1 .7l1 -.1l1 .1l1 .1l1 .3l1 .4l1 .1l1 0l1 1l1 .6l1 -.4l1 .1l1 .9l1 .7l1 -.3l1 -.1l1 .6l1 .1l1 -.3l1 0l1 .5l1 .3l1 -.2l1 .4l1 .7l1 .4l1 -.1l1 .5l1 0l1 -.3l1 0l1 .4l1 .4l1 -.4l1 -.1l1 1l1 .5l1 -.3l1 .2" stroke="#e0a828" stroke-width="1.9" fill="none" stroke-linejoin="round"/>
<path d="M349.1 853.4l1 -4.1l1 -4l1 -4.2l1 -4l1 -4l1 -4.4l1 -4.9l1 -4.4l1 -4.4l1 -4.1l1 -2.8l1 -3l1 -2.8l1 -2.2l1 -2.6l1 -2.2l1 -1.7l1 -2.4l1 -3l1 -1.8l1 -1.7l1 -1.9l1 -1.8l1 -1.9l1 -1.5l1 -1.7l1 -2l1 -2l1 -1.9l1 -1.6l1 -1.1l1 -1l1 -1.5l1 -1.9l1 -2.4l1 -3.2l1 -3.9l1 -3.9l1 -4.8l1 -5.6l1 -6l1 -5.2l1 -3.5l1 -3.3l1 -2.6l1 -2.4l1 -2l1 -1.3l1 -.7l1 .2l1 1.3l1 1.4l1 2.2l1 2.8l1 3.1l1 2.7l1 3.1l1 3.7l1 2.3l1 2.1l1 2.7l1 1.8l1 0l1 -.7l1 -.3l1 -1l1 -.9l1 -.5l1 -1.4l1 -1l1 -.8l1 -.9l1 -.6l1 -.1l.9 -.4l1 -.2l1 1.1l1 1.5l1 1.3l1 1.6l1 3.2l1 6.3l1 7.3l1 7.6l1 8.7l1 7.9l1 6.9l1 6.8l1 7.2l1 7.9l1 7.6l1 6.5l1 5.7l1 5.5l1 3.9l1 2.7l1 3.7l1 3.4l1 1.8l1 1.3l1 2.2l1 1.3l1 .3l1 1.4l1 1.5l1 .8l1 .2l1 .6l1 .4l1 .2l1 .3l1 -.1l1 .2l1 .2l1 .3l1 .2l1 -.1l1 -.1l1 0l1 .2l1 .5l1 .3l1 -.2l1 -.4l1 -.4l1 .3l1 0l1 .3l1 .3l1 -.3l1 .2l1 -.1l1 .1l1 -.1l1 -.1l1 .5l1 -.1l1 -.2l1 -.2l1 0l1 .3l1 -.1l1 -.7l1 .1l1 .3l1 -.1l1 0l1 .1l1 -.4l1 -.8l1 .4l1 -.2l1 -.2l1 0l1 -.7l1 0l1 .7l1 -.3l1 -.8l1 0l1 -.1l1 -.4l1 .1l1 -.3l1 -.8l1 0l1 .1l1 -.4l1 -.4l1 .1l1 0l1 -.5l1 -.4l1 -.1l1 0l1 -.3l1 -.5l1 -.2l1 0l1 -.1l1 .3l1 0l1 -.3l1 -.4l1 -.4l1 0l1 -.2l1 -.2l1 -.2l1 .1l1 .2l1 .5l1 .2l1 -.4l1 .1l1 .1l1 .2l1 .5l1 .6l1 -.3l1 -.5l1 .4l1 .2l1 .4l1 -.2l1 -.2l1 .4l1 .4l1 -.3l1 -.5l1 .5l1 .6l1 0l1 -.4l1 -.3l1 .3l1 .2l1 -.1l1 -.1l1 .3l1 -.1l1 -.4l1 0l1 0l.9 .2l1 .1l1 -.1l1 .4l1 .2l1 -.4l1 .2l1 0l1 -.3l1 .2l1 -.1l1 0l1 .2l1 -.1l1 -.1l1 .5l1 .4l1 .3l1 .8l1 .5l1 -.1l1 .3l1 .5l1 .6l1 .4l1 .7l1 .2l1 .3l1 .9l1 0l1 .6l1 .9l1 .2l1 .9l1 .8l1 -.1l1 .1l1 .4l1 .5l1 .6l1 0l1 0l1 .5l1 .4l1 .4l1 .2l1 .6l1 .6l1 .1l1 -.5l1 .2l1 .9l1 .2l1 .2l1 .3l1 -.2l1 -.5l1 .7l1 .7l1 .2l1 .2l1 0l1 .6l1 0l1 -.2l1 .2l1 .2l1 .5l1 .3l1 .1l1 -.4l1 .2l1 .7l1 .3l1 .4l1 0" stroke="#e8007a" stroke-width="1.9" fill="none" stroke-linejoin="round"/>
<path d="M349.1 878.0H648.9M349.1 878.0v4M449.0 878.0v4M549.0 878.0v4M648.9 878.0v4M399.1 878.0v2.2M499.0 878.0v2.2M598.9 878.0v2.2" stroke="#000" stroke-width="2.1" fill="none"/>
<g transform="translate(349.10 907.30) scale(1.0000 1.040)"><text x="-23.86" y="0" font-size="28.60">400</text></g>
<g transform="translate(449.03 907.30) scale(1.0000 1.040)"><text x="-23.86" y="0" font-size="28.60">500</text></g>
<g transform="translate(548.97 907.30) scale(1.0000 1.040)"><text x="-23.86" y="0" font-size="28.60">600</text></g>
<g transform="translate(648.90 907.30) scale(1.0000 1.040)"><text x="-23.86" y="0" font-size="28.60">700</text></g>
<g transform="translate(327.70 783.40) rotate(-90) scale(1.0000 1.040)"><text x="-18.69" y="0" font-size="28.00">ΔA</text></g>
<path d="M394.0 980.4H443.2" stroke="#000" stroke-width="3.2" stroke-linecap="round"/>
<g transform="translate(449.30 988.00) scale(1.0000 1.040)"><text x="0.00" y="0" font-size="22.00">oxidized</text></g>
<path d="M394.0 1007.0H443.2" stroke="#0000e2" stroke-width="3.2" stroke-linecap="round"/>
<g transform="translate(449.30 1014.60) scale(1.0000 1.040)"><text x="0.00" y="0" font-size="22.00">reduced</text></g>
<path d="M554.6 980.1H603.4" stroke="#0890f0" stroke-width="3.2" stroke-linecap="round"/>
<g transform="translate(609.60 987.70) scale(1.0000 1.040)"><text x="0.00" y="0" font-size="22.00">0</text></g>
<path d="M554.6 1007.1H603.4" stroke="#08c0c0" stroke-width="3.2" stroke-linecap="round"/>
<g transform="translate(609.60 1014.70) scale(1.0000 1.040)"><text x="0.00" y="0" font-size="22.00"> 0</text><path transform="translate(0.00 0) scale(0.01074 -0.01074)" stroke="#000" stroke-width="32.58" d="M763 0H583V1098Q518 1038 412 979Q307 920 223 891V1058Q374 1126 487 1222Q600 1319 647 1409H763Z"/></g>
<path d="M554.6 1034.1H603.4" stroke="#90e028" stroke-width="3.2" stroke-linecap="round"/>
<g transform="translate(609.60 1041.70) scale(1.0000 1.040)"><text x="0.00" y="0" font-size="22.00">20</text></g>
<path d="M554.6 1061.1H603.4" stroke="#e0a828" stroke-width="3.2" stroke-linecap="round"/>
<g transform="translate(609.60 1068.70) scale(1.0000 1.040)"><text x="0.00" y="0" font-size="22.00">30</text></g>
<path d="M554.6 1088.1H603.4" stroke="#e8007a" stroke-width="3.2" stroke-linecap="round"/>
<g transform="translate(609.60 1095.70) scale(1.0000 1.040)"><text x="0.00" y="0" font-size="22.00">40 min</text></g>
<g transform="translate(0.50 682.10) scale(1.0000 1.040)"><text x="0.00" y="0" font-size="48.00" letter-spacing="1.80">(b)</text></g>
<g transform="translate(351.00 682.10) scale(1.0000 1.040)"><text x="0.00" y="0" font-size="48.00"><tspan font-style="italic">Xl</tspan>64</text></g>
<path d="M149.6 826.1l1.1 82.7l1 82.8l1.1 82.8l1.1 82.7l1 82.8l1.1 78.2l1.1 96.4l1 21.9l1.1 12.1l1.1 13.9l1 12.6l1.1 11.9l1.1 13l1 15.5l1.1 16.7l1.1 15.7l1 14.6l1.1 14l1.1 12.3l1 9.8l1.1 8.4l1.1 7.5l1.1 7.3l1 7.5l1.1 7.4l1.1 7.1l1 6.3l1.1 5.9l1.1 5.5l1 5l1.1 4.7l1.1 4.4l1 4.1l1.1 3.7l1.1 2.9l1 2.3l1.1 1.8l1.1 1.2l1 .6l1.1 -2.5l1.1 -14.4l1 -6l1.1 -2.1l1.1 -1.3l1 -1l1.1 -1l1.1 -1.4l1 -1.6l1.1 -1.6l1.1 -1.6l1 -1.7l1.1 -1.7l1.1 -1.6l1 -1.7l1.1 -1.7l1.1 -1.7l1 -1.8l1.1 -1.7l1.1 -1.7l1 -1.8l1.1 -1.7l1.1 -1.7l1 -1.8l1.1 -1.8l1.1 -1.8l1 -1.9l1.1 -1.8l1.1 -1.7l1.1 -1.5l1 -1.3l1.1 -1.2l1.1 -1.3l1 -1.1l1.1 -1l1.1 -.8l1 -.4l1.1 .1l1.1 .5l1 .9l1.1 1.1l1.1 1.2l1 1.2l1.1 1.3l1.1 1.5l1 1.6l1.1 1.8l1.1 2l1 2.1l1.1 2.2l1.1 2.2l1 2.3l1.1 2.2l1.1 2.2l1 2.1l1.1 2l1.1 1.9l1 1.7l1.1 1.7l1.1 1.7l1 1.7l1.1 1.8l1.1 1.9l1 2.1l1.1 2.2l1.1 2.5l1 3l1.1 3.3l1.1 3.5l1 3.6l1.1 3.6l1.1 3.4l1 3.1l1.1 2.8l1.1 2.6l1.1 2.6l1 2.4l1.1 2.4l1.1 2.3l1 2.1l1.1 2.1l1.1 1.8l1 1.7l1.1 1.6l1.1 1.4l1 1.4l1.1 1.3l1.1 1.3l1 1.1l1.1 1.1l1.1 .9l1 .9l1.1 .9l1.1 .8l1 .7l1.1 .8l1.1 .6l1 .6l1.1 .6l1.1 .5l1 .5l1.1 .4l1.1 .4l1 .3l1.1 .5l1.1 .4l1 .5l1.1 .7l1.1 .7l1 .7l1.1 .8l1.1 .9l1 .8l1.1 .8l1.1 .8l1 .9l1.1 .9l1.1 1l1 .9l1.1 .9l1.1 .8l1.1 .7l1 .5l1.1 .4l1.1 .4l1 .2l1.1 .3l1.1 .3l1 .3l1.1 .4l1.1 .5l1 .9l1.1 1.2l1.1 1.2l1 1.1l1.1 .8l1.1 .7l1 .7l1.1 .6l1.1 .5l1 .5l1.1 .5l1.1 .6l1 .5l1.1 .6l1.1 .6l1 .7l1.1 .8l1.1 .9l1 .9l1.1 .9l1.1 .9l1 .9l1.1 .9l1.1 .8l1 .9l1.1 .9l1.1 .9l1 .8l1.1 .8l1.1 .6l1 .5l1.1 .2l1.1 .2l1 .2l1.1 .2l1.1 .2l1.1 .2l1 .1l1.1 .1l1.1 .1l1 0l1.1 0l1.1 -.1l1 .1l1.1 .8l1.1 .1l1 -.4l1.1 .7l1.1 -.2l1 -1.1l1.1 .4l1.1 -.1l1 0l1.1 .8l1.1 -.5l1 -.6l1.1 1l1.1 -.2l1 -.8l1.1 .4l2.1 .2l2.2 -.4l2.1 .6l2.1 .1l2.2 -.4l2.1 .1l2.1 -.2l2.2 -.3l2.1 .4l2.1 .3l2.2 .2l2.1 -.2l2.2 -.6l2.1 .6l2.1 .2l2.2 -.4l2.1 0l2.1 -.2l2.2 .1l2.1 -.4l2.1 0l2.2 1.4l2.1 .3l2.1 -.1l2.2 -.5l2.1 -.1l2.1 .1l2.2 -.2l2.1 .1l2.1 -1l2.2 .3l2.1 1.4l2.2 0l2.1 -.5l2.1 0l2.2 .5l2.1 -1l2.1 -.7l2.2 .7l2.1 .4l2.1 0l2.2 0l2.1 .6l2.1 -.4l2.2 -1l2.1 .3l2.1 0l2.2 .2l2.1 .5l2.1 -.3l2.2 .2l2.1 .9l2.1 .3l2.2 .3l2.1 0l2.2 -.5l2.1 .5l2.1 .6l2.2 .5l2.1 .2l2.1 -.9l2.2 0l2.1 1l2.1 .9l2.2 .1l2.1 .3l2.1 -.1l2.2 -.4l2.1 .9l2.1 .5l2.2 -.2l2.1 .6l2.1 .5l2.2 -.6l2.1 -.1l2.1 -.2l2.2 .1l2.1 .8l2.2 -.4l2.1 .5l2.1 1.4l2.2 -.3l2.1 -.3l2.1 .5l2.2 -.3l2.1 -.1l2.1 .3l2.2 -.8l2.1 -.4l2.1 .4l2.2 .8l2.1 .3l2.1 0l2.2 -.1l2.1 -.7l2.1 1l2.2 1.4l2.1 -.5l2.1 -.9l2.2 .3l2.1 -.2l2.2 -.4l2.1 0l2.1 .3l2.2 .6l2.1 -.2l2.1 -.3l2.2 -.3l2.1 0l2.1 1l2.2 .2l2.1 .1l2.1 -.1l2.2 -.4l2.1 .2l2.1 0l2.2 .4l2.1 -.5l2.1 0l2.2 1l2.1 -.2l2.1 -.2l2.2 0l2.1 .2l2.2 .1l2.1 -.5l2.1 .1l2.2 .6l2.1 .1l2.1 -.3l2.2 0l2.1 -.2l2.1 -.2l2.2 -.5l2.1 .1" stroke="#9100c4" stroke-width="2.90" fill="none" stroke-linejoin="round" stroke-linecap="round" clip-path="url(#cc)"/>
<path d="M149.6 839.0l1.1 86.7l1 86.7l1.1 86.2l1.1 82.1l1 80.5l1.1 75.1l1.1 90.8l1 22l1.1 12.3l1.1 13.6l1 12.3l1.1 11.4l1.1 12.4l1 14.6l1.1 15.5l1.1 14.4l1 13.5l1.1 12.8l1.1 11.2l1 8.9l1.1 7.6l1.1 6.8l1.1 6.5l1 6.6l1.1 6.6l1.1 6.3l1 5.5l1.1 5.2l1.1 4.7l1 4.4l1.1 4l1.1 3.8l1 3.6l1.1 3.2l1.1 2.4l1 1.9l1.1 1.4l1.1 .7l1 .3l1.1 -2.7l1.1 -13.5l1 -6l1.1 -2.3l1.1 -1.6l1 -1.2l1.1 -1.3l1.1 -1.7l1 -1.8l1.1 -1.8l1.1 -1.8l1 -1.9l1.1 -1.9l1.1 -1.6l1 -1.6l1.1 -1.5l1.1 -1.5l1 -1.6l1.1 -1.5l1.1 -1.5l1 -1.5l1.1 -1.5l1.1 -1.5l1 -1.5l1.1 -1.6l1.1 -1.8l1 -1.8l1.1 -1.7l1.1 -1.7l1.1 -1.4l1 -1.3l1.1 -1.1l1.1 -1.2l1 -1.1l1.1 -.9l1.1 -.6l1 -.2l1.1 .4l1.1 1.4l1 1.8l1.1 1.9l1.1 1.9l1 1.8l1.1 1.9l1.1 1.9l1 2.1l1.1 2.1l1.1 2.3l1 2.3l1.1 2.4l1.1 2.4l1 2.4l1.1 2.3l1.1 2.2l1 2.2l1.1 2l1.1 1.9l1 1.7l1.1 1.6l1.1 1.6l1 1.6l1.1 1.6l1.1 1.7l1 1.9l1.1 2l1.1 2.3l1 2.6l1.1 2.9l1.1 3.1l1 3l1.1 3.1l1.1 2.9l1 2.6l1.1 2.3l1.1 2.1l1.1 2.1l1 2l1.1 1.9l1.1 1.9l1 1.7l1.1 1.6l1.1 1.6l1 1.4l1.1 1.3l1.1 1.3l1 1.1l1.1 1.1l1.1 1l1 .9l1.1 .8l1.1 .8l1 .6l1.1 .6l1.1 .6l1 .4l1.1 .4l1.1 .3l1 .2l1.1 .2l1.1 .1l1 .1l1.1 .1l1.1 .1l1 .1l1.1 .1l1.1 .2l1 .3l1.1 .5l1.1 .6l1 .9l1.1 1.1l1.1 1.1l1 1.1l1.1 1.2l1.1 1.2l1 1.3l1.1 1.3l1.1 1.2l1 1.1l1.1 1.1l1.1 1l1.1 .9l1 .5l1.1 .4l1.1 .2l1 .2l1.1 .1l1.1 .1l1 .2l1.1 .3l1.1 .4l1 .7l1.1 1l1.1 1.1l1 1l1.1 .8l1.1 .8l1 .7l1.1 .8l1.1 .7l1 1l1.1 1.3l1.1 1.3l1 1.4l1.1 1.3l1.1 1.5l1 1.5l1.1 1.6l1.1 1.6l1 1.6l1.1 1.6l1.1 1.6l1 1.6l1.1 1.4l1.1 1.3l1 1.3l1.1 1.3l1.1 1.3l1 1l1.1 .8l1.1 .7l1 .5l1.1 .3l1.1 .2l1 .3l1.1 .2l1.1 .2l1.1 .2l1 .1l1.1 .2l1.1 .1l1 .4l1.1 .2l1.1 0l1 .4l1.1 -.7l1.1 -.2l1 .8l1.1 .2l1.1 -.6l1 -.2l1.1 -.1l1.1 -.4l1 .3l1.1 .5l1.1 .6l1 .1l1.1 -.2l1.1 -.6l1 -.7l1.1 .2l2.1 1l2.2 -.2l2.1 -1.2l2.1 .5l2.2 .9l2.1 -.5l2.1 -.5l2.2 .1l2.1 .6l2.1 .8l2.2 -.4l2.1 -.3l2.2 -.1l2.1 .1l2.1 -.1l2.2 -.4l2.1 -.1l2.1 .3l2.2 .2l2.1 .3l2.1 -.4l2.2 -.1l2.1 .9l2.1 .3l2.2 -.3l2.1 -.9l2.1 -.2l2.2 1l2.1 .2l2.1 -.5l2.2 -.1l2.1 .2l2.2 .1l2.1 -.5l2.1 -.1l2.2 .9l2.1 .7l2.1 -.3l2.2 -.7l2.1 .5l2.1 .1l2.2 -.8l2.1 0l2.1 .6l2.2 .6l2.1 -.4l2.1 -.3l2.2 0l2.1 .2l2.1 .2l2.2 -.3l2.1 -.4l2.1 -.1l2.2 .2l2.1 -1l2.2 .5l2.1 1.5l2.1 .1l2.2 .3l2.1 .6l2.1 .7l2.2 -.1l2.1 .3l2.1 .8l2.2 .2l2.1 -.3l2.1 .2l2.2 .3l2.1 .4l2.1 1.1l2.2 .3l2.1 -.4l2.1 -.3l2.2 .1l2.1 .4l2.1 .2l2.2 -.2l2.1 -.5l2.2 0l2.1 .8l2.1 .2l2.2 .8l2.1 -.2l2.1 -.8l2.2 .8l2.1 .2l2.1 -.2l2.2 .5l2.1 .1l2.1 -.2l2.2 .4l2.1 .8l2.1 -.5l2.2 -.6l2.1 .8l2.1 .1l2.2 -.6l2.1 0l2.1 .7l2.2 -.1l2.1 -.1l2.2 .5l2.1 -.2l2.1 .1l2.2 .5l2.1 .2l2.1 .2l2.2 -.8l2.1 .1l2.1 .7l2.2 .1l2.1 -.4l2.1 0l2.2 .5l2.1 -.7l2.1 .4l2.2 .2l2.1 -.8l2.1 .5l2.2 .2l2.1 0l2.1 .2l2.2 0l2.1 .4l2.2 -.1l2.1 0l2.1 .4l2.2 -.6l2.1 0l2.1 .5l2.2 -.2l2.1 .2l2.1 .5l2.2 -.1l2.1 -1.1" stroke="#5f00d2" stroke-width="2.90" fill="none" stroke-linejoin="round" stroke-linecap="round" clip-path="url(#cc)"/>
<path d="M149.6 862.7l1.1 93.8l1 93.8l1.1 92.4l1.1 80.9l1 76.5l1.1 69.4l1.1 80.7l1 22.1l1.1 12.8l1.1 13.1l1 11.6l1.1 10.5l1.1 11.2l1 13l1.1 13.3l1.1 12.2l1 11.3l1.1 10.7l1.1 9.2l1 7.3l1.1 6l1.1 5.4l1.1 5.1l1 5.1l1.1 5l1.1 4.8l1 4.2l1.1 3.8l1.1 3.4l1 3.2l1.1 2.9l1.1 2.7l1 2.6l1.1 2.2l1.1 1.6l1 1l1.1 .7l1.1 0l1 -.5l1.1 -2.9l1.1 -12l1 -5.8l1.1 -2.8l1.1 -2.1l1 -1.8l1.1 -1.8l1.1 -2.1l1 -2.1l1.1 -2.2l1.1 -2.2l1 -2.3l1.1 -2.1l1.1 -1.7l1 -1.3l1.1 -1.2l1.1 -1.2l1 -1.2l1.1 -1.1l1.1 -1.1l1 -1.1l1.1 -1l1.1 -1.1l1 -1.2l1.1 -1.3l1.1 -1.5l1 -1.7l1.1 -1.6l1.1 -1.6l1.1 -1.3l1 -1.2l1.1 -1l1.1 -1l1 -1l1.1 -.7l1.1 -.3l1 .1l1.1 1l1.1 2.8l1 3.6l1.1 3.3l1.1 3.3l1 3l1.1 2.9l1.1 2.8l1 2.8l1.1 2.7l1.1 2.8l1 2.7l1.1 2.7l1.1 2.7l1 2.6l1.1 2.4l1.1 2.4l1 2.2l1.1 2.2l1.1 1.9l1 1.7l1.1 1.4l1.1 1.3l1 1.3l1.1 1.4l1.1 1.4l1 1.5l1.1 1.7l1.1 1.9l1 2l1.1 2.1l1.1 2.2l1 2.1l1.1 2l1.1 1.9l1 1.7l1.1 1.5l1.1 1.4l1.1 1.2l1 1.1l1.1 1.1l1.1 1l1 .9l1.1 1l1.1 .9l1 1l1.1 .8l1.1 .9l1 .7l1.1 .7l1.1 .6l1 .5l1.1 .4l1.1 .3l1 .2l1.1 .1l1.1 .1l1 -.1l1.1 -.2l1.1 -.3l1 -.6l1.1 -.5l1.1 -.6l1 -.6l1.1 -.4l1.1 -.5l1 -.4l1.1 -.5l1.1 -.3l1 0l1.1 .2l1.1 .5l1 1.1l1.1 1.5l1.1 1.7l1 1.7l1.1 1.7l1.1 1.9l1 2l1.1 2l1.1 1.8l1 1.5l1.1 1.5l1.1 1.4l1.1 1l1 .7l1.1 .2l1.1 .1l1 -.1l1.1 -.2l1.1 -.1l1 -.1l1.1 .1l1.1 .2l1 .4l1.1 .7l1.1 .8l1 .8l1.1 .8l1.1 .9l1 1l1.1 1.1l1.1 1.1l1 1.9l1.1 2.5l1.1 2.8l1 3l1.1 2.7l1.1 2.8l1 3l1.1 3.1l1.1 3l1 2.9l1.1 2.9l1.1 2.9l1 2.7l1.1 2.5l1.1 2.2l1 2.1l1.1 2l1.1 1.8l1 1.3l1.1 .9l1.1 .8l1 .6l1.1 .4l1.1 .3l1 .3l1.1 .3l1.1 .2l1.1 .3l1 .1l1.1 .3l1.1 .3l1 0l1.1 0l1.1 0l1 0l1.1 .4l1.1 .4l1 0l1.1 -.3l1.1 -.2l1 .1l1.1 -.1l1.1 -.1l1 .4l1.1 -.3l1.1 .1l1 .3l1.1 .1l1.1 -.1l1 0l1.1 .7l2.1 -.1l2.2 -.3l2.1 -.2l2.1 -.4l2.2 -.4l2.1 .1l2.1 .3l2.2 .1l2.1 -.3l2.1 -.4l2.2 .8l2.1 .5l2.2 -.6l2.1 -.3l2.1 1.5l2.2 .5l2.1 -.9l2.1 -1.2l2.2 -.3l2.1 1.1l2.1 .5l2.2 0l2.1 .2l2.1 -.1l2.2 0l2.1 -.6l2.1 .6l2.2 .5l2.1 -1l2.1 .6l2.2 .5l2.1 -.2l2.2 -.4l2.1 -.2l2.1 .4l2.2 -.4l2.1 -.3l2.1 .3l2.2 -.1l2.1 -.1l2.1 -.3l2.2 .3l2.1 .6l2.1 .2l2.2 -.1l2.1 -.7l2.1 -.5l2.2 .2l2.1 .4l2.1 .6l2.2 .9l2.1 -.1l2.1 -1.1l2.2 -1l2.1 .3l2.2 .3l2.1 .9l2.1 .8l2.2 -.1l2.1 .5l2.1 1.1l2.2 .1l2.1 .2l2.1 .3l2.2 .1l2.1 .5l2.1 .5l2.2 .5l2.1 .6l2.1 .4l2.2 -.4l2.1 -.5l2.1 .1l2.2 .5l2.1 .4l2.1 0l2.2 .7l2.1 .7l2.2 -.3l2.1 -.4l2.1 .2l2.2 .3l2.1 .1l2.1 -.4l2.2 0l2.1 0l2.1 .2l2.2 1l2.1 -.3l2.1 -.1l2.2 .2l2.1 -.2l2.1 1l2.2 .6l2.1 -.4l2.1 -.4l2.2 .1l2.1 .1l2.1 .1l2.2 -.1l2.1 -.2l2.2 .3l2.1 -.4l2.1 .8l2.2 .8l2.1 -.8l2.1 -.7l2.2 .1l2.1 .3l2.1 .1l2.2 -.2l2.1 0l2.1 .6l2.2 .5l2.1 -.7l2.1 -.1l2.2 .4l2.1 -.3l2.1 .3l2.2 .2l2.1 .4l2.1 .5l2.2 -.3l2.1 -.5l2.2 .8l2.1 .9l2.1 -.5l2.2 -.6l2.1 .2l2.1 .6l2.2 -.5l2.1 .1l2.1 .1l2.2 -.2l2.1 -.1" stroke="#1428f0" stroke-width="2.90" fill="none" stroke-linejoin="round" stroke-linecap="round" clip-path="url(#cc)"/>
<path d="M149.6 878.7l1.1 98.7l1 98.6l1.1 96.6l1.1 80.1l1 73.7l1.1 65.5l1.1 73.9l1 22.1l1.1 13.2l1.1 12.8l1 11.1l1.1 9.9l1.1 10.5l1 11.8l1.1 11.9l1.1 10.6l1 9.8l1.1 9.3l1.1 7.9l1 6.1l1.1 5.1l1.1 4.4l1.1 4.1l1 4.1l1.1 4l1.1 3.7l1 3.3l1.1 2.8l1.1 2.6l1 2.4l1.1 2.1l1.1 2l1 1.9l1.1 1.6l1.1 1l1 .5l1.1 .1l1.1 -.5l1 -.9l1.1 -3.1l1.1 -11l1 -5.7l1.1 -3.1l1.1 -2.4l1 -2.2l1.1 -2.1l1.1 -2.4l1 -2.5l1.1 -2.4l1.1 -2.5l1 -2.6l1.1 -2.2l1.1 -1.7l1 -1.1l1.1 -1l1.1 -.9l1 -1l1.1 -.9l1.1 -.8l1 -.8l1.1 -.7l1.1 -.8l1 -.9l1.1 -1.2l1.1 -1.4l1 -1.5l1.1 -1.6l1.1 -1.5l1.1 -1.3l1 -1l1.1 -1l1.1 -.9l1 -.8l1.1 -.6l1.1 -.1l1 .3l1.1 1.3l1.1 3.9l1 4.8l1.1 4.3l1.1 4.1l1 3.9l1.1 3.5l1.1 3.4l1 3.3l1.1 3.2l1.1 3.1l1 3l1.1 2.9l1.1 2.8l1 2.7l1.1 2.6l1.1 2.4l1 2.3l1.1 2.3l1.1 2l1 1.6l1.1 1.3l1.1 1.1l1 1.1l1.1 1.2l1.1 1.2l1 1.3l1.1 1.5l1.1 1.6l1 1.6l1.1 1.5l1.1 1.6l1 1.4l1.1 1.4l1.1 1.3l1 1.1l1.1 .9l1.1 .8l1.1 .6l1 .5l1.1 .5l1.1 .5l1 .4l1.1 .5l1.1 .6l1 .5l1.1 .6l1.1 .6l1 .5l1.1 .4l1.1 .3l1 .2l1.1 .1l1.1 0l1 -.1l1.1 -.2l1.1 -.3l1 -.4l1.1 -.6l1.1 -.8l1 -1l1.1 -1.1l1.1 -1l1 -1l1.1 -.8l1.1 -.9l1 -.8l1.1 -.8l1.1 -.6l1 -.4l1.1 0l1.1 .6l1 1.2l1.1 1.8l1.1 2l1 2.1l1.1 2.1l1.1 2.4l1 2.5l1.1 2.5l1.1 2.1l1 1.8l1.1 1.8l1.1 1.5l1.1 1.2l1 .7l1.1 .2l1.1 0l1 -.3l1.1 -.3l1.1 -.3l1 -.3l1.1 -.1l1.1 .1l1 .2l1.1 .5l1.1 .7l1 .6l1.1 .8l1.1 1l1 1.1l1.1 1.3l1.1 1.4l1 2.4l1.1 3.4l1.1 3.9l1 4l1.1 3.7l1.1 3.8l1 3.9l1.1 4.1l1.1 3.9l1 3.8l1.1 3.8l1.1 3.8l1 3.5l1.1 3.2l1.1 2.7l1 2.7l1.1 2.5l1.1 2.2l1 1.4l1.1 1.1l1.1 .8l1 .7l1.1 .5l1.1 .3l1 .4l1.1 .3l1.1 .2l1.1 .2l1 0l1.1 .1l1.1 .6l1 .2l1.1 .2l1.1 -.3l1 -.2l1.1 1l1.1 .6l1 -.5l1.1 -.6l1.1 .3l1 -.2l1.1 -.2l1.1 -.1l1 .1l1.1 .6l1.1 .6l1 .2l1.1 -.8l1.1 -.2l1 -.2l1.1 .1l2.1 .4l2.2 .1l2.1 .5l2.1 -.9l2.2 -.1l2.1 .9l2.1 -.5l2.2 .5l2.1 .2l2.1 .2l2.2 .5l2.1 -.5l2.2 -.1l2.1 0l2.1 -.4l2.2 -.7l2.1 -.3l2.1 .5l2.2 .5l2.1 .1l2.1 .5l2.2 -.8l2.1 .1l2.1 .6l2.2 -.2l2.1 .1l2.1 0l2.2 -.2l2.1 .4l2.1 -.3l2.2 -.8l2.1 .1l2.2 .8l2.1 .2l2.1 .3l2.2 -1l2.1 -.9l2.1 1l2.2 .3l2.1 .6l2.1 -.1l2.2 -.9l2.1 .4l2.1 .9l2.2 -1.3l2.1 -.3l2.1 .9l2.2 -.6l2.1 -.3l2.1 .3l2.2 .2l2.1 -.2l2.1 -.4l2.2 .3l2.1 .2l2.2 .1l2.1 .3l2.1 .5l2.2 1l2.1 .6l2.1 .5l2.2 0l2.1 .4l2.1 1.1l2.2 0l2.1 .2l2.1 -.5l2.2 .4l2.1 1.2l2.1 -.6l2.2 .6l2.1 .8l2.1 .1l2.2 .3l2.1 .3l2.1 .3l2.2 -.1l2.1 .3l2.2 .6l2.1 -.9l2.1 -.1l2.2 .7l2.1 -.3l2.1 .8l2.2 .8l2.1 -.7l2.1 -.6l2.2 .7l2.1 .3l2.1 -.4l2.2 -.3l2.1 .1l2.1 1.2l2.2 0l2.1 -.4l2.1 .9l2.2 .4l2.1 0l2.1 0l2.2 0l2.1 -.8l2.2 -.6l2.1 .1l2.1 1.1l2.2 .7l2.1 -.7l2.1 -.3l2.2 -.2l2.1 -.7l2.1 1.2l2.2 1l2.1 -.7l2.1 -.4l2.2 0l2.1 .7l2.1 .1l2.2 .1l2.1 -.2l2.1 -.1l2.2 .7l2.1 .1l2.1 -.2l2.2 -.2l2.1 -.4l2.2 .3l2.1 .2l2.1 -.5l2.2 .4l2.1 -.2l2.1 -.4l2.2 .8l2.1 .6l2.1 -.4l2.2 -.3l2.1 .3" stroke="#0896f5" stroke-width="2.90" fill="none" stroke-linejoin="round" stroke-linecap="round" clip-path="url(#cc)"/>
<path d="M149.6 896.7l1.1 104.1l1 104l1.1 101.4l1.1 79.2l1 70.6l1.1 61.2l1.1 66.2l1 22.1l1.1 13.6l1.1 12.4l1 10.5l1.1 9.3l1.1 9.6l1 10.6l1.1 10.2l1.1 8.9l1 8.2l1.1 7.6l1.1 6.5l1 4.8l1.1 3.9l1.1 3.4l1.1 3l1 2.9l1.1 2.8l1.1 2.7l1 2.2l1.1 1.8l1.1 1.6l1 1.4l1.1 1.2l1.1 1.2l1 1.1l1.1 .9l1.1 .4l1 -.1l1.1 -.5l1.1 -1l1 -1.5l1.1 -3.3l1.1 -9.9l1 -5.5l1.1 -3.4l1.1 -2.8l1 -2.6l1.1 -2.6l1.1 -2.7l1 -2.7l1.1 -2.7l1.1 -2.8l1 -2.9l1.1 -2.5l1.1 -1.6l1 -.9l1.1 -.7l1.1 -.8l1 -.6l1.1 -.7l1.1 -.5l1 -.4l1.1 -.4l1.1 -.5l1 -.6l1.1 -.9l1.1 -1.3l1 -1.4l1.1 -1.6l1.1 -1.4l1.1 -1.2l1 -.9l1.1 -.9l1.1 -.8l1 -.7l1.1 -.4l1.1 .1l1 .5l1.1 1.8l1.1 4.9l1 6.2l1.1 5.4l1.1 5.1l1 4.8l1.1 4.3l1.1 4l1 3.9l1.1 3.6l1.1 3.6l1 3.3l1.1 3.1l1.1 3l1 2.9l1.1 2.7l1.1 2.5l1 2.4l1.1 2.3l1.1 2.1l1 1.6l1.1 1l1.1 1l1 .9l1.1 .9l1.1 1.1l1 1l1.1 1.2l1.1 1.3l1 1.1l1.1 1l1.1 .8l1 .8l1.1 .6l1.1 .5l1 .4l1.1 .3l1.1 .2l1.1 -.1l1 -.1l1.1 -.1l1.1 -.2l1 -.2l1.1 0l1.1 .1l1 .2l1.1 .2l1.1 .3l1 .2l1.1 .1l1.1 .1l1 -.2l1.1 -.2l1.1 -.4l1 -.4l1.1 -.6l1.1 -.6l1 -.8l1.1 -1l1.1 -1.4l1 -1.5l1.1 -1.7l1.1 -1.6l1 -1.5l1.1 -1.2l1.1 -1.2l1 -1.3l1.1 -1.2l1.1 -1l1 -.6l1.1 -.2l1.1 .4l1 1.4l1.1 2.1l1.1 2.5l1 2.5l1.1 2.5l1.1 3l1 3.1l1.1 2.9l1.1 2.6l1 2.1l1.1 2l1.1 1.8l1.1 1.4l1 .8l1.1 .1l1.1 -.2l1 -.4l1.1 -.5l1.1 -.6l1 -.4l1.1 -.3l1.1 -.1l1 0l1.1 .3l1.1 .4l1 .6l1.1 .8l1.1 1l1 1.3l1.1 1.5l1.1 1.7l1 3.1l1.1 4.4l1.1 5l1 5.1l1.1 4.8l1.1 4.9l1 5.1l1.1 5.1l1.1 5l1 4.8l1.1 4.8l1.1 4.7l1 4.5l1.1 3.9l1.1 3.4l1 3.3l1.1 3.1l1.1 2.5l1 1.7l1.1 1.2l1.1 .9l1 .7l1.1 .6l1.1 .4l1 .4l1.1 .3l1.1 .2l1.1 .3l1 .2l1.1 .2l1.1 .1l1 .5l1.1 .4l1.1 .3l1 -.1l1.1 -.2l1.1 .1l1 .1l1.1 0l1.1 0l1 -.6l1.1 0l1.1 1l1 -.6l1.1 -.3l1.1 .9l1 .6l1.1 -.3l1.1 -.2l1 .7l1.1 .3l2.1 -.8l2.2 -.6l2.1 .6l2.1 .3l2.2 -.5l2.1 -.2l2.1 .4l2.2 0l2.1 -.2l2.1 0l2.2 -.4l2.1 .7l2.2 1l2.1 0l2.1 -.5l2.2 -.5l2.1 .3l2.1 .2l2.2 -.8l2.1 -.1l2.1 .3l2.2 -.2l2.1 .2l2.1 .6l2.2 .5l2.1 -.6l2.1 .3l2.2 0l2.1 -.7l2.1 -.1l2.2 .2l2.1 .1l2.2 .4l2.1 0l2.1 -.4l2.2 .5l2.1 .1l2.1 0l2.2 -.1l2.1 -.8l2.1 -.5l2.2 -.1l2.1 .8l2.1 .7l2.2 -.6l2.1 -.6l2.1 .2l2.2 .2l2.1 -.1l2.1 -.3l2.2 -.6l2.1 .9l2.1 .1l2.2 -.5l2.1 .9l2.2 -.5l2.1 .1l2.1 1.1l2.2 .3l2.1 .6l2.1 .3l2.2 -.3l2.1 1.7l2.1 1.2l2.2 .1l2.1 .9l2.1 .1l2.2 .1l2.1 .5l2.1 .7l2.2 .2l2.1 .1l2.1 0l2.2 -.4l2.1 .3l2.1 .5l2.2 .4l2.1 .7l2.2 .3l2.1 -.5l2.1 .5l2.2 .3l2.1 -.5l2.1 .2l2.2 -.1l2.1 -.5l2.1 .3l2.2 .3l2.1 -.2l2.1 .2l2.2 .3l2.1 -.1l2.1 -.5l2.2 .2l2.1 1.4l2.1 .4l2.2 -.1l2.1 -.3l2.1 .1l2.2 -.2l2.1 -.4l2.2 .5l2.1 -.3l2.1 -.1l2.2 .7l2.1 .7l2.1 -.3l2.2 -.4l2.1 .1l2.1 -.3l2.2 -.7l2.1 0l2.1 1.4l2.2 .5l2.1 -.3l2.1 .8l2.2 .2l2.1 -1.3l2.1 -.2l2.2 .5l2.1 .6l2.1 -.2l2.2 -.4l2.1 .7l2.2 -.4l2.1 -.3l2.1 -.4l2.2 0l2.1 0l2.1 -.2l2.2 1.4l2.1 .3l2.1 -.6l2.2 0l2.1 .7" stroke="#08c2c4" stroke-width="2.90" fill="none" stroke-linejoin="round" stroke-linecap="round" clip-path="url(#cc)"/>
<path d="M149.6 911.5l1.1 108.6l1 108.5l1.1 105.2l1.1 78.4l1 68.1l1.1 57.6l1.1 59.9l1 22.2l1.1 13.8l1.1 12.2l1 10.1l1.1 8.7l1.1 8.9l1 9.6l1.1 8.8l1.1 7.5l1 6.8l1.1 6.3l1.1 5.3l1 3.7l1.1 3l1.1 2.5l1.1 2.1l1 2l1.1 1.8l1.1 1.7l1 1.4l1.1 1l1.1 .7l1 .7l1.1 .5l1.1 .5l1 .5l1.1 .3l1.1 -.2l1 -.5l1.1 -1l1.1 -1.5l1 -1.9l1.1 -3.5l1.1 -8.9l1 -5.5l1.1 -3.7l1.1 -3.1l1 -2.9l1.1 -2.9l1.1 -3l1 -3l1.1 -2.8l1.1 -3.1l1 -3.2l1.1 -2.6l1.1 -1.6l1 -.7l1.1 -.6l1.1 -.5l1 -.5l1.1 -.4l1.1 -.2l1 -.2l1.1 -.1l1.1 -.2l1 -.4l1.1 -.7l1.1 -1.2l1 -1.3l1.1 -1.5l1.1 -1.4l1.1 -1.1l1 -.8l1.1 -.8l1.1 -.8l1 -.6l1.1 -.3l1.1 .3l1 .8l1.1 2.1l1.1 5.8l1 7.3l1.1 6.2l1.1 6l1 5.6l1.1 4.9l1.1 4.6l1 4.3l1.1 4.1l1.1 3.8l1 3.5l1.1 3.4l1.1 3.2l1 3l1.1 2.7l1.1 2.6l1 2.5l1.1 2.4l1.1 2.1l1 1.5l1.1 1l1.1 .7l1 .8l1.1 .8l1.1 .8l1 .9l1.1 1l1.1 1l1 .7l1.1 .5l1.1 .3l1 .1l1.1 0l1.1 -.1l1 -.2l1.1 -.2l1.1 -.3l1.1 -.6l1 -.7l1.1 -.7l1.1 -.7l1 -.6l1.1 -.4l1.1 -.3l1 -.1l1.1 -.1l1.1 0l1 0l1.1 -.1l1.1 -.2l1 -.4l1.1 -.5l1.1 -.7l1 -.7l1.1 -.9l1.1 -.9l1 -1.2l1.1 -1.3l1.1 -1.8l1 -2l1.1 -2.1l1.1 -2.1l1 -1.8l1.1 -1.6l1.1 -1.6l1 -1.6l1.1 -1.6l1.1 -1.2l1 -.9l1.1 -.4l1.1 .4l1 1.5l1.1 2.4l1.1 2.9l1 2.8l1.1 2.9l1.1 3.3l1 3.6l1.1 3.4l1.1 2.9l1 2.3l1.1 2.3l1.1 2.1l1.1 1.5l1 .8l1.1 .1l1.1 -.3l1 -.6l1.1 -.7l1.1 -.7l1 -.6l1.1 -.4l1.1 -.3l1 -.1l1.1 .1l1.1 .2l1 .5l1.1 .7l1.1 1.1l1 1.5l1.1 1.7l1.1 2l1 3.6l1.1 5.1l1.1 6l1 6.1l1.1 5.6l1.1 5.8l1 6l1.1 6.1l1.1 5.9l1 5.6l1.1 5.6l1.1 5.5l1 5.2l1.1 4.6l1.1 3.9l1 3.8l1.1 3.5l1.1 2.9l1 1.9l1.1 1.2l1.1 1l1 .8l1.1 .6l1.1 .5l1 .4l1.1 .4l1.1 .2l1.1 .3l1 .2l1.1 .5l1.1 .3l1 .2l1.1 .2l1.1 -.2l1 .3l1.1 .5l1.1 -.7l1 0l1.1 .2l1.1 .2l1 .4l1.1 -.8l1.1 .3l1 1.5l1.1 -.8l1.1 -.1l1 .9l1.1 -.2l1.1 .2l1 -.8l1.1 -.3l2.1 .2l2.2 .6l2.1 0l2.1 -1.2l2.2 .8l2.1 .7l2.1 -.4l2.2 -.1l2.1 .2l2.1 .6l2.2 -.4l2.1 -.8l2.2 0l2.1 .2l2.1 .2l2.2 -.4l2.1 .1l2.1 .1l2.2 -.2l2.1 .3l2.1 .1l2.2 .6l2.1 .7l2.1 -.2l2.2 0l2.1 -.4l2.1 -.1l2.2 .1l2.1 -.4l2.1 .1l2.2 -.5l2.1 -.3l2.2 .4l2.1 .4l2.1 0l2.2 -.4l2.1 -.4l2.1 .3l2.2 0l2.1 -.4l2.1 .3l2.2 .5l2.1 -.3l2.1 -.7l2.2 .3l2.1 .9l2.1 -.4l2.2 -.6l2.1 -.8l2.1 .4l2.2 .4l2.1 -.1l2.1 .3l2.2 -.3l2.1 .2l2.2 -.4l2.1 1.3l2.1 .6l2.2 -.3l2.1 .9l2.1 .5l2.2 1.4l2.1 .1l2.1 0l2.2 1.4l2.1 .5l2.1 .4l2.2 0l2.1 -.3l2.1 .1l2.2 .7l2.1 1l2.1 .4l2.2 .5l2.1 .3l2.1 -.3l2.2 .2l2.1 -.5l2.2 .4l2.1 .3l2.1 -.1l2.2 1.3l2.1 -.1l2.1 -.7l2.2 .6l2.1 .1l2.1 0l2.2 -.1l2.1 .8l2.1 -.4l2.2 -1l2.1 1.3l2.1 .7l2.2 -.8l2.1 -.4l2.1 .3l2.2 1.3l2.1 .4l2.1 -1.2l2.2 -.1l2.1 .3l2.2 .5l2.1 .4l2.1 0l2.2 0l2.1 .4l2.1 .1l2.2 -.5l2.1 -.5l2.1 -.2l2.2 .6l2.1 0l2.1 .8l2.2 .3l2.1 -1.1l2.1 .4l2.2 .1l2.1 -.2l2.1 .2l2.2 -.3l2.1 .6l2.1 .3l2.2 -.1l2.1 -.1l2.2 -.9l2.1 -.3l2.1 .4l2.2 .4l2.1 .2l2.1 .3l2.2 -.5l2.1 -.1l2.1 .1l2.2 -.4l2.1 1.4" stroke="#08cd84" stroke-width="2.90" fill="none" stroke-linejoin="round" stroke-linecap="round" clip-path="url(#cc)"/>
<path d="M149.6 924.4l1.1 112.3l1 112.4l1.1 108.7l1.1 77.7l1 65.9l1.1 54.5l1.1 54.4l1 22.3l1.1 14.1l1.1 11.8l1 9.7l1.1 8.3l1.1 8.3l1 8.7l1.1 7.6l1.1 6.3l1 5.6l1.1 5.2l1.1 4.1l1 2.9l1.1 2.2l1.1 1.7l1.1 1.3l1 1.2l1.1 1l1.1 .9l1 .6l1.1 .2l1.1 .1l1 0l1.1 -.1l1.1 -.1l1 0l1.1 -.3l1.1 -.6l1 -1l1.1 -1.3l1.1 -1.9l1 -2.3l1.1 -3.6l1.1 -8.2l1 -5.4l1.1 -3.9l1.1 -3.4l1 -3.2l1.1 -3.2l1.1 -3.2l1 -3.2l1.1 -3l1.1 -3.3l1 -3.4l1.1 -2.8l1.1 -1.6l1 -.5l1.1 -.4l1.1 -.4l1 -.2l1.1 -.3l1.1 0l1 .1l1.1 .1l1.1 0l1 -.2l1.1 -.5l1.1 -1l1 -1.3l1.1 -1.5l1.1 -1.3l1.1 -1l1 -.8l1.1 -.7l1.1 -.7l1 -.5l1.1 -.2l1.1 .4l1 .9l1.1 2.5l1.1 6.6l1 8.2l1.1 7.1l1.1 6.6l1 6.3l1.1 5.5l1.1 5l1 4.7l1.1 4.4l1.1 4.1l1 3.8l1.1 3.5l1.1 3.3l1 3.1l1.1 2.9l1.1 2.5l1 2.6l1.1 2.5l1.1 2.1l1 1.6l1.1 .8l1.1 .6l1 .6l1.1 .6l1.1 .7l1 .7l1.1 .8l1.1 .8l1 .4l1.1 0l1.1 -.2l1 -.4l1.1 -.5l1.1 -.6l1 -.7l1.1 -.6l1.1 -.8l1.1 -1.1l1 -1.1l1.1 -1.2l1.1 -1.1l1 -1l1.1 -.9l1.1 -.5l1 -.4l1.1 -.3l1.1 -.3l1 -.2l1.1 -.3l1.1 -.5l1 -.6l1.1 -.7l1.1 -.9l1 -1l1.1 -1.1l1.1 -1.2l1 -1.4l1.1 -1.7l1.1 -2.2l1 -2.4l1.1 -2.5l1.1 -2.4l1 -2.2l1.1 -1.9l1.1 -1.9l1 -1.9l1.1 -1.8l1.1 -1.6l1 -1.1l1.1 -.5l1.1 .4l1 1.6l1.1 2.6l1.1 3.2l1 3.2l1.1 3.1l1.1 3.7l1 4l1.1 3.8l1.1 3.2l1 2.5l1.1 2.5l1.1 2.2l1.1 1.7l1 .9l1.1 0l1.1 -.4l1 -.7l1.1 -.9l1.1 -.8l1 -.8l1.1 -.5l1.1 -.4l1 -.3l1.1 -.1l1.1 .2l1 .3l1.1 .7l1.1 1.2l1 1.6l1.1 1.9l1.1 2.2l1 4l1.1 5.9l1.1 6.8l1 6.9l1.1 6.4l1.1 6.6l1 6.8l1.1 6.8l1.1 6.7l1 6.3l1.1 6.3l1.1 6.1l1 5.9l1.1 5.2l1.1 4.4l1 4.2l1.1 3.9l1.1 3.2l1 2l1.1 1.3l1.1 1l1 .9l1.1 .7l1.1 .5l1 .5l1.1 .3l1.1 .3l1.1 .4l1 .4l1.1 .2l1.1 .1l1 .1l1.1 .1l1.1 .3l1 .2l1.1 .1l1.1 .2l1 .2l1.1 -.5l1.1 -.2l1 .3l1.1 -.2l1.1 .2l1 .8l1.1 -.2l1.1 -1l1 .3l1.1 1.8l1.1 -.1l1 -.9l1.1 .1l2.1 .2l2.2 .7l2.1 -.3l2.1 0l2.2 -.3l2.1 -.3l2.1 0l2.2 0l2.1 .2l2.1 .1l2.2 -.2l2.1 0l2.2 .5l2.1 -.3l2.1 -.3l2.2 -.2l2.1 .2l2.1 .5l2.2 .1l2.1 0l2.1 .5l2.2 -.2l2.1 -.3l2.1 .4l2.2 .1l2.1 -.2l2.1 -.1l2.2 .6l2.1 -.1l2.1 -.8l2.2 .3l2.1 .7l2.2 .3l2.1 -.6l2.1 -.2l2.2 .2l2.1 -.3l2.1 .1l2.2 .1l2.1 -.2l2.1 .4l2.2 -.2l2.1 -.2l2.1 .9l2.2 .2l2.1 -.7l2.1 -1l2.2 -.8l2.1 -.1l2.1 1.3l2.2 -.6l2.1 -1.4l2.1 .9l2.2 .9l2.1 -.9l2.2 -.1l2.1 1.1l2.1 -.1l2.2 .9l2.1 .7l2.1 .7l2.2 1.3l2.1 0l2.1 0l2.2 .7l2.1 1l2.1 .5l2.2 .2l2.1 .4l2.1 .8l2.2 .1l2.1 -.1l2.1 .7l2.2 .3l2.1 .4l2.1 .8l2.2 -.2l2.1 -.3l2.2 -.7l2.1 0l2.1 1.4l2.2 -.1l2.1 .4l2.1 -.2l2.2 .1l2.1 .6l2.1 -.7l2.2 .1l2.1 .3l2.1 -.1l2.2 -.3l2.1 .3l2.1 .9l2.2 .4l2.1 .3l2.1 -.3l2.2 -.5l2.1 .2l2.1 .2l2.2 .4l2.1 .6l2.2 .2l2.1 -.5l2.1 .3l2.2 -.2l2.1 -.9l2.1 .6l2.2 .6l2.1 -.2l2.1 .4l2.2 -.1l2.1 -.3l2.1 .3l2.2 .3l2.1 .3l2.1 -.2l2.2 -.2l2.1 -.8l2.1 .4l2.2 .3l2.1 -.4l2.1 1.5l2.2 -.1l2.1 -1.4l2.2 .7l2.1 .4l2.1 -.6l2.2 .2l2.1 .3l2.1 .3l2.2 -.2l2.1 .1l2.1 -.3l2.2 -.1l2.1 .1" stroke="#00d200" stroke-width="2.90" fill="none" stroke-linejoin="round" stroke-linecap="round" clip-path="url(#cc)"/>
<path d="M149.6 938.3l1.1 116.5l1 116.6l1.1 112.3l1.1 77l1 63.5l1.1 51.2l1.1 48.4l1 22.4l1.1 14.3l1.1 11.6l1 9.3l1.1 7.7l1.1 7.7l1 7.7l1.1 6.4l1.1 4.9l1 4.3l1.1 4l1.1 3l1 1.9l1.1 1.3l1.1 .9l1.1 .5l1 .2l1.1 .1l1.1 .1l1 -.3l1.1 -.5l1.1 -.7l1 -.7l1.1 -.8l1.1 -.7l1 -.7l1.1 -.8l1.1 -1l1 -1.5l1.1 -1.8l1.1 -2.3l1 -2.7l1.1 -3.8l1.1 -7.3l1 -5.3l1.1 -4.1l1.1 -3.7l1 -3.6l1.1 -3.5l1.1 -3.5l1 -3.4l1.1 -3.2l1.1 -3.5l1 -3.6l1.1 -3l1.1 -1.6l1 -.4l1.1 -.2l1.1 -.1l1 -.1l1.1 0l1.1 .2l1 .4l1.1 .4l1.1 .2l1 0l1.1 -.4l1.1 -.9l1 -1.2l1.1 -1.3l1.1 -1.3l1.1 -1l1 -.7l1.1 -.7l1.1 -.6l1 -.4l1.1 -.1l1.1 .6l1 1.2l1.1 2.7l1.1 7.5l1 9.3l1.1 7.8l1.1 7.4l1 7l1.1 6.1l1.1 5.5l1 5.2l1.1 4.8l1.1 4.4l1 4l1.1 3.7l1.1 3.5l1 3.2l1.1 2.9l1.1 2.6l1 2.7l1.1 2.5l1.1 2.2l1 1.5l1.1 .7l1.1 .4l1 .5l1.1 .5l1.1 .5l1 .5l1.1 .6l1.1 .5l1 0l1.1 -.4l1.1 -.7l1 -.9l1.1 -1.2l1.1 -1.1l1 -1.2l1.1 -1.2l1.1 -1.3l1.1 -1.5l1 -1.6l1.1 -1.7l1.1 -1.6l1 -1.5l1.1 -1.2l1.1 -1l1 -.7l1.1 -.5l1.1 -.5l1 -.5l1.1 -.5l1.1 -.7l1 -.9l1.1 -1l1.1 -1.1l1 -1.2l1.1 -1.4l1.1 -1.6l1 -1.7l1.1 -2l1.1 -2.5l1 -2.8l1.1 -3l1.1 -2.8l1 -2.6l1.1 -2.2l1.1 -2.2l1 -2.3l1.1 -2.1l1.1 -1.9l1 -1.3l1.1 -.7l1.1 .3l1 1.8l1.1 2.9l1.1 3.5l1 3.5l1.1 3.5l1.1 4.1l1 4.4l1.1 4.2l1.1 3.5l1 2.8l1.1 2.7l1.1 2.4l1.1 1.8l1 .9l1.1 0l1.1 -.5l1 -.9l1.1 -.9l1.1 -1.1l1 -.9l1.1 -.6l1.1 -.5l1 -.5l1.1 -.3l1.1 0l1 .2l1.1 .8l1.1 1.2l1 1.7l1.1 2.1l1.1 2.4l1 4.6l1.1 6.6l1.1 7.7l1 7.8l1.1 7.2l1.1 7.4l1 7.7l1.1 7.7l1.1 7.4l1 7.1l1.1 7l1.1 7l1 6.5l1.1 5.8l1.1 4.9l1 4.7l1.1 4.4l1.1 3.5l1 2.2l1.1 1.3l1.1 1.1l1 .9l1.1 .8l1.1 .5l1 .5l1.1 .4l1.1 .3l1.1 .2l1 .4l1.1 .2l1.1 .4l1 .7l1.1 .1l1.1 -.5l1 .3l1.1 .4l1.1 -.1l1 .5l1.1 .2l1.1 -.2l1 0l1.1 .3l1.1 .2l1 .5l1.1 -1.3l1.1 -.9l1 .9l1.1 .6l1.1 .3l1 0l1.1 -.5l2.1 -.3l2.2 .7l2.1 .2l2.1 -.4l2.2 .2l2.1 .8l2.1 -.8l2.2 0l2.1 .9l2.1 -.9l2.2 .2l2.1 .3l2.2 .2l2.1 -.3l2.1 0l2.2 -.1l2.1 -.2l2.1 .6l2.2 -.1l2.1 -.1l2.1 -.1l2.2 .1l2.1 .1l2.1 -.7l2.2 .2l2.1 .2l2.1 -.2l2.2 .3l2.1 .3l2.1 -.1l2.2 -.5l2.1 -.7l2.2 .5l2.1 .1l2.1 .1l2.2 .5l2.1 .4l2.1 .4l2.2 -.2l2.1 -.8l2.1 -.1l2.2 0l2.1 0l2.1 -.2l2.2 .2l2.1 .4l2.1 -.7l2.2 -.8l2.1 0l2.1 .2l2.2 -.1l2.1 -.1l2.1 -.2l2.2 .6l2.1 .8l2.2 -.6l2.1 -.3l2.1 1.1l2.2 .7l2.1 .4l2.1 1.5l2.2 .6l2.1 .1l2.1 .9l2.2 .4l2.1 -.1l2.1 .8l2.2 1.1l2.1 -.2l2.1 1l2.2 .6l2.1 -.5l2.1 0l2.2 .9l2.1 .5l2.1 -.2l2.2 -.3l2.1 0l2.2 .8l2.1 .5l2.1 -.6l2.2 -.2l2.1 1l2.1 1.3l2.2 -.2l2.1 -1.6l2.1 .6l2.2 .7l2.1 -.6l2.1 .4l2.2 .5l2.1 -.4l2.1 -.3l2.2 .4l2.1 .6l2.1 -.5l2.2 .4l2.1 .2l2.1 .3l2.2 .6l2.1 -.5l2.2 .1l2.1 -.1l2.1 0l2.2 .9l2.1 -.2l2.1 -.2l2.2 0l2.1 -.3l2.1 .8l2.2 -.4l2.1 -.1l2.1 -.3l2.2 -.5l2.1 .7l2.1 .7l2.2 .5l2.1 -.6l2.1 -.2l2.2 .4l2.1 -.5l2.1 .1l2.2 1.1l2.1 .3l2.2 -.6l2.1 -.6l2.1 -.1l2.2 0l2.1 .3l2.1 .4l2.2 .1l2.1 -.5l2.1 .3l2.2 .6l2.1 -.5" stroke="#94e02c" stroke-width="2.90" fill="none" stroke-linejoin="round" stroke-linecap="round" clip-path="url(#cc)"/>
<path d="M149.6 949.1l1.1 119.8l1 119.9l1.1 115.1l1.1 76.4l1 61.7l1.1 48.6l1.1 43.8l1 22.4l1.1 14.6l1.1 11.3l1 9l1.1 7.3l1.1 7.2l1 6.9l1.1 5.4l1.1 3.8l1 3.4l1.1 3l1.1 2.1l1 1.2l1.1 .5l1.1 .3l1.1 -.2l1 -.4l1.1 -.6l1.1 -.6l1 -1l1.1 -1.1l1.1 -1.2l1 -1.4l1.1 -1.3l1.1 -1.1l1 -1.2l1.1 -1.2l1.1 -1.5l1 -1.8l1.1 -2.2l1.1 -2.6l1 -3l1.1 -3.9l1.1 -6.6l1 -5.2l1.1 -4.4l1.1 -3.9l1 -3.8l1.1 -3.8l1.1 -3.7l1 -3.5l1.1 -3.4l1.1 -3.7l1 -3.8l1.1 -3.1l1.1 -1.6l1 -.3l1.1 0l1.1 0l1 .1l1.1 .1l1.1 .4l1 .6l1.1 .6l1.1 .4l1 .2l1.1 -.2l1.1 -.8l1 -1.2l1.1 -1.3l1.1 -1.2l1.1 -.9l1 -.7l1.1 -.6l1.1 -.6l1 -.3l1.1 0l1.1 .7l1 1.3l1.1 3l1.1 8.2l1 10.1l1.1 8.5l1.1 8l1 7.5l1.1 6.6l1.1 5.9l1 5.5l1.1 5l1.1 4.7l1 4.2l1.1 3.8l1.1 3.6l1 3.4l1.1 2.9l1.1 2.7l1 2.7l1.1 2.6l1.1 2.2l1 1.5l1.1 .6l1.1 .3l1 .3l1.1 .4l1.1 .3l1 .4l1.1 .5l1.1 .3l1 -.3l1.1 -.7l1.1 -1.2l1 -1.4l1.1 -1.5l1.1 -1.7l1 -1.6l1.1 -1.5l1.1 -1.7l1.1 -1.9l1 -2l1.1 -2.1l1.1 -2l1 -1.8l1.1 -1.5l1.1 -1.3l1 -.9l1.1 -.7l1.1 -.7l1 -.6l1.1 -.8l1.1 -.8l1 -1.1l1.1 -1.2l1.1 -1.3l1 -1.5l1.1 -1.6l1.1 -1.8l1 -1.9l1.1 -2.3l1.1 -2.8l1 -3.2l1.1 -3.3l1.1 -3.1l1 -2.9l1.1 -2.5l1.1 -2.4l1 -2.6l1.1 -2.3l1.1 -2.1l1 -1.5l1.1 -.8l1.1 .3l1 1.9l1.1 3l1.1 3.8l1 3.7l1.1 3.8l1.1 4.4l1 4.8l1.1 4.5l1.1 3.7l1 3l1.1 2.9l1.1 2.5l1.1 2l1 .9l1.1 -.1l1.1 -.6l1 -.9l1.1 -1.1l1.1 -1.2l1 -1l1.1 -.7l1.1 -.6l1 -.6l1.1 -.4l1.1 -.2l1 .1l1.1 .8l1.1 1.3l1 1.8l1.1 2.2l1.1 2.6l1 4.9l1.1 7.2l1.1 8.4l1 8.5l1.1 7.9l1.1 8l1 8.4l1.1 8.4l1.1 8.1l1 7.6l1.1 7.7l1.1 7.5l1 7l1.1 6.3l1.1 5.3l1 5.1l1.1 4.7l1.1 3.7l1 2.4l1.1 1.3l1.1 1.2l1 1l1.1 .7l1.1 .7l1 .5l1.1 .4l1.1 .3l1.1 .3l1 .4l1.1 .3l1.1 .2l1 .3l1.1 .6l1.1 0l1 -.4l1.1 .3l1.1 .5l1 .1l1.1 -.1l1.1 .1l1 -.1l1.1 .4l1.1 .9l1 -.7l1.1 -1.4l1.1 .2l1 .8l1.1 .2l1.1 .3l1 .1l1.1 1l2.1 -.3l2.2 -1l2.1 .4l2.1 -.5l2.2 .2l2.1 .5l2.1 -.8l2.2 0l2.1 .7l2.1 .6l2.2 .3l2.1 -.1l2.2 -.7l2.1 .1l2.1 .2l2.2 .6l2.1 -.7l2.1 -.2l2.2 1l2.1 -.4l2.1 -.3l2.2 -.3l2.1 -.4l2.1 -.3l2.2 1.1l2.1 .9l2.1 -.5l2.2 -.2l2.1 -.9l2.1 -.2l2.2 .7l2.1 .5l2.2 -.4l2.1 -.3l2.1 .3l2.2 -.1l2.1 -.2l2.1 .1l2.2 .3l2.1 -.8l2.1 .3l2.2 1.4l2.1 -.8l2.1 -.4l2.2 -.1l2.1 -.7l2.1 .8l2.2 .1l2.1 -.3l2.1 -.1l2.2 -.3l2.1 -.1l2.1 .2l2.2 .8l2.1 -.2l2.2 -.7l2.1 -.1l2.1 .4l2.2 1l2.1 1.2l2.1 .3l2.2 .9l2.1 .9l2.1 1.1l2.2 1.1l2.1 .4l2.1 0l2.2 -.5l2.1 0l2.1 1l2.2 .6l2.1 .6l2.1 .7l2.2 0l2.1 -.2l2.1 -.2l2.2 .7l2.1 .7l2.2 -.3l2.1 0l2.1 .4l2.2 .3l2.1 .4l2.1 -.3l2.2 .4l2.1 .6l2.1 -.2l2.2 .2l2.1 -.2l2.1 -.2l2.2 0l2.1 .1l2.1 .1l2.2 .1l2.1 .6l2.1 -.3l2.2 -.7l2.1 .4l2.1 .8l2.2 .3l2.1 -.4l2.2 .2l2.1 .3l2.1 .1l2.2 -.1l2.1 -.1l2.1 .8l2.2 -.3l2.1 -.5l2.1 .6l2.2 .3l2.1 0l2.1 -.2l2.2 -.6l2.1 .1l2.1 .1l2.2 .1l2.1 -.3l2.1 .5l2.2 1.6l2.1 -.4l2.1 -.9l2.2 -.2l2.1 .6l2.2 .4l2.1 -.5l2.1 .2l2.2 .5l2.1 -.2l2.1 -.4l2.2 -.1l2.1 -.2l2.1 .1l2.2 0l2.1 .4" stroke="#e0d42a" stroke-width="2.90" fill="none" stroke-linejoin="round" stroke-linecap="round" clip-path="url(#cc)"/>
<path d="M149.6 958.3l1.1 122.5l1 122.6l1.1 117.6l1.1 76l1 60.1l1.1 46.3l1.1 39.9l1 22.4l1.1 14.8l1.1 11.2l1 8.7l1.1 6.9l1.1 6.8l1 6.3l1.1 4.6l1.1 2.9l1 2.5l1.1 2.2l1.1 1.4l1 .4l1.1 0l1.1 -.2l1.1 -.7l1 -1.1l1.1 -1.2l1.1 -1.2l1 -1.4l1.1 -1.7l1.1 -1.8l1 -1.7l1.1 -1.8l1.1 -1.6l1 -1.5l1.1 -1.6l1.1 -1.8l1 -2.1l1.1 -2.5l1.1 -2.9l1 -3.3l1.1 -4l1.1 -6l1 -5.2l1.1 -4.5l1.1 -4.2l1 -4l1.1 -3.9l1.1 -3.9l1 -3.7l1.1 -3.5l1.1 -3.9l1 -3.9l1.1 -3.2l1.1 -1.6l1 -.2l1.1 .1l1.1 .2l1 .2l1.1 .3l1.1 .6l1 .7l1.1 .7l1.1 .7l1 .3l1.1 -.2l1.1 -.7l1 -1.1l1.1 -1.3l1.1 -1.2l1.1 -.8l1 -.7l1.1 -.5l1.1 -.5l1 -.3l1.1 .1l1.1 .8l1 1.4l1.1 3.3l1.1 8.7l1 10.8l1.1 9l1.1 8.5l1 8.1l1.1 6.9l1.1 6.2l1 5.8l1.1 5.3l1.1 4.9l1 4.3l1.1 4l1.1 3.7l1 3.4l1.1 3l1.1 2.7l1 2.8l1.1 2.6l1.1 2.2l1 1.5l1.1 .5l1.1 .2l1 .3l1.1 .2l1.1 .3l1 .2l1.1 .3l1.1 .2l1 -.5l1.1 -1.1l1.1 -1.4l1 -1.8l1.1 -2l1.1 -2l1 -1.9l1.1 -1.9l1.1 -2l1.1 -2.2l1 -2.4l1.1 -2.4l1.1 -2.3l1 -2.1l1.1 -1.8l1.1 -1.5l1 -1.1l1.1 -.9l1.1 -.8l1 -.8l1.1 -.9l1.1 -1l1 -1.3l1.1 -1.3l1.1 -1.5l1 -1.7l1.1 -1.8l1.1 -1.9l1 -2.1l1.1 -2.6l1.1 -3.1l1 -3.4l1.1 -3.6l1.1 -3.4l1 -3.2l1.1 -2.6l1.1 -2.7l1 -2.7l1.1 -2.6l1.1 -2.3l1 -1.6l1.1 -.9l1.1 .2l1 2l1.1 3.2l1.1 4l1 4l1.1 3.9l1.1 4.7l1 5.1l1.1 4.8l1.1 3.9l1 3.1l1.1 3.1l1.1 2.7l1.1 2l1 .9l1.1 -.1l1.1 -.6l1 -1.1l1.1 -1.2l1.1 -1.2l1 -1.1l1.1 -.8l1.1 -.8l1 -.7l1.1 -.5l1.1 -.3l1 .1l1.1 .7l1.1 1.4l1 1.9l1.1 2.3l1.1 2.7l1 5.3l1.1 7.7l1.1 9l1 9.1l1.1 8.4l1.1 8.6l1 8.9l1.1 9l1.1 8.6l1 8.1l1.1 8.2l1.1 8l1 7.5l1.1 6.7l1.1 5.7l1 5.4l1.1 4.9l1.1 3.9l1 2.5l1.1 1.4l1.1 1.2l1 1l1.1 .8l1.1 .7l1 .5l1.1 .4l1.1 .4l1.1 .4l1 .2l1.1 .2l1.1 .8l1 .5l1.1 -.3l1.1 .3l1 0l1.1 0l1.1 .6l1 -.3l1.1 -.4l1.1 .4l1 .2l1.1 0l1.1 .2l1 .6l1.1 .1l1.1 0l1 .3l1.1 -.5l1.1 -.2l1 .1l1.1 .2l2.1 0l2.2 -.2l2.1 .8l2.1 .1l2.2 -1.1l2.1 .1l2.1 .7l2.2 -.2l2.1 0l2.1 .6l2.2 -.2l2.1 -.4l2.2 -.1l2.1 .2l2.1 .2l2.2 -.4l2.1 0l2.1 .9l2.2 -.5l2.1 -1.1l2.1 .7l2.2 0l2.1 .6l2.1 0l2.2 -1.2l2.1 .4l2.1 .8l2.2 .5l2.1 -.2l2.1 -.2l2.2 .3l2.1 -.8l2.2 -.3l2.1 1.1l2.1 -.4l2.2 -.4l2.1 .8l2.1 .3l2.2 -.5l2.1 .1l2.1 .2l2.2 -.3l2.1 -.6l2.1 -.7l2.2 .1l2.1 .8l2.1 -.8l2.2 -1.5l2.1 .9l2.1 .5l2.2 -1.3l2.1 -.2l2.1 1l2.2 .6l2.1 -.5l2.2 -.4l2.1 1.3l2.1 1l2.2 0l2.1 .3l2.1 .6l2.2 1.4l2.1 1.2l2.1 .7l2.2 1.1l2.1 -.2l2.1 .2l2.2 1l2.1 .6l2.1 .7l2.2 .6l2.1 0l2.1 .1l2.2 -.1l2.1 -.2l2.1 .7l2.2 .6l2.1 -.4l2.2 .1l2.1 .3l2.1 0l2.2 .9l2.1 0l2.1 -.5l2.2 .6l2.1 .4l2.1 -.1l2.2 -.4l2.1 .1l2.1 .4l2.2 -.1l2.1 0l2.1 .3l2.2 .5l2.1 .9l2.1 -.2l2.2 0l2.1 .1l2.1 -1l2.2 .1l2.1 1l2.2 .6l2.1 -.7l2.1 .4l2.2 .1l2.1 -.9l2.1 .1l2.2 .8l2.1 .4l2.1 -.1l2.2 -.9l2.1 -.2l2.1 .8l2.2 .3l2.1 -.1l2.1 .2l2.2 0l2.1 -.8l2.1 -.3l2.2 .9l2.1 .9l2.1 -.7l2.2 .2l2.1 .2l2.2 -.3l2.1 -.5l2.1 -.1l2.2 .6l2.1 .3l2.1 -.3l2.2 .3l2.1 .7l2.1 -.6l2.2 -.3l2.1 -.3" stroke="#dea828" stroke-width="2.90" fill="none" stroke-linejoin="round" stroke-linecap="round" clip-path="url(#cc)"/>
<path d="M149.6 966.3l1.1 125.1l1 125l1.1 119.7l1.1 75.5l1 58.8l1.1 44.4l1.1 36.4l1 22.4l1.1 15l1.1 11l1 8.4l1.1 6.7l1.1 6.4l1 5.7l1.1 3.8l1.1 2.2l1 1.8l1.1 1.4l1.1 .7l1 -.1l1.1 -.5l1.1 -.7l1.1 -1.2l1 -1.6l1.1 -1.7l1.1 -1.7l1 -2l1.1 -2.1l1.1 -2.2l1 -2.2l1.1 -2.1l1.1 -2l1 -1.9l1.1 -1.9l1.1 -2.1l1 -2.3l1.1 -2.8l1.1 -3.2l1 -3.5l1.1 -4.1l1.1 -5.5l1 -5.1l1.1 -4.7l1.1 -4.3l1 -4.2l1.1 -4.1l1.1 -4l1 -3.9l1.1 -3.6l1.1 -4l1 -4.1l1.1 -3.3l1.1 -1.6l1 0l1.1 .1l1.1 .3l1 .4l1.1 .4l1.1 .7l1 .9l1.1 .9l1.1 .8l1 .4l1.1 -.1l1.1 -.6l1 -1.1l1.1 -1.2l1.1 -1.2l1.1 -.8l1 -.6l1.1 -.5l1.1 -.4l1 -.3l1.1 .2l1.1 .9l1 1.5l1.1 3.4l1.1 9.3l1 11.3l1.1 9.6l1.1 9l1 8.4l1.1 7.3l1.1 6.5l1 6.1l1.1 5.5l1.1 5l1 4.5l1.1 4.1l1.1 3.8l1 3.4l1.1 3.1l1.1 2.7l1 2.8l1.1 2.7l1.1 2.2l1 1.5l1.1 .4l1.1 .2l1 .1l1.1 .2l1.1 .1l1 .2l1.1 .2l1.1 0l1 -.8l1.1 -1.3l1.1 -1.7l1 -2.2l1.1 -2.3l1.1 -2.3l1 -2.3l1.1 -2.1l1.1 -2.3l1.1 -2.5l1 -2.7l1.1 -2.7l1.1 -2.5l1 -2.4l1.1 -2.1l1.1 -1.6l1 -1.3l1.1 -1.1l1.1 -.9l1 -1l1.1 -1l1.1 -1.1l1 -1.4l1.1 -1.5l1.1 -1.7l1 -1.8l1.1 -1.9l1.1 -2.2l1 -2.3l1.1 -2.7l1.1 -3.3l1 -3.7l1.1 -3.8l1.1 -3.7l1 -3.4l1.1 -2.8l1.1 -2.9l1 -2.9l1.1 -2.8l1.1 -2.4l1 -1.8l1.1 -1l1.1 .2l1 2.1l1.1 3.4l1.1 4.1l1 4.2l1.1 4.1l1.1 5l1 5.3l1.1 5l1.1 4.2l1 3.2l1.1 3.2l1.1 2.8l1.1 2.1l1 1l1.1 -.2l1.1 -.7l1 -1.1l1.1 -1.3l1.1 -1.4l1 -1.2l1.1 -.8l1.1 -.9l1 -.7l1.1 -.7l1.1 -.4l1 .1l1.1 .7l1.1 1.4l1 2l1.1 2.4l1.1 2.8l1 5.6l1.1 8.2l1.1 9.4l1 9.7l1.1 8.9l1.1 9.1l1 9.4l1.1 9.4l1.1 9.1l1 8.6l1.1 8.6l1.1 8.5l1 7.9l1.1 7l1.1 6l1 5.6l1.1 5.2l1.1 4.2l1 2.5l1.1 1.5l1.1 1.2l1 1.1l1.1 .8l1.1 .7l1 .5l1.1 .5l1.1 .3l1.1 .4l1 .4l1.1 .3l1.1 0l1 .4l1.1 .6l1.1 .4l1 -.1l1.1 -.3l1.1 .3l1 .6l1.1 .5l1.1 -.4l1 .1l1.1 -.1l1.1 -.2l1 .1l1.1 0l1.1 0l1 .3l1.1 .2l1.1 .4l1 .3l1.1 -.5l2.1 -1l2.2 -.4l2.1 .7l2.1 .4l2.2 -.2l2.1 0l2.1 .6l2.2 -.1l2.1 0l2.1 .2l2.2 -.2l2.1 -.2l2.2 .2l2.1 .4l2.1 -.3l2.2 -.8l2.1 0l2.1 .9l2.2 -.2l2.1 .1l2.1 .4l2.2 -.3l2.1 -.1l2.1 .2l2.2 .3l2.1 -.1l2.1 -.7l2.2 .1l2.1 .1l2.1 -.3l2.2 .7l2.1 .1l2.2 0l2.1 .1l2.1 -.1l2.2 -.4l2.1 .3l2.1 .7l2.2 -.6l2.1 -.7l2.1 .2l2.2 0l2.1 -.1l2.1 .5l2.2 .1l2.1 .1l2.1 -.2l2.2 -1.1l2.1 -.7l2.1 .3l2.2 .9l2.1 -.3l2.1 -.9l2.2 .7l2.1 .3l2.2 -.1l2.1 .8l2.1 0l2.2 .2l2.1 .8l2.1 1.1l2.2 1.2l2.1 .6l2.1 .8l2.2 .2l2.1 .5l2.1 1.3l2.2 .3l2.1 -.1l2.1 .4l2.2 .5l2.1 .8l2.1 .6l2.2 -.3l2.1 .3l2.1 .5l2.2 .3l2.1 .3l2.2 -.1l2.1 .3l2.1 .4l2.2 0l2.1 .4l2.1 .3l2.2 0l2.1 -.8l2.1 -.2l2.2 .5l2.1 .9l2.1 .1l2.2 -.4l2.1 .7l2.1 -.1l2.2 -.2l2.1 .3l2.1 -.2l2.2 .1l2.1 .6l2.1 .4l2.2 -.4l2.1 .7l2.2 .3l2.1 -.9l2.1 -.3l2.2 -.2l2.1 .6l2.1 -.6l2.2 -.2l2.1 .6l2.1 0l2.2 .5l2.1 -.3l2.1 -.2l2.2 .9l2.1 .2l2.1 -.4l2.2 .1l2.1 .4l2.1 .5l2.2 .1l2.1 -.2l2.1 -.1l2.2 -.5l2.1 .3l2.2 .2l2.1 -.7l2.1 .1l2.2 0l2.1 .3l2.1 .5l2.2 .3l2.1 -.2l2.1 -.6l2.2 -.1l2.1 -.2" stroke="#ec7c22" stroke-width="2.90" fill="none" stroke-linejoin="round" stroke-linecap="round" clip-path="url(#cc)"/>
<path d="M149.6 974.1l1.1 127.4l1 127.4l1.1 121.7l1.1 75.2l1 57.4l1.1 42.5l1.1 33.1l1 22.4l1.1 15.2l1.1 10.8l1 8.2l1.1 6.4l1.1 6l1 5.2l1.1 3.1l1.1 1.4l1 1.1l1.1 .7l1.1 .1l1 -.6l1.1 -1l1.1 -1.2l1.1 -1.7l1 -2.1l1.1 -2.2l1.1 -2.2l1 -2.4l1.1 -2.6l1.1 -2.6l1 -2.6l1.1 -2.5l1.1 -2.3l1 -2.3l1.1 -2.2l1.1 -2.3l1 -2.7l1.1 -3l1.1 -3.4l1 -3.7l1.1 -4.2l1.1 -5.1l1 -5l1.1 -4.8l1.1 -4.5l1 -4.4l1.1 -4.3l1.1 -4.1l1 -4l1.1 -3.8l1.1 -4.1l1 -4.2l1.1 -3.4l1.1 -1.6l1 .1l1.1 .2l1.1 .4l1 .5l1.1 .5l1.1 .9l1 1l1.1 1.1l1.1 .8l1 .6l1.1 .1l1.1 -.6l1 -1l1.1 -1.2l1.1 -1.2l1.1 -.8l1 -.5l1.1 -.5l1.1 -.4l1 -.2l1.1 .2l1.1 1l1 1.7l1.1 3.6l1.1 9.7l1 12l1.1 10l1.1 9.4l1 8.8l1.1 7.7l1.1 6.8l1 6.2l1.1 5.8l1.1 5.2l1 4.6l1.1 4.2l1.1 3.9l1 3.5l1.1 3.1l1.1 2.8l1 2.8l1.1 2.7l1.1 2.2l1 1.5l1.1 .4l1.1 0l1 .1l1.1 0l1.1 .1l1 0l1.1 .1l1.1 -.1l1 -1l1.1 -1.5l1.1 -2.1l1 -2.4l1.1 -2.7l1.1 -2.6l1 -2.6l1.1 -2.3l1.1 -2.6l1.1 -2.8l1 -3l1.1 -3l1.1 -2.8l1 -2.6l1.1 -2.3l1.1 -1.9l1 -1.4l1.1 -1.2l1.1 -1.1l1 -1.1l1.1 -1.1l1.1 -1.3l1 -1.5l1.1 -1.7l1.1 -1.8l1 -2l1.1 -2.1l1.1 -2.2l1 -2.5l1.1 -2.9l1.1 -3.6l1 -3.9l1.1 -4.1l1.1 -3.9l1 -3.6l1.1 -3l1.1 -3l1 -3.1l1.1 -3l1.1 -2.5l1 -2l1.1 -1l1.1 .1l1 2.1l1.1 3.6l1.1 4.3l1 4.4l1.1 4.3l1.1 5.2l1 5.5l1.1 5.3l1.1 4.3l1 3.3l1.1 3.4l1.1 2.9l1.1 2.1l1 1.1l1.1 -.2l1.1 -.8l1 -1.2l1.1 -1.4l1.1 -1.4l1 -1.3l1.1 -.9l1.1 -.9l1 -.9l1.1 -.7l1.1 -.5l1 0l1.1 .7l1.1 1.4l1 2.1l1.1 2.5l1.1 3l1 5.8l1.1 8.6l1.1 10l1 10.1l1.1 9.4l1.1 9.5l1 9.9l1.1 9.9l1.1 9.6l1 9l1.1 9.1l1.1 8.8l1 8.3l1.1 7.4l1.1 6.2l1 6l1.1 5.4l1.1 4.3l1 2.7l1.1 1.5l1.1 1.3l1 1l1.1 .9l1.1 .7l1 .6l1.1 .4l1.1 .4l1.1 .3l1 .4l1.1 .4l1.1 .2l1 .2l1.1 .3l1.1 .2l1 .2l1.1 .4l1.1 -.4l1 .2l1.1 .1l1.1 0l1 .3l1.1 .5l1.1 .4l1 0l1.1 -.4l1.1 -.6l1 .1l1.1 .4l1.1 .1l1 0l1.1 -.1l2.1 .5l2.2 -.2l2.1 -.2l2.1 1l2.2 -.2l2.1 -.8l2.1 .3l2.2 .2l2.1 .2l2.1 .7l2.2 -.1l2.1 -.3l2.2 -.1l2.1 -.4l2.1 .3l2.2 -.1l2.1 .4l2.1 .1l2.2 -.5l2.1 -.2l2.1 -.1l2.2 0l2.1 0l2.1 -.3l2.2 .2l2.1 1.2l2.1 -.7l2.2 0l2.1 .6l2.1 -.2l2.2 -.4l2.1 .4l2.2 0l2.1 -.7l2.1 .9l2.2 -.4l2.1 -1.4l2.1 .4l2.2 .5l2.1 -.3l2.1 -.1l2.2 -.2l2.1 .7l2.1 .9l2.2 -1l2.1 -.6l2.1 .1l2.2 .1l2.1 -.3l2.1 -.1l2.2 .3l2.1 -.9l2.1 .1l2.2 .1l2.1 .9l2.2 .4l2.1 -.6l2.1 .5l2.2 1.4l2.1 .4l2.1 -.4l2.2 1.7l2.1 1.7l2.1 .3l2.2 .5l2.1 1.1l2.1 -.4l2.2 .6l2.1 1.3l2.1 .2l2.2 .5l2.1 1.2l2.1 .1l2.2 -.4l2.1 -.5l2.1 -.1l2.2 1.5l2.1 -.3l2.2 -.8l2.1 .8l2.1 1.2l2.2 .6l2.1 -.5l2.1 -.1l2.2 -.2l2.1 .6l2.1 .4l2.2 0l2.1 .2l2.1 -.5l2.2 .8l2.1 -.1l2.1 0l2.2 .3l2.1 -.7l2.1 -.1l2.2 .8l2.1 .4l2.1 -.5l2.2 -.4l2.1 .6l2.2 1l2.1 -.2l2.1 0l2.2 -1.2l2.1 -.4l2.1 1.3l2.2 .3l2.1 -.2l2.1 .1l2.2 0l2.1 -.2l2.1 -.2l2.2 .4l2.1 .2l2.1 -.2l2.2 .8l2.1 .3l2.1 -.5l2.2 -.5l2.1 -.1l2.1 .9l2.2 .4l2.1 -.3l2.2 -.2l2.1 0l2.1 .3l2.2 -.2l2.1 -1l2.1 .9l2.2 1.3l2.1 -.8l2.1 .1l2.2 -.4l2.1 0" stroke="#f02c2c" stroke-width="2.90" fill="none" stroke-linejoin="round" stroke-linecap="round" clip-path="url(#cc)"/>
<path d="M149.6 978.7l1.1 128.8l1 128.7l1.1 122.9l1.1 75l1 56.6l1.1 41.4l1.1 31.1l1 22.5l1.1 15.2l1.1 10.8l1 8l1.1 6.3l1.1 5.7l1 5l1.1 2.6l1.1 1l1 .6l1.1 .4l1.1 -.3l1 -1l1.1 -1.3l1.1 -1.4l1.1 -2l1 -2.4l1.1 -2.5l1.1 -2.5l1 -2.7l1.1 -2.8l1.1 -2.9l1 -2.8l1.1 -2.7l1.1 -2.6l1 -2.4l1.1 -2.4l1.1 -2.5l1 -2.8l1.1 -3.2l1.1 -3.5l1 -3.9l1.1 -4.2l1.1 -4.8l1 -5l1.1 -4.9l1.1 -4.6l1 -4.4l1.1 -4.4l1.1 -4.3l1 -4l1.1 -3.8l1.1 -4.2l1 -4.4l1.1 -3.4l1.1 -1.6l1 .1l1.1 .4l1.1 .4l1 .5l1.1 .6l1.1 1l1 1.1l1.1 1.1l1.1 1l1 .6l1.1 .1l1.1 -.5l1 -1l1.1 -1.2l1.1 -1.1l1.1 -.8l1 -.5l1.1 -.5l1.1 -.3l1 -.2l1.1 .3l1.1 1l1 1.7l1.1 3.8l1.1 10l1 12.3l1.1 10.3l1.1 9.6l1 9.1l1.1 7.8l1.1 7l1 6.4l1.1 5.9l1.1 5.2l1 4.7l1.1 4.3l1.1 3.9l1 3.6l1.1 3.1l1.1 2.8l1 2.8l1.1 2.8l1.1 2.3l1 1.4l1.1 .3l1.1 0l1 0l1.1 0l1.1 0l1 0l1.1 0l1.1 -.2l1 -1l1.1 -1.7l1.1 -2.3l1 -2.6l1.1 -2.8l1.1 -2.9l1 -2.7l1.1 -2.5l1.1 -2.8l1.1 -3l1 -3.1l1.1 -3.1l1.1 -3l1 -2.8l1.1 -2.4l1.1 -2l1 -1.5l1.1 -1.3l1.1 -1.2l1 -1.2l1.1 -1.2l1.1 -1.3l1 -1.6l1.1 -1.8l1.1 -1.9l1 -2l1.1 -2.2l1.1 -2.4l1 -2.5l1.1 -3.1l1.1 -3.6l1 -4.1l1.1 -4.2l1.1 -4.1l1 -3.7l1.1 -3.1l1.1 -3.2l1 -3.2l1.1 -3l1.1 -2.7l1 -2l1.1 -1.1l1.1 .2l1 2.1l1.1 3.6l1.1 4.5l1 4.4l1.1 4.4l1.1 5.4l1 5.7l1.1 5.4l1.1 4.4l1 3.4l1.1 3.4l1.1 3l1.1 2.2l1 1l1.1 -.2l1.1 -.8l1 -1.2l1.1 -1.4l1.1 -1.5l1 -1.4l1.1 -1l1.1 -.9l1 -.9l1.1 -.8l1.1 -.5l1 -.1l1.1 .7l1.1 1.5l1 2l1.1 2.6l1.1 3.1l1 6l1.1 8.8l1.1 10.3l1 10.5l1.1 9.6l1.1 9.8l1 10.2l1.1 10.2l1.1 9.8l1 9.3l1.1 9.3l1.1 9.1l1 8.5l1.1 7.6l1.1 6.4l1 6.1l1.1 5.6l1.1 4.4l1 2.7l1.1 1.5l1.1 1.3l1 1.1l1.1 .9l1.1 .7l1 .6l1.1 .5l1.1 .3l1.1 .4l1 .3l1.1 .3l1.1 .2l1 0l1.1 .7l1.1 .6l1 -.4l1.1 .4l1.1 .7l1 -.5l1.1 -.4l1.1 .7l1 -.1l1.1 .2l1.1 -.1l1 -.4l1.1 .5l1.1 .4l1 .1l1.1 -.3l1.1 -.1l1 -.5l1.1 .9l2.1 .7l2.2 -.7l2.1 .3l2.1 .3l2.2 .1l2.1 -.4l2.1 -.6l2.2 .2l2.1 .3l2.1 -.1l2.2 .3l2.1 .3l2.2 .5l2.1 -.1l2.1 -1.1l2.2 .3l2.1 .9l2.1 -.8l2.2 -.1l2.1 .7l2.1 -.4l2.2 0l2.1 .3l2.1 .1l2.2 .3l2.1 -.2l2.1 -.4l2.2 .8l2.1 -.3l2.1 -1l2.2 .3l2.1 .3l2.2 .6l2.1 -.8l2.1 .1l2.2 0l2.1 .5l2.1 .1l2.2 -.5l2.1 .1l2.1 -.2l2.2 -.2l2.1 -.3l2.1 .2l2.2 -.1l2.1 .2l2.1 -.4l2.2 -.7l2.1 -.6l2.1 -.1l2.2 .2l2.1 .4l2.1 .5l2.2 -.5l2.1 0l2.2 .9l2.1 0l2.1 -.3l2.2 1.7l2.1 1.3l2.1 .2l2.2 1.6l2.1 .4l2.1 .1l2.2 .3l2.1 .7l2.1 1.4l2.2 0l2.1 .1l2.1 .6l2.2 .6l2.1 1l2.1 .3l2.2 -.3l2.1 .3l2.1 -.3l2.2 .2l2.1 .3l2.2 .5l2.1 -.1l2.1 -.3l2.2 1.1l2.1 -.2l2.1 -.5l2.2 1.2l2.1 .2l2.1 -.3l2.2 .7l2.1 -.3l2.1 -.6l2.2 1l2.1 .5l2.1 -.2l2.2 0l2.1 .1l2.1 -.2l2.2 -.5l2.1 .2l2.1 .4l2.2 .2l2.1 .2l2.2 .4l2.1 .1l2.1 .2l2.2 0l2.1 0l2.1 .8l2.2 .4l2.1 -1.1l2.1 .1l2.2 .1l2.1 0l2.1 .7l2.2 -.3l2.1 -.3l2.1 .2l2.2 .7l2.1 -.5l2.1 -.4l2.2 .5l2.1 .7l2.1 0l2.2 -.5l2.1 -.2l2.2 .5l2.1 .3l2.1 .1l2.2 -.3l2.1 -.6l2.1 .1l2.2 .4l2.1 -.3l2.1 0l2.2 -.1l2.1 0" stroke="#e8007c" stroke-width="2.90" fill="none" stroke-linejoin="round" stroke-linecap="round" clip-path="url(#cc)"/>
<path d="M149.6 1242.7l1.1 149l1 56.4l1.1 65.1l1.1 60.9l1 26.8l1.1 16.6l1.1 18.7l1 12.2l1.1 8.3l1.1 5.8l1 2.2l1.1 1.1l1.1 .6l1 0l1.1 -.8l1.1 -1.3l1 -1.5l1.1 -2.3l1.1 -3.3l1 -3.9l1.1 -3.8l1.1 -3.8l1.1 -3.9l1 -4.1l1.1 -4l1.1 -4.2l1 -4.1l1.1 -4.3l1.1 -4.2l1 -4.4l1.1 -4.4l1.1 -4.4l1 -4.4l1.1 -4.4l1.1 -4.1l1 -3.9l1.1 -4.2l1.1 -4.5l1 -5.3l1.1 -6l1.1 -6.1l1 -5.8l1.1 -5.9l1.1 -5.6l1 -5.1l1.1 -4.7l1.1 -4.3l1 -3.9l1.1 -3.5l1.1 -3.1l1 -3l1.1 -3.2l1.1 -3.1l1 -2l1.1 -1.5l1.1 -1l1 .2l1.1 1l1.1 1.3l1 1.4l1.1 1.7l1.1 1.8l1 2.2l1.1 1.5l1.1 .9l1 .6l1.1 -.4l1.1 -1.4l1.1 -1.6l1 -1.5l1.1 -1.5l1.1 -1.2l1 -.4l1.1 .4l1.1 1.2l1 1.8l1.1 4l1.1 6.9l1 10.2l1.1 11.5l1.1 12.6l1 11.5l1.1 11.5l1.1 11.2l1 10.3l1.1 9.1l1.1 8.2l1 7.9l1.1 7.3l1.1 5.9l1 4.1l1.1 2.7l1.1 2.3l1 2l1.1 1.3l1.1 .5l1 -.2l1.1 -.8l1.1 -1.1l1 -1.4l1.1 -1.5l1.1 -2.2l1 -3.1l1.1 -3.8l1.1 -4.3l1 -4.5l1.1 -4.4l1.1 -4.1l1 -4.4l1.1 -4.7l1.1 -4.8l1 -4.5l1.1 -4.1l1.1 -3.2l1.1 -2.5l1 -2l1.1 -1.8l1.1 -1.5l1 -1.4l1.1 -1.3l1.1 -1.1l1 -1l1.1 -1.1l1.1 -1l1 -.9l1.1 -1l1.1 -1.2l1 -1.8l1.1 -2.7l1.1 -3.5l1 -4.1l1.1 -4.4l1.1 -4.4l1 -4.2l1.1 -4.2l1.1 -4.5l1 -4.6l1.1 -4.6l1.1 -4.4l1 -3.9l1.1 -3.4l1.1 -3.4l1 -3.5l1.1 -3.3l1.1 -2.7l1 -2.1l1.1 -.9l1.1 .4l1 2.4l1.1 3.7l1.1 4.5l1 4.6l1.1 4.7l1.1 5.9l1 6.5l1.1 6.3l1.1 5.2l1 4.3l1.1 4.3l1.1 3.8l1.1 2.9l1 1.4l1.1 -.2l1.1 -.9l1 -1.3l1.1 -1.4l1.1 -1.4l1 -1.2l1.1 -1.5l1.1 -1.6l1 -1.4l1.1 -1l1.1 -.4l1 .5l1.1 1.6l1.1 2.1l1 2.7l1.1 3.9l1.1 5.2l1 8.3l1.1 10.9l1.1 12.3l1 12.6l1.1 11.7l1.1 12.1l1 12.5l1.1 12.4l1.1 11.7l1 10.7l1.1 10l1.1 9.6l1 9.1l1.1 8.4l1.1 7.8l1 8.1l1.1 7.4l1.1 5.4l1 2.5l1.1 1.5l1.1 1.2l1 .9l1.1 .8l1.1 .7l1 .6l1.1 .6l1.1 .5l1.1 .6l1 .3l1.1 .3l1.1 .4l1 .2l1.1 0l1.1 .2l1 -.1l1.1 .2l1.1 .4l1 -.2l1.1 -.2l1.1 -.1l1 .4l1.1 .2l1.1 -.3l1 .6l1.1 .3l1.1 0l1 0l1.1 .1l1.1 .1l1 -.4l1.1 .1l2.1 .3l2.2 0l2.1 .3l2.1 0l2.2 -.4l2.1 .7l2.1 1.1l2.2 -.5l2.1 -.2l2.1 .3l2.2 -.7l2.1 -.4l2.2 .1l2.1 0l2.1 -.1l2.2 0l2.1 -.3l2.1 .2l2.2 0l2.1 -.8l2.1 .7l2.2 .6l2.1 .2l2.1 -.3l2.2 -.7l2.1 .4l2.1 .2l2.2 -.4l2.1 -.2l2.1 .2l2.2 -.5l2.1 .1l2.2 .2l2.1 .1l2.1 .2l2.2 0l2.1 1.5l2.1 -.3l2.2 -1.3l2.1 .9l2.1 .3l2.2 -1.1l2.1 .7l2.1 -.6l2.2 -.9l2.1 .7l2.1 .3l2.2 -.2l2.1 .6l2.1 1.2l2.2 -.2l2.1 -.4l2.1 -.4l2.2 .5l2.1 .5l2.2 .3l2.1 .8l2.1 .1l2.2 -.7l2.1 .2l2.1 2l2.2 1.4l2.1 1l2.1 .1l2.2 .2l2.1 1.3l2.1 0l2.2 .3l2.1 1.4l2.1 .8l2.2 -.1l2.1 .3l2.1 .9l2.2 -.2l2.1 0l2.1 1l2.2 -.2l2.1 .3l2.2 .4l2.1 .1l2.1 .6l2.2 -.2l2.1 -.3l2.1 -.2l2.2 .3l2.1 .5l2.1 .5l2.2 0l2.1 -.2l2.1 .7l2.2 .1l2.1 -.3l2.1 .5l2.2 0l2.1 -.4l2.1 .3l2.2 -.1l2.1 -.5l2.1 -.4l2.2 .4l2.1 1l2.2 .5l2.1 .2l2.1 .1l2.2 -.7l2.1 -.8l2.1 .1l2.2 .5l2.1 0l2.1 .5l2.2 .1l2.1 -.1l2.1 .6l2.2 -.7l2.1 -.4l2.1 1.1l2.2 .5l2.1 -.3l2.1 -.6l2.2 -.3l2.1 .5l2.1 .7l2.2 .2l2.1 -.4l2.2 0l2.1 .3l2.1 -.7l2.2 -.6l2.1 .7l2.1 .8l2.2 .4l2.1 -.7l2.1 -.3l2.2 0l2.1 -.1" stroke="#000" stroke-width="3.40" fill="none" stroke-linejoin="round" stroke-linecap="round" clip-path="url(#cc)"/>
<rect x="149.6" y="1358.0" width="533.7" height="430.1" fill="none" stroke="#000" stroke-width="2.3"/>
<path d="M149.6 1788.1v8.2M256.3 1788.1v8.2M256.3 1358.0v7.5M363.1 1788.1v8.2M363.1 1358.0v7.5M469.8 1788.1v8.2M469.8 1358.0v7.5M576.6 1788.1v8.2M576.6 1358.0v7.5M683.3 1788.1v8.2M203.0 1788.1v4.3M203.0 1358.0v4M309.7 1788.1v4.3M309.7 1358.0v4M416.4 1788.1v4.3M416.4 1358.0v4M523.2 1788.1v4.3M523.2 1358.0v4M629.9 1788.1v4.3M629.9 1358.0v4M149.6 1783.4h-8.3M683.3 1783.4h-7.5M149.6 1706.2h-8.3M683.3 1706.2h-7.5M149.6 1628.9h-8.3M683.3 1628.9h-7.5M149.6 1551.7h-8.3M683.3 1551.7h-7.5M149.6 1474.4h-8.3M683.3 1474.4h-7.5M149.6 1397.2h-8.3M683.3 1397.2h-7.5M149.6 1744.8h-4.5M683.3 1744.8h-4M149.6 1667.5h-4.5M683.3 1667.5h-4M149.6 1590.3h-4.5M683.3 1590.3h-4M149.6 1513.0h-4.5M683.3 1513.0h-4M149.6 1435.8h-4.5M683.3 1435.8h-4M149.6 1358.5h-4.5" stroke="#000" stroke-width="2.1" fill="none"/>
<g transform="translate(135.60 1792.40) scale(1.0000 1.040)"><text x="-55.66" y="0" font-size="28.60">0.00</text></g>
<g transform="translate(135.60 1715.15) scale(1.0000 1.040)"><text x="-55.66" y="0" font-size="28.60">0.02</text></g>
<g transform="translate(135.60 1637.90) scale(1.0000 1.040)"><text x="-55.66" y="0" font-size="28.60">0.04</text></g>
<g transform="translate(135.60 1560.65) scale(1.0000 1.040)"><text x="-55.66" y="0" font-size="28.60">0.06</text></g>
<g transform="translate(135.60 1483.40) scale(1.0000 1.040)"><text x="-55.66" y="0" font-size="28.60">0.08</text></g>
<g transform="translate(135.60 1406.15) scale(1.0000 1.040)"><text x="-55.66" y="0" font-size="28.60">0. 0</text><path transform="translate(-31.81 0) scale(0.01396 -0.01396)" stroke="#000" stroke-width="25.06" d="M763 0H583V1098Q518 1038 412 979Q307 920 223 891V1058Q374 1126 487 1222Q600 1319 647 1409H763Z"/></g>
<g transform="translate(149.60 1824.30) scale(1.0000 1.040)"><text x="-23.86" y="0" font-size="28.60">300</text></g>
<g transform="translate(256.34 1824.30) scale(1.0000 1.040)"><text x="-23.86" y="0" font-size="28.60">400</text></g>
<g transform="translate(363.08 1824.30) scale(1.0000 1.040)"><text x="-23.86" y="0" font-size="28.60">500</text></g>
<g transform="translate(469.82 1824.30) scale(1.0000 1.040)"><text x="-23.86" y="0" font-size="28.60">600</text></g>
<g transform="translate(576.56 1824.30) scale(1.0000 1.040)"><text x="-23.86" y="0" font-size="28.60">700</text></g>
<g transform="translate(683.30 1824.30) scale(1.0000 1.040)"><text x="-23.86" y="0" font-size="28.60">800</text></g>
<g transform="translate(416.20 1877.90) scale(0.9850 1.040)"><text x="-140.85" y="0" font-size="37.00">Wavelength (nm)</text></g>
<g transform="translate(52.60 1563.65) rotate(-90) scale(0.9850 1.040)"><text x="-98.73" y="0" font-size="37.00">Absorbance</text></g>
<path d="M351.9 1478.2l1 0l1 0l1 0l1 0l1 0l1 0l1 0l1 0l1 0l1 0l1 0l1 0l1 0l1 0l1 0l1 0l1 0l1 0l1 0l1 0l1 0l1 0l1 0l1 0l1 0l1 0l1 0l1 0l1 0l1 0l1 0l1 0l1 0l1 0l1 0l1 0l1 0l1 0l1 0l1 0l1 0l1 0l1 0l1 0l1 0l1 0l1 0l1 0l1 0l1 0l1 0l1 0l1 0l1 0l1 0l1 0l1 0l1 0l1 0l1 0l1 0l1 0l1 0l1 0l1 0l1 0l1 0l1 0l1 0l1 0l1 0l1 0l1 0l1 0l1 0l1 0l1 0l1 0l1 0l1 0l1 0l1 0l1 0l1 0l1 0l1 0l1 0l1 0l1 0l1 0l1 0l1 0l1 0l1 0l1 0l1 0l1 0l1 0l1 0l1 0l1 0l1 0l1 0l1 0l1 0l1 0l1 0l1 0l1 0l1 0l1 0l1 0l1 0l1 0l1 0l1 0l1 0l1 0l1 0l1 0l1 0l1 0l1 0l1 0l1 0l1 0l1 0l1 0l1 0l1 0l1 0l1 0l1 0l1 0l1 0l1 0l1 0l1 0l1 0l1 0l1 0l1 0l1 0l1 0l1 0l1 0l1 0l1 0l1 0l1 0l1 0l1 0l1 0l1 0l1 0l1 0l1 0l1 0l1 0l1 0l1 0l1 0l1 0l1 0l1 0l1 0l1 0l1 0l1 0l1 0l1 0l1 0l1 0l1 0l1 0l1 0l1 0l1 0l1 0l1 0l1 0l1 0l1 0l1 0l1 0l1 0l1 0l1 0l1 0l1 0l1 0l1 0l1 0l1 0l1 0l1 0l1 0l1 0l1 0l1 0l1 0l1 0l1 0l1 0l1 0l1 0l1 0l1 0l1 0l1 0l1 0l1 0l1 0l1 0l1 0l1 0l1 0l1 0l1 0l1 0l1 0l1 0l1 0l1 0l1 0l1 0l1 0l1 0l1 0l1 0l1 0l1 0l1 0l1 0l1 0l1 0l1 0l1 0l1 0l1 0l1 0l1 0l1 0l1 0l1 0l1 0l1 0l1 0l1 0l1 0l1 0l1 0l1 0l1 0l1 0l1 0l1 0l1 0l1 0l1 0l1 0l1 0l1 0l1 0l1 0l1 0l1 0l1 0l1 0l1 0l1 0l1 0l1 0l1 0l1 0l1 0l1 0l1 0l1 0l1 0l1 0l1 0l1 0l1 0l1 0l1 0l1 0l1 0l1 0l1 0l1 0l1 0l1 0l1 0l1 0l1 0l1 0l1 0l1 0l1 0" stroke="#9100c4" stroke-width="2.0" fill="none" stroke-linejoin="round"/>
<path d="M351.9 1478.2l1 -.2l1 -.4l1 -.4l1 -.4l1 -.1l1 .1l1 -.1l1 -.4l1 -.5l1 .3l1 .1l1 -.3l1 -.3l1 -.5l1 -.3l1 .2l1 -.1l1 -.7l1 -.1l1 .6l1 0l1 -.3l1 0l1 -.1l1 -.2l1 -.3l1 .3l1 .2l1 -.2l1 -.4l1 -.2l1 -.1l1 -.5l1 .2l1 .4l1 .1l1 0l1 -.5l1 -.2l1 -.3l1 -.5l1 0l1 -.2l1 0l1 -.5l1 0l1 .1l1 0l1 .4l1 -.5l1 -.2l1 .5l1 -.1l1 -.2l1 .3l1 .4l1 .4l1 -.1l1 .2l1 .5l1 .2l1 -.4l1 -.4l1 .2l1 .3l1 -.1l1 -.3l1 -.4l1 .3l1 .1l1 .1l1 -.3l1 -.5l1 .1l1 .5l1 .5l1 -.5l1 -.5l1 .5l1 .7l1 -.2l1 .1l1 .6l1 .6l1 .3l1 .5l1 .2l1 .2l1 .6l1 .3l1 .1l1 .5l1 -.1l1 .4l1 .6l1 -.3l1 0l1 .5l1 .2l1 -.6l1 -.3l1 .4l1 .6l1 .2l1 -.4l1 -.1l1 .1l1 -.2l1 .1l1 -.4l1 .1l1 .6l1 -.3l1 -.3l1 -.1l1 .2l1 .3l1 0l1 .3l1 -.5l1 -.6l1 .3l1 .4l1 .1l1 -.4l1 .1l1 .3l1 .3l1 -.1l1 -.4l1 -.2l1 -.1l1 .3l1 .3l1 -.2l1 -.2l1 .4l1 0l1 -.2l1 -.2l1 -.2l1 -.3l1 -.1l1 .5l1 .5l1 -.1l1 -.5l1 .1l1 .5l1 -.1l1 0l1 0l1 -.5l1 -.2l1 .3l1 .6l1 .2l1 -.5l1 -.1l1 .1l1 -.2l1 0l1 0l1 .2l1 .4l1 .1l1 -.4l1 -.2l1 -.1l1 -.3l1 .2l1 .3l1 0l1 0l1 .2l1 0l1 -.2l1 -.5l1 .4l1 .2l1 -.2l1 .2l1 -.2l1 .3l1 .2l1 -.4l1 -.3l1 -.2l1 -.1l1 .3l1 .2l1 -.3l1 .2l1 .1l1 0l1 -.1l1 -.2l1 .3l1 0l1 -.1l1 .3l1 -.2l1 -.4l1 -.3l1 .1l1 0l1 .4l1 .1l1 -.4l1 0l1 .3l1 -.3l1 .2l1 .5l1 -.3l1 .1l1 -.3l1 -.2l1 .3l1 .1l1 .3l1 -.1l1 -.5l1 .1l1 .3l1 0l1 -.1l1 -.1l1 0l1 .1l1 -.1l1 -.2l1 .4l1 -.1l1 -.2l1 .3l1 -.1l1 .1l1 -.1l1 0l1 -.2l1 -.5l1 .4l1 .6l1 .3l1 -.5l1 -.3l1 .1l1 -.5l1 .3l1 .4l1 .1l1 .2l1 -.4l1 -.2l1 .1l1 .2l1 0l1 .5l1 .1l1 -.8l1 0l1 .5l1 0l1 -.3l1 -.2l1 -.1l1 -.1l1 .1l1 .3l1 0l1 .3l1 .2l1 -.4l1 -.1l1 .4l1 -.4l1 -.2l1 .9l1 .2l1 -.8l1 -.1l1 .1l1 .6l1 -.1l1 -.6l1 0l1 -.2l1 -.6l1 .2l1 .9l1 -.1l1 0l1 .3l1 0l1 -.5l1 .2l1 .5l1 -.1l1 -.2" stroke="#5f00d2" stroke-width="2.0" fill="none" stroke-linejoin="round"/>
<path d="M351.9 1478.2l1 -.7l1 -.5l1 -.3l1 -.8l1 -.7l1 -.8l1 -.8l1 -.6l1 -.5l1 0l1 -.6l1 -.9l1 -.6l1 -.2l1 -.4l1 -.4l1 -.2l1 -.3l1 -.6l1 -.7l1 -.3l1 0l1 -.2l1 -.1l1 -.4l1 -.5l1 .2l1 -.5l1 -.3l1 -.1l1 -.2l1 -.1l1 -.1l1 -.5l1 -.8l1 -.2l1 0l1 -.2l1 -.4l1 -.4l1 -.7l1 -.9l1 -.6l1 -.6l1 .1l1 -.2l1 -1l1 0l1 .2l1 -.2l1 .8l1 .3l1 .2l1 .5l1 .3l1 -.1l1 .5l1 .5l1 -.2l1 .5l1 1l1 .3l1 -.1l1 .2l1 0l1 -.4l1 -.3l1 -.1l1 -.3l1 -.3l1 .3l1 -.4l1 -.3l1 -.2l1 -.1l1 .6l1 -.1l1 -.1l1 .7l1 1l1 .9l1 1.1l1 1.1l1 1.2l1 .8l1 .4l1 1.1l1 1.3l1 .9l1 1.2l1 .9l1 .4l1 .8l1 .4l1 .5l1 .7l1 .4l1 .3l1 -.1l1 0l1 -.2l1 0l1 .4l1 .2l1 .1l1 -.1l1 .1l1 -.3l1 0l1 .1l1 -.3l1 -.3l1 .5l1 .6l1 .2l1 -.5l1 0l1 .5l1 -.6l1 -.2l1 .5l1 -.1l1 -.1l1 -.2l1 -.3l1 .3l1 0l1 -.2l1 .1l1 -.3l1 .3l1 .2l1 -.4l1 -.1l1 .1l1 -.1l1 .2l1 .1l1 0l1 -.1l1 -.4l1 0l1 .2l1 -.1l1 .2l1 .2l1 0l1 0l1 -.1l1 -.1l1 -.4l1 .3l1 .2l1 0l1 0l1 -.1l1 0l1 -.5l1 .5l1 .3l1 -.1l1 0l1 -.5l1 0l1 .6l1 .2l1 .1l1 -.2l1 -.4l1 0l1 -.3l1 .2l1 .3l1 0l1 -.4l1 .1l1 0l1 .2l1 -.1l1 -.3l1 0l1 -.1l1 -.1l1 .1l1 -.3l1 .5l1 .6l1 -.4l1 -.3l1 0l1 .2l1 0l1 -.3l1 -.1l1 -.1l1 0l1 .2l1 -.1l1 .1l1 .3l1 .3l1 -.1l1 -.5l1 .3l1 -.1l1 -.4l1 .2l1 0l1 .3l1 .3l1 -.1l1 -.1l1 -.1l1 0l1 -.2l1 .1l1 .1l1 .1l1 -.2l1 -.4l1 0l1 -.3l1 0l1 .4l1 .2l1 -.4l1 .2l1 .5l1 -.7l1 .1l1 .4l1 0l1 .4l1 -.3l1 -.4l1 .2l1 -.2l1 0l1 .4l1 -.2l1 -.2l1 .4l1 0l1 -.5l1 0l1 .2l1 .3l1 0l1 .2l1 -.2l1 -.3l1 .1l1 .3l1 .6l1 -.6l1 -.1l1 .2l1 -.5l1 -.2l1 .4l1 .4l1 -.1l1 -.1l1 .2l1 0l1 -.3l1 0l1 .4l1 -.3l1 .2l1 .6l1 -.2l1 .1l1 -.2l1 -.6l1 .1l1 0l1 .6l1 .1l1 -.3l1 0l1 .4l1 0l1 -.4l1 0l1 .4l1 -.1l1 .1l1 .1l1 -.3l1 .1l1 .4l1 -.1l1 -.1l1 .2l1 -.2l1 -.1l1 .1l1 .2l1 -.1" stroke="#1428f0" stroke-width="2.0" fill="none" stroke-linejoin="round"/>
<path d="M351.9 1478.3l1 -.9l1 -1.2l1 -.9l1 -.8l1 -.8l1 -1.1l1 -1l1 -1.1l1 -.9l1 -.3l1 -.3l1 -.7l1 -.8l1 -.3l1 -1.1l1 -.8l1 -.5l1 -.7l1 -.2l1 -.6l1 -.4l1 -.1l1 -.5l1 -.1l1 -.3l1 -.8l1 -.1l1 -.1l1 -.4l1 -.4l1 -.6l1 -.4l1 -.6l1 -.4l1 -.3l1 -.3l1 .4l1 -.6l1 -1.6l1 -.6l1 -.8l1 -1.2l1 -.6l1 -.5l1 -.4l1 -.5l1 -.4l1 -.1l1 .3l1 -.2l1 .1l1 .1l1 .6l1 .7l1 .8l1 .5l1 .5l1 .5l1 -.1l1 .7l1 .9l1 .7l1 -.2l1 -.2l1 -.1l1 -.6l1 -.4l1 .1l1 -.2l1 -.5l1 -.6l1 -.2l1 .3l1 .3l1 -.1l1 -.3l1 .2l1 .6l1 1l1 1l1 1.5l1 1.5l1 .9l1 1.2l1 1.2l1 1.3l1 2l1 1.9l1 .9l1 1.1l1 1.7l1 1.2l1 .8l1 1.2l1 .5l1 .4l1 .3l1 .4l1 -.1l1 .2l1 .5l1 -.2l1 .1l1 .1l1 -.6l1 -.2l1 .6l1 .6l1 -.1l1 -.4l1 .1l1 .5l1 .1l1 -.5l1 .1l1 .3l1 -.1l1 0l1 0l1 -.1l1 -.3l1 0l1 .2l1 .2l1 -.3l1 -.2l1 0l1 .1l1 0l1 -.7l1 .3l1 .5l1 -.4l1 -.2l1 0l1 .1l1 .1l1 .3l1 0l1 .1l1 -.2l1 .1l1 .1l1 0l1 .1l1 -.2l1 .2l1 .2l1 -.3l1 .2l1 .4l1 -.7l1 -.8l1 .2l1 .5l1 .3l1 .1l1 -.2l1 0l1 .2l1 -.3l1 -.1l1 .3l1 -.2l1 -.4l1 0l1 .4l1 .3l1 -.1l1 -.3l1 -.1l1 .3l1 -.1l1 0l1 .1l1 -.3l1 .1l1 .2l1 .2l1 -.2l1 -.1l1 0l1 -.6l1 -.3l1 .4l1 .7l1 -.4l1 -.4l1 .2l1 -.3l1 .1l1 .4l1 -.2l1 -.2l1 .1l1 .3l1 -.3l1 -.2l1 .5l1 -.6l1 -.1l1 1l1 -.4l1 -.1l1 .2l1 -.1l1 0l1 -.3l1 -.4l1 .8l1 0l1 -.5l1 .6l1 .1l1 -.3l1 -.5l1 -.1l1 .1l1 -.3l1 .4l1 .5l1 -.2l1 -.3l1 .2l1 .3l1 -.3l1 0l1 .4l1 -.3l1 -.4l1 .1l1 .4l1 .2l1 -.3l1 0l1 0l1 -.2l1 0l1 -.1l1 .3l1 -.1l1 -.1l1 .1l1 -.2l1 0l1 0l1 -.2l1 0l1 .6l1 .3l1 -.5l1 -.4l1 .3l1 .6l1 .1l1 -.4l1 .1l1 .1l1 -.1l1 0l1 .3l1 .2l1 -.2l1 0l1 .6l1 0l1 -.3l1 -.6l1 .1l1 1l1 0l1 -.3l1 -.1l1 .6l1 -.3l1 -.7l1 .4l1 .2l1 -.7l1 0l1 .6l1 -.2l1 0l1 .3l1 -.4l1 .1l1 .8l1 .3l1 -.7l1 -.6l1 .3l1 .4l1 -.3l1 -.2l1 .6l1 .3l1 -.1l1 0l1 0l1 0" stroke="#0896f5" stroke-width="2.0" fill="none" stroke-linejoin="round"/>
<path d="M351.9 1478.1l1 -1.3l1 -1.4l1 -1.1l1 -1.1l1 -1.3l1 -1.1l1 -1.4l1 -1.3l1 -1.1l1 -1.1l1 -.5l1 -.8l1 -1.1l1 -1.3l1 -1.1l1 0l1 -.7l1 -1.1l1 -.3l1 -.7l1 -.5l1 -.2l1 -.8l1 -.7l1 .1l1 -.3l1 -1l1 .2l1 -.5l1 -.5l1 -.3l1 -.8l1 -.8l1 -.8l1 -.3l1 -.6l1 -.5l1 -.4l1 -.9l1 -1.1l1 -1.2l1 -1.1l1 -1l1 -.9l1 -.8l1 -1l1 -.9l1 -.1l1 .6l1 .1l1 -.2l1 .5l1 1l1 .9l1 .5l1 .4l1 .8l1 1.2l1 .8l1 .9l1 .6l1 .4l1 .4l1 -.6l1 -.7l1 -.1l1 .2l1 -.5l1 -1l1 -.1l1 -.3l1 -.9l1 -.3l1 .6l1 0l1 -.4l1 .9l1 1.1l1 1l1 1.1l1 1.4l1 2.1l1 1.6l1 1.8l1 2.1l1 2.1l1 2l1 1.6l1 2l1 2.1l1 1.8l1 1.4l1 1.2l1 1.1l1 .6l1 .8l1 .8l1 .7l1 .3l1 .1l1 .4l1 -.5l1 -.3l1 .4l1 .2l1 -.2l1 .2l1 .5l1 0l1 -.1l1 -.2l1 .1l1 .2l1 -.6l1 .2l1 .5l1 -.2l1 -.5l1 -.2l1 .2l1 -.3l1 .2l1 .7l1 -.3l1 0l1 0l1 -.5l1 .2l1 .3l1 -.3l1 -.4l1 -.1l1 .6l1 .1l1 .3l1 0l1 -.5l1 .2l1 -.2l1 .1l1 -.1l1 -.2l1 -.1l1 -.5l1 .3l1 .2l1 -.3l1 .4l1 .2l1 0l1 .3l1 0l1 -.3l1 -.3l1 .1l1 .4l1 -.4l1 0l1 .2l1 -.1l1 -.1l1 .5l1 -.1l1 -.6l1 .1l1 .1l1 -.5l1 .2l1 .6l1 .2l1 -.3l1 -.7l1 .3l1 0l1 -.1l1 .1l1 0l1 0l1 .1l1 -.1l1 .3l1 .4l1 -.7l1 -.3l1 0l1 .1l1 -.1l1 .4l1 .3l1 -.5l1 -.1l1 .2l1 .1l1 -.2l1 .3l1 .2l1 -.1l1 -.1l1 -.1l1 0l1 .1l1 0l1 -.6l1 -.2l1 .1l1 .3l1 .2l1 -.1l1 .2l1 .3l1 -.4l1 -.2l1 .7l1 -.3l1 -.6l1 .2l1 .1l1 -.2l1 0l1 .4l1 .2l1 -.5l1 -.6l1 -.1l1 .4l1 0l1 -.2l1 .3l1 .1l1 -.3l1 .1l1 .4l1 0l1 -.2l1 -.1l1 .2l1 -.3l1 -.6l1 .2l1 .6l1 .5l1 -.7l1 -.4l1 .4l1 .2l1 .1l1 -.1l1 -.5l1 .3l1 .7l1 -.4l1 -.7l1 .3l1 .1l1 .2l1 .2l1 .1l1 .2l1 0l1 .2l1 0l1 -.3l1 .2l1 0l1 .1l1 .2l1 -.3l1 .2l1 .2l1 .1l1 -.4l1 -.2l1 .4l1 .3l1 -.1l1 .2l1 .1l1 -.1l1 .3l1 -.1l1 -.2l1 .1l1 .2l1 0l1 -.2l1 0l1 .5l1 -.1l1 -.2l1 0l1 .2l1 -.3l1 .2l1 .6l1 -.4l1 0l1 .3l1 .1l1 -.1l1 .3" stroke="#08c2c4" stroke-width="2.0" fill="none" stroke-linejoin="round"/>
<path d="M351.9 1478.2l1 -1.1l1 -1.1l1 -1.5l1 -1.9l1 -1.5l1 -1.2l1 -2.1l1 -1.9l1 -1.1l1 -1l1 -1.2l1 -1.2l1 -.5l1 -.9l1 -1.5l1 -.9l1 -.8l1 -.7l1 -1.1l1 -1.1l1 -.1l1 -.8l1 -.9l1 0l1 -.2l1 -.6l1 -.4l1 -.8l1 -.7l1 0l1 -.6l1 -1l1 -.7l1 -.6l1 -.7l1 -.7l1 -.6l1 -.8l1 -1.6l1 -1.6l1 -.8l1 -1l1 -1.6l1 -1.7l1 -.9l1 -.1l1 -.2l1 -.5l1 -.6l1 -.2l1 .7l1 .5l1 .8l1 .8l1 .9l1 1.1l1 .8l1 1.1l1 1.2l1 .9l1 .7l1 .4l1 -.3l1 -.7l1 0l1 -.1l1 -.2l1 -.5l1 -1l1 -.5l1 -.5l1 -.1l1 .1l1 -.1l1 .3l1 .5l1 .5l1 .4l1 1.2l1 1.6l1 2.2l1 2.5l1 2.4l1 2.1l1 1.8l1 2.3l1 2.6l1 2.4l1 2l1 2.3l1 2.5l1 2.1l1 1.6l1 1.1l1 .7l1 .9l1 .3l1 .8l1 .4l1 0l1 .3l1 0l1 .5l1 .2l1 -.3l1 -.2l1 .4l1 .2l1 -.2l1 .3l1 -.5l1 -.1l1 .9l1 .3l1 0l1 -.5l1 .1l1 .4l1 -.5l1 -.7l1 .1l1 0l1 -.4l1 -.4l1 .1l1 .4l1 .3l1 0l1 -.1l1 .4l1 .6l1 -.1l1 -.9l1 0l1 .2l1 -.1l1 .2l1 .1l1 -.5l1 -.4l1 .3l1 .4l1 .3l1 0l1 -.5l1 -.3l1 0l1 -.2l1 -.1l1 .1l1 .3l1 -.1l1 0l1 .1l1 0l1 -.1l1 .1l1 .1l1 -.6l1 0l1 .6l1 -.2l1 0l1 -.1l1 0l1 0l1 .1l1 .2l1 -.4l1 -.3l1 .5l1 .2l1 -.1l1 -.4l1 -.2l1 .3l1 .2l1 -.1l1 -.2l1 -.1l1 .1l1 -.2l1 -.1l1 0l1 -.1l1 .3l1 .4l1 .1l1 -.3l1 -.4l1 .2l1 .1l1 -.1l1 0l1 -.3l1 .3l1 0l1 -.6l1 .5l1 .1l1 0l1 .3l1 -.1l1 -.2l1 -.3l1 -.2l1 .3l1 .2l1 -.3l1 -.2l1 .1l1 .2l1 .3l1 .2l1 -.2l1 .1l1 .2l1 0l1 -.3l1 -.2l1 .4l1 -.5l1 -.1l1 .4l1 0l1 -.1l1 .1l1 -.2l1 -.4l1 .2l1 .3l1 -.5l1 .1l1 .5l1 -.1l1 -.4l1 0l1 .3l1 -.1l1 -.1l1 -.3l1 -.1l1 0l1 .4l1 0l1 -.3l1 .3l1 .1l1 -.4l1 0l1 .4l1 .5l1 .3l1 -.5l1 -.3l1 .2l1 .3l1 0l1 .1l1 -.1l1 0l1 .6l1 -.6l1 -.2l1 .7l1 .1l1 0l1 0l1 0l1 .1l1 0l1 .3l1 .3l1 -.1l1 -.3l1 -.3l1 .4l1 0l1 0l1 0l1 .2l1 .6l1 -.5l1 -.3l1 -.2l1 .1l1 .7l1 .2l1 -.3l1 .4l1 .2l1 -.3l1 -.1l1 .1l1 .6l1 .1l1 -.9l1 0l1 .8l1 .3" stroke="#08cd84" stroke-width="2.0" fill="none" stroke-linejoin="round"/>
<path d="M351.9 1478.1l1 -1.4l1 -1.8l1 -1.6l1 -1.6l1 -2l1 -2l1 -2.1l1 -1.4l1 -1l1 -1.7l1 -1.4l1 -.8l1 -1.2l1 -1.6l1 -1.2l1 -.7l1 -.8l1 -1.3l1 -1.1l1 -1l1 -.5l1 -.6l1 -.9l1 -.6l1 -.6l1 -.2l1 -.5l1 -.7l1 -.7l1 -.4l1 -1.1l1 -.7l1 -.5l1 -1.2l1 -.9l1 -.4l1 -.7l1 -1l1 -1.2l1 -1.5l1 -1.9l1 -1.8l1 -1.2l1 -1.1l1 -1.3l1 -1l1 -.6l1 -.4l1 -.1l1 .1l1 .5l1 .9l1 1.6l1 1l1 .8l1 .9l1 1.1l1 1.2l1 .7l1 1.4l1 .7l1 -.1l1 0l1 .5l1 0l1 -.8l1 -1l1 -.8l1 -.3l1 -.6l1 -.3l1 -.4l1 0l1 .1l1 -.3l1 .3l1 .5l1 1l1 1.2l1 1.8l1 2.9l1 2.8l1 2.4l1 2.6l1 2.3l1 2.4l1 2.9l1 2.7l1 2.7l1 2.7l1 2.4l1 1.7l1 2.6l1 1.9l1 .6l1 1.1l1 .6l1 .3l1 .8l1 .1l1 0l1 .6l1 .5l1 -.1l1 -.4l1 .3l1 -.2l1 -.3l1 .2l1 -.3l1 -.3l1 .4l1 .8l1 .3l1 .2l1 -.7l1 -.3l1 .7l1 -.3l1 -.7l1 .2l1 .3l1 0l1 0l1 .1l1 .1l1 -.2l1 -.3l1 .1l1 -.1l1 0l1 .4l1 0l1 -.5l1 -.2l1 .4l1 .1l1 -.5l1 -.3l1 .3l1 .4l1 -.1l1 -.1l1 .1l1 .3l1 0l1 -.8l1 -.1l1 .4l1 .3l1 .1l1 -.4l1 -.4l1 .1l1 .2l1 .3l1 .2l1 -.6l1 -.7l1 .2l1 .5l1 -.1l1 -.2l1 .5l1 .2l1 -.6l1 -.1l1 .4l1 -.2l1 .1l1 .2l1 .4l1 -.1l1 -.7l1 -.2l1 .3l1 .5l1 0l1 -.3l1 -.1l1 -.3l1 0l1 -.2l1 .2l1 .3l1 -.1l1 -.3l1 -.1l1 0l1 .1l1 .1l1 0l1 .2l1 .2l1 -.4l1 -.4l1 0l1 .3l1 .1l1 0l1 0l1 0l1 0l1 -.3l1 .1l1 .1l1 -.1l1 .1l1 .3l1 0l1 -.3l1 -.6l1 .1l1 -.2l1 .1l1 .7l1 -.4l1 0l1 .1l1 .2l1 -.1l1 -.4l1 0l1 .2l1 -.1l1 .4l1 .1l1 -.2l1 0l1 -.5l1 -.1l1 -.1l1 .2l1 .4l1 -.1l1 -.5l1 0l1 0l1 -.6l1 .2l1 .2l1 -.1l1 .4l1 .1l1 0l1 .4l1 .4l1 0l1 -.1l1 -.2l1 .4l1 -.1l1 -.2l1 .2l1 .1l1 .1l1 .1l1 .1l1 -.2l1 0l1 0l1 .2l1 .5l1 -.2l1 -.3l1 .1l1 .3l1 -.3l1 -.3l1 .6l1 .2l1 -.4l1 -.4l1 .2l1 .1l1 .2l1 .4l1 .4l1 -.2l1 -.2l1 .1l1 -.3l1 .3l1 0l1 .5l1 .2l1 -.4l1 .5l1 .1l1 -.5l1 .1l1 0l1 .2l1 .5l1 -.3l1 -.3l1 .2l1 -.1l1 -.1l1 .2" stroke="#00d200" stroke-width="2.0" fill="none" stroke-linejoin="round"/>
<path d="M351.9 1478.0l1 -1.6l1 -1.5l1 -1.9l1 -2.1l1 -2.2l1 -2.5l1 -2.2l1 -1.8l1 -1.7l1 -1.5l1 -1.4l1 -1.7l1 -1.2l1 -1.1l1 -1.7l1 -1l1 -.8l1 -1.1l1 -1.2l1 -.9l1 -.6l1 -.9l1 -.8l1 -.8l1 -.1l1 -.5l1 -.9l1 -.4l1 -.4l1 -1l1 -.8l1 -1.3l1 -1.4l1 -.8l1 -.7l1 -.4l1 -1.3l1 -1.4l1 -1l1 -1.8l1 -2l1 -1.7l1 -1.4l1 -1.5l1 -1.8l1 -1.1l1 -.6l1 -.5l1 .2l1 .7l1 .6l1 .6l1 .7l1 .7l1 1l1 1.3l1 1.4l1 1.3l1 1.2l1 1.5l1 1.1l1 .7l1 .2l1 -.6l1 -.4l1 -.5l1 -1.4l1 -.7l1 -.7l1 -.4l1 .1l1 -.8l1 -.3l1 .4l1 .2l1 .4l1 .5l1 .9l1 1.7l1 2.3l1 2.8l1 3l1 2.6l1 2.8l1 3l1 3.3l1 2.6l1 2.5l1 3.1l1 3l1 2.7l1 2.7l1 2.5l1 2.1l1 1.3l1 .6l1 .8l1 .7l1 .7l1 .3l1 .1l1 0l1 .3l1 .3l1 -.2l1 .1l1 .3l1 .5l1 .4l1 -.6l1 -.3l1 -.2l1 -.2l1 .1l1 .7l1 .4l1 -.5l1 -.2l1 -.1l1 -.1l1 .3l1 -.3l1 -.4l1 .4l1 .2l1 -.5l1 -.1l1 .1l1 -.1l1 -.1l1 .2l1 1l1 0l1 -.7l1 -.6l1 .2l1 .6l1 -.4l1 -.1l1 -.1l1 -.5l1 .4l1 0l1 .1l1 .5l1 -.1l1 -.2l1 .3l1 0l1 -.1l1 .2l1 -.5l1 .2l1 .4l1 -.4l1 -.1l1 0l1 -.1l1 -.3l1 -.1l1 .1l1 .3l1 .1l1 -.1l1 -.2l1 .2l1 -.5l1 -.4l1 .6l1 .1l1 -.1l1 .4l1 0l1 -.6l1 -.2l1 0l1 .1l1 .5l1 -.2l1 -.1l1 0l1 .3l1 0l1 -.4l1 .1l1 .2l1 0l1 -.2l1 -.2l1 .1l1 .1l1 -.2l1 -.2l1 0l1 .2l1 -.1l1 -.3l1 0l1 .1l1 .2l1 0l1 -.2l1 .4l1 .2l1 -.6l1 .2l1 .1l1 -.4l1 .2l1 -.1l1 -.2l1 .4l1 .2l1 -.3l1 -.2l1 .1l1 .3l1 -.4l1 -.1l1 .5l1 0l1 -.3l1 0l1 0l1 -.2l1 0l1 -.5l1 0l1 .5l1 .2l1 -.3l1 -.4l1 .2l1 .1l1 .1l1 .3l1 -.3l1 -.3l1 -.1l1 -.4l1 .1l1 .6l1 .3l1 -.1l1 .2l1 0l1 -.3l1 .1l1 0l1 .1l1 0l1 0l1 .3l1 .2l1 -.2l1 .2l1 .1l1 .1l1 .2l1 -.4l1 -.2l1 .7l1 .1l1 -.3l1 .1l1 .3l1 .2l1 0l1 .3l1 0l1 -.4l1 .1l1 .2l1 .4l1 .5l1 -.4l1 -.4l1 .2l1 .1l1 .1l1 -.1l1 .1l1 -.2l1 0l1 .6l1 .5l1 -.3l1 -.3l1 .4l1 -.3l1 0l1 .1l1 -.2l1 -.1l1 .3l1 .2l1 -.4l1 .4l1 .1l1 .2" stroke="#94e02c" stroke-width="2.0" fill="none" stroke-linejoin="round"/>
<path d="M351.9 1478.3l1 -2.1l1 -2.3l1 -2.1l1 -2.1l1 -2.1l1 -2.4l1 -2l1 -2.7l1 -2.4l1 -1.1l1 -1.1l1 -1.3l1 -1.8l1 -1.6l1 -1.8l1 -1.6l1 -.5l1 -1l1 -1.6l1 -1.4l1 -1.2l1 -.7l1 -.5l1 -.4l1 -.5l1 -.5l1 -.6l1 -.9l1 -.3l1 -.6l1 -1.6l1 -1l1 -.7l1 -1.1l1 -1.1l1 -1.6l1 -1.2l1 -1.3l1 -1.7l1 -1.6l1 -1.5l1 -1.8l1 -2.1l1 -1.4l1 -1.5l1 -1.1l1 -.7l1 -.9l1 -.1l1 .6l1 .9l1 1.1l1 .8l1 .7l1 1.6l1 2.1l1 1.4l1 .7l1 .9l1 1.6l1 1.4l1 .4l1 .2l1 .3l1 -.8l1 -1.5l1 -.9l1 -.9l1 -.3l1 -.7l1 -.5l1 0l1 -.2l1 -.4l1 .1l1 .7l1 .8l1 1.3l1 1.4l1 2.4l1 3.6l1 3.3l1 2.7l1 2.9l1 3.1l1 3.2l1 3.8l1 3l1 3.7l1 3.7l1 2.1l1 2.4l1 2.7l1 2.3l1 1.2l1 1.1l1 .9l1 .5l1 1.2l1 .6l1 -.2l1 .5l1 .3l1 -.1l1 -.1l1 .2l1 .1l1 0l1 .2l1 .3l1 .1l1 -.2l1 -.4l1 .1l1 .1l1 .4l1 .1l1 -.9l1 -.1l1 .5l1 -.4l1 0l1 -.1l1 -.2l1 .2l1 0l1 .1l1 -.2l1 0l1 0l1 -.1l1 .4l1 -.3l1 -.3l1 .5l1 .3l1 -.5l1 -.4l1 .2l1 0l1 -.1l1 -.2l1 .1l1 0l1 -.1l1 .4l1 -.2l1 -.4l1 -.2l1 -.1l1 .7l1 0l1 -.7l1 .5l1 .2l1 .2l1 .2l1 -.1l1 -.3l1 -.3l1 0l1 .3l1 .2l1 -.1l1 -.5l1 -.3l1 .2l1 0l1 -.1l1 .2l1 .5l1 .2l1 -.4l1 -.4l1 .1l1 0l1 -.2l1 .2l1 -.3l1 -.3l1 0l1 .2l1 .1l1 -.4l1 .3l1 0l1 0l1 .2l1 .3l1 -.2l1 -.6l1 .4l1 .2l1 -.1l1 -.1l1 .1l1 .1l1 .1l1 -.4l1 -.2l1 .2l1 .1l1 -.2l1 .1l1 -.1l1 0l1 .4l1 -.6l1 0l1 -.1l1 .1l1 0l1 -.1l1 .3l1 -.4l1 -.3l1 .4l1 .3l1 .1l1 .1l1 .3l1 .1l1 -.3l1 0l1 -.4l1 0l1 -.2l1 -.3l1 .5l1 0l1 -.6l1 .1l1 0l1 -.1l1 .4l1 .2l1 .1l1 0l1 -.3l1 -.1l1 -.1l1 -.1l1 .5l1 .1l1 -.1l1 .1l1 0l1 -.5l1 -.2l1 .6l1 .4l1 .5l1 -.4l1 -.2l1 .4l1 .2l1 -.1l1 .2l1 -.2l1 .2l1 .4l1 -.9l1 -.2l1 .7l1 .7l1 .1l1 -.8l1 .4l1 .5l1 -.3l1 .2l1 0l1 -.2l1 .4l1 .1l1 .1l1 -.1l1 .2l1 -.2l1 -.6l1 .5l1 .3l1 0l1 .2l1 0l1 -.2l1 .2l1 .5l1 -.1l1 .2l1 .5l1 -.5l1 0l1 0l1 -.1l1 0l1 0l1 -.1l1 .2l1 .2" stroke="#e0d42a" stroke-width="2.0" fill="none" stroke-linejoin="round"/>
<path d="M351.9 1478.0l1 -2.4l1 -1.9l1 -1.4l1 -2.4l1 -2.8l1 -2.9l1 -2.9l1 -2.4l1 -2.2l1 -1.7l1 -1.4l1 -1.3l1 -1.5l1 -1.5l1 -1.2l1 -1.4l1 -1.7l1 -1.8l1 -1.3l1 -.7l1 -.8l1 -.9l1 -.3l1 -.7l1 -1.1l1 -.8l1 -1.1l1 -.6l1 -.6l1 -.6l1 -1.8l1 -1.1l1 -.2l1 -1.1l1 -1.2l1 -1.4l1 -1.1l1 -1l1 -1.9l1 -2.3l1 -1.9l1 -2.2l1 -1.8l1 -1.8l1 -1.9l1 -1.2l1 -.9l1 -.2l1 -.1l1 -.1l1 1.1l1 1.2l1 .8l1 1.2l1 1.2l1 1.4l1 1.7l1 1.1l1 2l1 1.7l1 .8l1 .8l1 .5l1 -.3l1 -1l1 -.8l1 -1.2l1 -1.1l1 -.5l1 -.3l1 -.5l1 -.5l1 .1l1 .2l1 -.3l1 0l1 .8l1 1.5l1 2.1l1 2.4l1 3.2l1 3.3l1 3.1l1 3.7l1 3.8l1 3.4l1 3.7l1 3.7l1 3.9l1 3.1l1 2.8l1 2.7l1 2.6l1 2.4l1 1.6l1 1.6l1 1.1l1 .5l1 .5l1 .4l1 .3l1 .1l1 .1l1 .1l1 .2l1 -.3l1 .1l1 .5l1 .1l1 -.1l1 -.2l1 .5l1 .1l1 0l1 .1l1 -.3l1 -.1l1 0l1 -.1l1 -.3l1 .3l1 .3l1 -.6l1 .3l1 .3l1 -.5l1 -.4l1 .1l1 .3l1 -.3l1 .1l1 .2l1 -.1l1 0l1 0l1 .1l1 .2l1 -.3l1 .1l1 -.2l1 -.3l1 .4l1 -.1l1 .1l1 -.4l1 -.2l1 .5l1 0l1 -.4l1 0l1 .3l1 -.3l1 .2l1 .1l1 -.5l1 .1l1 .1l1 -.1l1 .2l1 -.1l1 .1l1 .1l1 .1l1 -.3l1 -.2l1 .2l1 0l1 -.5l1 -.3l1 .5l1 .3l1 0l1 -.1l1 .2l1 -.1l1 -.5l1 .4l1 .3l1 -.4l1 -.3l1 .3l1 .1l1 -.5l1 .3l1 -.2l1 -.3l1 .5l1 -.1l1 -.2l1 .1l1 -.2l1 -.1l1 .4l1 -.2l1 .1l1 .2l1 -.4l1 0l1 .1l1 0l1 -.1l1 .4l1 .2l1 -.6l1 0l1 .2l1 -.2l1 .1l1 0l1 -.2l1 .1l1 .3l1 -.2l1 -.3l1 .3l1 .2l1 -.1l1 -.2l1 .1l1 -.2l1 0l1 0l1 -.2l1 -.5l1 -.3l1 .5l1 .5l1 0l1 -.2l1 -.2l1 0l1 0l1 -.2l1 .3l1 -.3l1 -.4l1 .2l1 -.3l1 -.2l1 .6l1 .3l1 -.2l1 .2l1 -.1l1 .2l1 .3l1 -.4l1 .3l1 .3l1 -.1l1 0l1 -.3l1 -.4l1 .5l1 .7l1 0l1 -.1l1 -.1l1 -.3l1 .4l1 .6l1 .2l1 .2l1 -.3l1 -.2l1 .4l1 -.1l1 -.2l1 .3l1 .1l1 .3l1 .1l1 -.2l1 -.5l1 .3l1 .8l1 0l1 -.1l1 0l1 .3l1 -.1l1 -.2l1 -.1l1 .1l1 .1l1 -.1l1 -.1l1 .2l1 .7l1 -.5l1 .1l1 .7l1 -.3l1 .1l1 .2l1 0l1 .4l1 .2l1 -.2l1 0" stroke="#dea828" stroke-width="2.0" fill="none" stroke-linejoin="round"/>
<path d="M351.9 1478.2l1 -2.3l1 -2.3l1 -2.3l1 -2.2l1 -2.4l1 -3l1 -2.7l1 -2.5l1 -2.5l1 -1.7l1 -2l1 -1.7l1 -1.7l1 -2.1l1 -1.2l1 -1.5l1 -1.9l1 -1.5l1 -.8l1 -1.3l1 -1l1 -.4l1 -.6l1 -.8l1 -1l1 -.8l1 -.2l1 -.5l1 -1.3l1 -1.1l1 -1l1 -1.7l1 -1.3l1 -1l1 -1.8l1 -.8l1 -.8l1 -1.5l1 -1.7l1 -2.4l1 -1.9l1 -2l1 -2.5l1 -2.1l1 -1.3l1 -1.2l1 -1.1l1 -.7l1 .1l1 .9l1 .3l1 .8l1 1.2l1 1.4l1 1.7l1 1.3l1 2.2l1 1.6l1 .9l1 1.7l1 1.5l1 .9l1 -.3l1 -.2l1 -.4l1 -1.3l1 -1.2l1 -1l1 -.1l1 -.5l1 -1.2l1 -.6l1 .1l1 .2l1 .1l1 .3l1 1.4l1 1.3l1 1.4l1 2.4l1 3.8l1 3.9l1 3.7l1 3.8l1 3.5l1 3.4l1 3.6l1 3.8l1 3.9l1 3.5l1 3.1l1 3.3l1 3.1l1 2.3l1 1.9l1 1.6l1 .7l1 1l1 .7l1 .3l1 .7l1 -.3l1 -.2l1 .6l1 .2l1 .1l1 0l1 -.4l1 -.4l1 .5l1 -.1l1 -.1l1 .5l1 .3l1 .3l1 0l1 -.3l1 -.5l1 0l1 .1l1 0l1 -.1l1 -.1l1 -.4l1 -.1l1 .4l1 -.2l1 -.1l1 .3l1 .4l1 -.2l1 -.5l1 -.3l1 -.2l1 -.1l1 -.2l1 .5l1 .3l1 0l1 -.4l1 -.5l1 0l1 .7l1 .6l1 -.6l1 -.3l1 .3l1 -.2l1 -.2l1 .4l1 .3l1 0l1 -.1l1 -.2l1 0l1 0l1 .2l1 .1l1 -.3l1 -.1l1 -.3l1 0l1 .1l1 -.2l1 .2l1 .6l1 -.1l1 -.5l1 -.2l1 -.3l1 .2l1 .4l1 -.3l1 -.1l1 0l1 .2l1 .2l1 -.2l1 .3l1 -.6l1 -.3l1 .5l1 -.1l1 -.1l1 .3l1 -.2l1 -.4l1 .5l1 .3l1 -.2l1 -.1l1 -.1l1 -.3l1 0l1 .1l1 -.1l1 -.4l1 .1l1 .3l1 0l1 .1l1 .1l1 0l1 0l1 -.3l1 .1l1 .2l1 -.2l1 -.4l1 .4l1 .1l1 -.2l1 0l1 -.1l1 .4l1 .3l1 -.6l1 -.6l1 -.5l1 .4l1 1l1 -.1l1 -.4l1 .1l1 -.2l1 0l1 .4l1 .1l1 -.2l1 -.4l1 -.3l1 -.2l1 .5l1 .4l1 -.5l1 -.3l1 .1l1 -.2l1 .1l1 .2l1 0l1 -.1l1 -.5l1 0l1 .3l1 -.2l1 .8l1 .4l1 -.4l1 .1l1 0l1 .4l1 -.1l1 -.1l1 .3l1 .3l1 .4l1 -.2l1 -.4l1 .3l1 .6l1 0l1 -.2l1 .1l1 0l1 0l1 .3l1 -.1l1 -.2l1 .1l1 .1l1 -.2l1 .5l1 .3l1 -.3l1 0l1 .3l1 .1l1 -.2l1 .2l1 .3l1 -.2l1 -.2l1 .6l1 .2l1 .1l1 .2l1 -.2l1 -.1l1 .5l1 0l1 -.4l1 .1l1 .1l1 .1l1 .1l1 0l1 .2l1 .4l1 .1" stroke="#ec7c22" stroke-width="2.0" fill="none" stroke-linejoin="round"/>
<path d="M351.9 1478.1l1 -2l1 -1.8l1 -2.8l1 -3.2l1 -2.5l1 -3l1 -3.2l1 -2.6l1 -2.5l1 -1.9l1 -1.7l1 -2.1l1 -1.6l1 -1.2l1 -1.8l1 -1.8l1 -1.6l1 -1.4l1 -1.2l1 -1.2l1 -1.2l1 -1.2l1 -1.2l1 -.6l1 -.2l1 -.7l1 -1l1 -.8l1 -.7l1 -1.3l1 -1.4l1 -1l1 -1.3l1 -1.6l1 -1.7l1 -.9l1 -.7l1 -1.1l1 -1.8l1 -3l1 -2.4l1 -2.2l1 -2.5l1 -2.2l1 -1.7l1 -1.3l1 -.8l1 -.4l1 .2l1 .6l1 1.1l1 .9l1 1l1 1.1l1 1.1l1 1.7l1 1.4l1 2l1 2.1l1 1.6l1 1.8l1 .8l1 -.1l1 -.9l1 -.6l1 -.3l1 -1.6l1 -.9l1 -.6l1 -1l1 -1l1 0l1 -.4l1 -.4l1 1.2l1 .6l1 .2l1 1.3l1 2.1l1 2.9l1 3.9l1 3.6l1 3.4l1 4.3l1 3.9l1 3.5l1 4.8l1 4.1l1 3.1l1 3.8l1 3.8l1 3.4l1 3l1 2.2l1 1.6l1 1.9l1 1.2l1 1.1l1 .8l1 -.4l1 -.1l1 .6l1 .4l1 .3l1 .3l1 -.3l1 -.5l1 .6l1 .3l1 -.6l1 .1l1 .5l1 .1l1 -.1l1 .6l1 .1l1 -.2l1 .2l1 -.5l1 .3l1 -.3l1 0l1 0l1 -.6l1 .2l1 .3l1 0l1 -.3l1 -.3l1 .3l1 .4l1 -.4l1 -.1l1 .2l1 -.2l1 -.4l1 -.3l1 .3l1 -.3l1 -.2l1 .6l1 -.2l1 .2l1 .7l1 -.6l1 -.4l1 .2l1 -.1l1 -.1l1 .2l1 .5l1 -.1l1 -.4l1 0l1 -.2l1 .1l1 .1l1 -.4l1 .2l1 -.2l1 -.3l1 .3l1 .1l1 -.3l1 -.2l1 .3l1 .3l1 0l1 -.2l1 -.2l1 .1l1 -.5l1 .1l1 .8l1 -.1l1 -.5l1 .3l1 0l1 0l1 .1l1 -.5l1 0l1 0l1 0l1 .2l1 0l1 -.2l1 0l1 .1l1 0l1 0l1 .2l1 -.1l1 0l1 -.1l1 .1l1 .1l1 -.1l1 -.2l1 -.4l1 -.1l1 .3l1 .2l1 -.1l1 .2l1 -.2l1 -.7l1 .2l1 .2l1 .1l1 .2l1 .6l1 -.4l1 -.8l1 .2l1 -.1l1 -.1l1 .5l1 .2l1 -.3l1 .2l1 -.4l1 -.2l1 .3l1 0l1 -.3l1 -.2l1 .2l1 .2l1 -.2l1 -.1l1 -.3l1 -.1l1 .5l1 -.3l1 -.3l1 .2l1 .1l1 .2l1 0l1 -.3l1 0l1 .2l1 .2l1 .1l1 -.2l1 0l1 .1l1 0l1 .1l1 .2l1 .3l1 0l1 0l1 .1l1 .2l1 .4l1 .2l1 .2l1 -.4l1 0l1 .1l1 0l1 0l1 .1l1 .3l1 .2l1 .5l1 0l1 -.4l1 .1l1 0l1 0l1 .1l1 .1l1 .2l1 .2l1 -.2l1 0l1 .3l1 0l1 0l1 .1l1 .3l1 .1l1 -.2l1 .1l1 .4l1 -.1l1 0l1 .2l1 .8l1 .2l1 -.6l1 -.1l1 -.2l1 0l1 .8l1 .3l1 -.4" stroke="#f02c2c" stroke-width="2.0" fill="none" stroke-linejoin="round"/>
<path d="M351.9 1478.2l1 -2.3l1 -2.6l1 -2.6l1 -2.4l1 -3.1l1 -3.3l1 -3.5l1 -3.1l1 -1.5l1 -1.4l1 -1.7l1 -2.3l1 -2.1l1 -1.6l1 -1.6l1 -1.5l1 -1.8l1 -1.5l1 -1.5l1 -1.3l1 -1.1l1 -1l1 -.7l1 -.9l1 -1l1 -1.1l1 -1l1 -.4l1 -1.1l1 -.9l1 -.8l1 -1.9l1 -1.2l1 -1.4l1 -1.3l1 -1l1 -1l1 -1.2l1 -1.9l1 -2.8l1 -2.4l1 -2.4l1 -2.6l1 -1.8l1 -1.5l1 -1.8l1 -1.1l1 -.7l1 .1l1 .9l1 .7l1 .7l1 1.4l1 1.5l1 1.5l1 1.6l1 1.4l1 1.8l1 2l1 1.6l1 1.2l1 1l1 .1l1 -.4l1 -.3l1 -.6l1 -1.5l1 -1l1 -.6l1 -1l1 -.9l1 -.3l1 .3l1 -.6l1 -.3l1 1.1l1 .7l1 1.6l1 2.4l1 2.4l1 3.8l1 4.4l1 3.7l1 3.9l1 4.2l1 4l1 4.2l1 4l1 4.1l1 3.7l1 3.8l1 3.6l1 3.2l1 3.1l1 1.9l1 1l1 .8l1 .8l1 .7l1 .4l1 -.1l1 .5l1 .5l1 .3l1 .5l1 -.5l1 -.5l1 .5l1 .5l1 0l1 -.2l1 -.2l1 .5l1 .4l1 -.3l1 .3l1 -.3l1 -.1l1 .2l1 -.4l1 -.3l1 .1l1 .1l1 0l1 -.4l1 -.4l1 0l1 -.4l1 -.2l1 .5l1 .1l1 -.2l1 .3l1 .2l1 0l1 -.1l1 -.3l1 -.1l1 .1l1 -.2l1 -.3l1 .5l1 .3l1 -.1l1 -.4l1 .1l1 .1l1 -.2l1 0l1 .3l1 .5l1 -.5l1 -.6l1 .2l1 .3l1 .3l1 -.2l1 -.5l1 0l1 .3l1 -.4l1 -.1l1 .2l1 -.1l1 0l1 .4l1 .2l1 -.4l1 -.4l1 .3l1 0l1 -.2l1 .5l1 -.5l1 -.6l1 .3l1 .1l1 .5l1 0l1 -.4l1 0l1 0l1 0l1 .6l1 -.3l1 -.5l1 .1l1 -.4l1 .1l1 .4l1 -.6l1 0l1 .4l1 -.2l1 .2l1 .1l1 -.6l1 .3l1 .2l1 -.1l1 -.3l1 -.3l1 .1l1 .2l1 .2l1 .3l1 .3l1 -.2l1 -.4l1 .4l1 0l1 -.2l1 -.1l1 -.2l1 0l1 -.1l1 .1l1 -.1l1 -.1l1 .3l1 .4l1 -.5l1 -.5l1 .5l1 -.1l1 0l1 .1l1 -.1l1 -.3l1 -.2l1 0l1 -.2l1 0l1 0l1 -.3l1 -.1l1 .4l1 .1l1 -.4l1 .3l1 .1l1 -.1l1 .1l1 .1l1 .2l1 -.4l1 .4l1 .7l1 -.5l1 .1l1 .3l1 0l1 .4l1 .3l1 0l1 .3l1 .1l1 -.4l1 -.4l1 .4l1 0l1 -.1l1 .3l1 0l1 .4l1 .3l1 -.2l1 .2l1 0l1 .1l1 .6l1 -.2l1 -.4l1 .3l1 -.2l1 -.5l1 .3l1 0l1 .3l1 .5l1 0l1 .1l1 .2l1 .3l1 .2l1 -.2l1 -.1l1 .4l1 .2l1 0l1 -.1l1 -.2l1 .1l1 .1l1 .3l1 0l1 .4l1 -.1l1 -.1l1 .2" stroke="#e8007c" stroke-width="2.0" fill="none" stroke-linejoin="round"/>
<path d="M351.9 1479.8H651.9M351.9 1479.8v4M451.9 1479.8v4M551.9 1479.8v4M651.9 1479.8v4M401.9 1479.8v2.2M501.9 1479.8v2.2M601.9 1479.8v2.2" stroke="#000" stroke-width="2.1" fill="none"/>
<g transform="translate(351.90 1509.10) scale(1.0000 1.040)"><text x="-23.86" y="0" font-size="28.60">400</text></g>
<g transform="translate(451.90 1509.10) scale(1.0000 1.040)"><text x="-23.86" y="0" font-size="28.60">500</text></g>
<g transform="translate(551.90 1509.10) scale(1.0000 1.040)"><text x="-23.86" y="0" font-size="28.60">600</text></g>
<g transform="translate(651.90 1509.10) scale(1.0000 1.040)"><text x="-23.86" y="0" font-size="28.60">700</text></g>
<g transform="translate(337.80 1438.30) rotate(-90) scale(1.0000 1.040)"><text x="-18.69" y="0" font-size="28.00">ΔA</text></g>
<path d="M375.9 1570.6H425.3" stroke="#000" stroke-width="3.2" stroke-linecap="round"/>
<g transform="translate(431.40 1578.20) scale(1.0000 1.040)"><text x="0.00" y="0" font-size="22.00">oxidized</text></g>
<path d="M536.4 1570.6H586.0" stroke="#00d200" stroke-width="3.2" stroke-linecap="round"/>
<g transform="translate(592.40 1578.20) scale(1.0000 1.040)"><text x="0.00" y="0" font-size="22.00">60</text></g>
<path d="M375.9 1597.6H425.3" stroke="#9100c4" stroke-width="3.2" stroke-linecap="round"/>
<g transform="translate(431.40 1605.22) scale(1.0000 1.040)"><text x="0.00" y="0" font-size="22.00">0</text></g>
<path d="M536.4 1597.6H586.0" stroke="#94e02c" stroke-width="3.2" stroke-linecap="round"/>
<g transform="translate(592.40 1605.22) scale(1.0000 1.040)"><text x="0.00" y="0" font-size="22.00">70</text></g>
<path d="M375.9 1624.6H425.3" stroke="#5f00d2" stroke-width="3.2" stroke-linecap="round"/>
<g transform="translate(431.40 1632.24) scale(1.0000 1.040)"><text x="0.00" y="0" font-size="22.00"> 0</text><path transform="translate(0.00 0) scale(0.01074 -0.01074)" stroke="#000" stroke-width="32.58" d="M763 0H583V1098Q518 1038 412 979Q307 920 223 891V1058Q374 1126 487 1222Q600 1319 647 1409H763Z"/></g>
<path d="M536.4 1624.6H586.0" stroke="#e0d42a" stroke-width="3.2" stroke-linecap="round"/>
<g transform="translate(592.40 1632.24) scale(1.0000 1.040)"><text x="0.00" y="0" font-size="22.00">80</text></g>
<path d="M375.9 1651.7H425.3" stroke="#1428f0" stroke-width="3.2" stroke-linecap="round"/>
<g transform="translate(431.40 1659.26) scale(1.0000 1.040)"><text x="0.00" y="0" font-size="22.00">20</text></g>
<path d="M536.4 1651.7H586.0" stroke="#dea828" stroke-width="3.2" stroke-linecap="round"/>
<g transform="translate(592.40 1659.26) scale(1.0000 1.040)"><text x="0.00" y="0" font-size="22.00">90</text></g>
<path d="M375.9 1678.7H425.3" stroke="#0896f5" stroke-width="3.2" stroke-linecap="round"/>
<g transform="translate(431.40 1686.28) scale(1.0000 1.040)"><text x="0.00" y="0" font-size="22.00">30</text></g>
<path d="M536.4 1678.7H586.0" stroke="#ec7c22" stroke-width="3.2" stroke-linecap="round"/>
<g transform="translate(592.40 1686.28) scale(1.0000 1.040)"><text x="0.00" y="0" font-size="22.00"> 00</text><path transform="translate(0.00 0) scale(0.01074 -0.01074)" stroke="#000" stroke-width="32.58" d="M763 0H583V1098Q518 1038 412 979Q307 920 223 891V1058Q374 1126 487 1222Q600 1319 647 1409H763Z"/></g>
<path d="M375.9 1705.7H425.3" stroke="#08c2c4" stroke-width="3.2" stroke-linecap="round"/>
<g transform="translate(431.40 1713.30) scale(1.0000 1.040)"><text x="0.00" y="0" font-size="22.00">40</text></g>
<path d="M536.4 1705.7H586.0" stroke="#f02c2c" stroke-width="3.2" stroke-linecap="round"/>
<g transform="translate(592.40 1713.30) scale(1.0000 1.040)"><text x="0.00" y="0" font-size="22.00">  0</text><path transform="translate(0.00 0) scale(0.01074 -0.01074)" stroke="#000" stroke-width="32.58" d="M763 0H583V1098Q518 1038 412 979Q307 920 223 891V1058Q374 1126 487 1222Q600 1319 647 1409H763Z"/><path transform="translate(12.24 0) scale(0.01074 -0.01074)" stroke="#000" stroke-width="32.58" d="M763 0H583V1098Q518 1038 412 979Q307 920 223 891V1058Q374 1126 487 1222Q600 1319 647 1409H763Z"/></g>
<path d="M375.9 1732.7H425.3" stroke="#08cd84" stroke-width="3.2" stroke-linecap="round"/>
<g transform="translate(431.40 1740.32) scale(1.0000 1.040)"><text x="0.00" y="0" font-size="22.00">50</text></g>
<path d="M536.4 1732.7H586.0" stroke="#e8007c" stroke-width="3.2" stroke-linecap="round"/>
<g transform="translate(592.40 1740.32) scale(1.0000 1.040)"><text x="0.00" y="0" font-size="22.00"> 20 min</text><path transform="translate(0.00 0) scale(0.01074 -0.01074)" stroke="#000" stroke-width="32.58" d="M763 0H583V1098Q518 1038 412 979Q307 920 223 891V1058Q374 1126 487 1222Q600 1319 647 1409H763Z"/></g>
<g transform="translate(9.00 1337.40) scale(1.0000 1.040)"><text x="0.00" y="0" font-size="48.00" letter-spacing="1.20">(c)</text></g>
<g transform="translate(316.50 1337.50) scale(1.0000 1.040)"><text x="0.00" y="0" font-size="48.00"><tspan font-style="italic">Cra</tspan>CRY</text></g>
</svg></body></html>
